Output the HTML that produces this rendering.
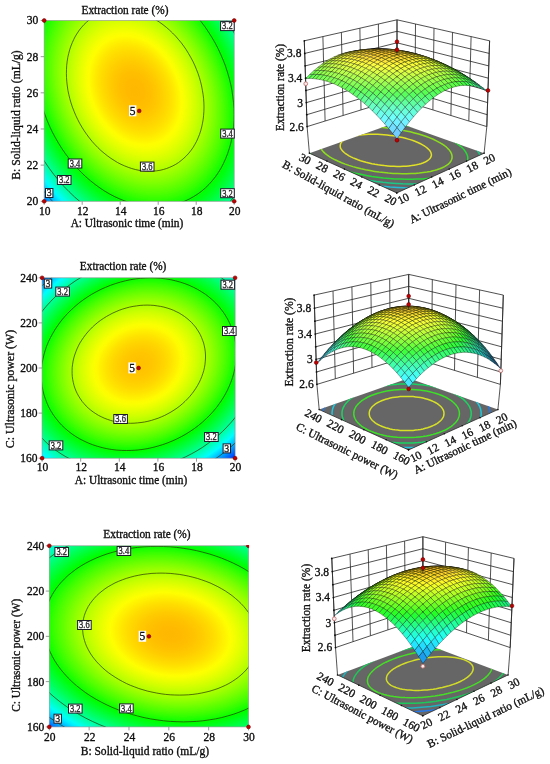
<!DOCTYPE html>
<html><head><meta charset="utf-8"><title>Response surface plots</title>
<style>html,body{margin:0;padding:0;background:#fff}svg{display:block}text{font-family:"Liberation Serif",serif}</style></head>
<body><svg width="550" height="764" viewBox="0 0 550 764">
<defs><filter id="soft" x="0" y="0" width="550" height="764" filterUnits="userSpaceOnUse"><feGaussianBlur stdDeviation="0.4"/></filter><radialGradient id="g1" gradientUnits="userSpaceOnUse" cx="0" cy="0" r="1" gradientTransform="matrix(145.570 0.000 -31.312 -175.358 135.18 90.26)"><stop offset="0.0000" stop-color="#ffb800"/><stop offset="0.0208" stop-color="#ffb800"/><stop offset="0.0417" stop-color="#ffb900"/><stop offset="0.0625" stop-color="#ffba00"/><stop offset="0.0833" stop-color="#ffbd00"/><stop offset="0.1042" stop-color="#ffbf00"/><stop offset="0.1250" stop-color="#ffc300"/><stop offset="0.1458" stop-color="#ffc700"/><stop offset="0.1667" stop-color="#ffcc00"/><stop offset="0.1875" stop-color="#ffd100"/><stop offset="0.2083" stop-color="#ffd700"/><stop offset="0.2292" stop-color="#ffdd00"/><stop offset="0.2500" stop-color="#ffe400"/><stop offset="0.2708" stop-color="#ffec00"/><stop offset="0.2917" stop-color="#fff500"/><stop offset="0.3125" stop-color="#fffe00"/><stop offset="0.3333" stop-color="#f7ff00"/><stop offset="0.3542" stop-color="#ecff00"/><stop offset="0.3750" stop-color="#e2ff00"/><stop offset="0.3958" stop-color="#d6ff00"/><stop offset="0.4167" stop-color="#caff00"/><stop offset="0.4375" stop-color="#bdff00"/><stop offset="0.4583" stop-color="#b0ff00"/><stop offset="0.4792" stop-color="#a2ff00"/><stop offset="0.5000" stop-color="#93ff00"/><stop offset="0.5208" stop-color="#84ff00"/><stop offset="0.5417" stop-color="#74ff00"/><stop offset="0.5625" stop-color="#64ff00"/><stop offset="0.5833" stop-color="#53ff00"/><stop offset="0.6042" stop-color="#41ff00"/><stop offset="0.6250" stop-color="#2fff00"/><stop offset="0.6458" stop-color="#1cff00"/><stop offset="0.6667" stop-color="#08ff00"/><stop offset="0.6875" stop-color="#00ff0c"/><stop offset="0.7083" stop-color="#00ff21"/><stop offset="0.7292" stop-color="#00ff36"/><stop offset="0.7500" stop-color="#00ff4d"/><stop offset="0.7708" stop-color="#00ff63"/><stop offset="0.7917" stop-color="#00ff7b"/><stop offset="0.8125" stop-color="#00ff92"/><stop offset="0.8333" stop-color="#00ffad"/><stop offset="0.8542" stop-color="#00ffc9"/><stop offset="0.8750" stop-color="#00ffe6"/><stop offset="0.8958" stop-color="#00faff"/><stop offset="0.9167" stop-color="#00dcff"/><stop offset="0.9375" stop-color="#00bdff"/><stop offset="0.9583" stop-color="#009dff"/><stop offset="0.9792" stop-color="#007dff"/><stop offset="1.0000" stop-color="#005cff"/></radialGradient><clipPath id="c1"><rect x="44.2" y="20.5" width="190" height="180.8"/></clipPath><radialGradient id="g2" gradientUnits="userSpaceOnUse" cx="0" cy="0" r="1" gradientTransform="matrix(153.441 0.000 19.163 -136.905 138.79 364.20)"><stop offset="0.0000" stop-color="#ffc100"/><stop offset="0.0208" stop-color="#ffc100"/><stop offset="0.0417" stop-color="#ffc200"/><stop offset="0.0625" stop-color="#ffc400"/><stop offset="0.0833" stop-color="#ffc600"/><stop offset="0.1042" stop-color="#ffc900"/><stop offset="0.1250" stop-color="#ffcd00"/><stop offset="0.1458" stop-color="#ffd100"/><stop offset="0.1667" stop-color="#ffd600"/><stop offset="0.1875" stop-color="#ffdc00"/><stop offset="0.2083" stop-color="#ffe200"/><stop offset="0.2292" stop-color="#ffea00"/><stop offset="0.2500" stop-color="#fff100"/><stop offset="0.2708" stop-color="#fffa00"/><stop offset="0.2917" stop-color="#fbff00"/><stop offset="0.3125" stop-color="#f2ff00"/><stop offset="0.3333" stop-color="#e7ff00"/><stop offset="0.3542" stop-color="#dcff00"/><stop offset="0.3750" stop-color="#d1ff00"/><stop offset="0.3958" stop-color="#c4ff00"/><stop offset="0.4167" stop-color="#b7ff00"/><stop offset="0.4375" stop-color="#a9ff00"/><stop offset="0.4583" stop-color="#9bff00"/><stop offset="0.4792" stop-color="#8cff00"/><stop offset="0.5000" stop-color="#7cff00"/><stop offset="0.5208" stop-color="#6cff00"/><stop offset="0.5417" stop-color="#5bff00"/><stop offset="0.5625" stop-color="#49ff00"/><stop offset="0.5833" stop-color="#37ff00"/><stop offset="0.6042" stop-color="#23ff00"/><stop offset="0.6250" stop-color="#10ff00"/><stop offset="0.6458" stop-color="#00ff05"/><stop offset="0.6667" stop-color="#00ff1a"/><stop offset="0.6875" stop-color="#00ff30"/><stop offset="0.7083" stop-color="#00ff46"/><stop offset="0.7292" stop-color="#00ff5d"/><stop offset="0.7500" stop-color="#00ff75"/><stop offset="0.7708" stop-color="#00ff8d"/><stop offset="0.7917" stop-color="#00ffa8"/><stop offset="0.8125" stop-color="#00ffc5"/><stop offset="0.8333" stop-color="#00ffe2"/><stop offset="0.8542" stop-color="#00fdff"/><stop offset="0.8750" stop-color="#00deff"/><stop offset="0.8958" stop-color="#00beff"/><stop offset="0.9167" stop-color="#009eff"/><stop offset="0.9375" stop-color="#007cff"/><stop offset="0.9583" stop-color="#005aff"/><stop offset="0.9792" stop-color="#0037ff"/><stop offset="1.0000" stop-color="#0014ff"/></radialGradient><clipPath id="c2"><rect x="42.1" y="277.8" width="193" height="180.4"/></clipPath><radialGradient id="g3" gradientUnits="userSpaceOnUse" cx="0" cy="0" r="1" gradientTransform="matrix(191.054 0.000 -20.150 -133.671 170.21 634.11)"><stop offset="0.0000" stop-color="#ffb800"/><stop offset="0.0208" stop-color="#ffb800"/><stop offset="0.0417" stop-color="#ffb900"/><stop offset="0.0625" stop-color="#ffbb00"/><stop offset="0.0833" stop-color="#ffbd00"/><stop offset="0.1042" stop-color="#ffc000"/><stop offset="0.1250" stop-color="#ffc300"/><stop offset="0.1458" stop-color="#ffc800"/><stop offset="0.1667" stop-color="#ffcc00"/><stop offset="0.1875" stop-color="#ffd200"/><stop offset="0.2083" stop-color="#ffd800"/><stop offset="0.2292" stop-color="#ffde00"/><stop offset="0.2500" stop-color="#ffe600"/><stop offset="0.2708" stop-color="#ffee00"/><stop offset="0.2917" stop-color="#fff600"/><stop offset="0.3125" stop-color="#feff00"/><stop offset="0.3333" stop-color="#f5ff00"/><stop offset="0.3542" stop-color="#eaff00"/><stop offset="0.3750" stop-color="#dfff00"/><stop offset="0.3958" stop-color="#d3ff00"/><stop offset="0.4167" stop-color="#c7ff00"/><stop offset="0.4375" stop-color="#baff00"/><stop offset="0.4583" stop-color="#acff00"/><stop offset="0.4792" stop-color="#9eff00"/><stop offset="0.5000" stop-color="#8fff00"/><stop offset="0.5208" stop-color="#7fff00"/><stop offset="0.5417" stop-color="#6fff00"/><stop offset="0.5625" stop-color="#5eff00"/><stop offset="0.5833" stop-color="#4dff00"/><stop offset="0.6042" stop-color="#3bff00"/><stop offset="0.6250" stop-color="#28ff00"/><stop offset="0.6458" stop-color="#14ff00"/><stop offset="0.6667" stop-color="#00ff00"/><stop offset="0.6875" stop-color="#00ff14"/><stop offset="0.7083" stop-color="#00ff2a"/><stop offset="0.7292" stop-color="#00ff40"/><stop offset="0.7500" stop-color="#00ff56"/><stop offset="0.7708" stop-color="#00ff6d"/><stop offset="0.7917" stop-color="#00ff85"/><stop offset="0.8125" stop-color="#00ff9e"/><stop offset="0.8333" stop-color="#00ffba"/><stop offset="0.8542" stop-color="#00ffd7"/><stop offset="0.8750" stop-color="#00fff5"/><stop offset="0.8958" stop-color="#00ebff"/><stop offset="0.9167" stop-color="#00ccff"/><stop offset="0.9375" stop-color="#00acff"/><stop offset="0.9583" stop-color="#008cff"/><stop offset="0.9792" stop-color="#006bff"/><stop offset="1.0000" stop-color="#0049ff"/></radialGradient><clipPath id="c3"><rect x="49.3" y="545.8" width="199.2" height="181.1"/></clipPath><clipPath id="ctr3"><rect x="238.5" y="545" width="10.6" height="12"/></clipPath><clipPath id="f1"><path d="M396.8 192.9 L484.1 153.2 L396.8 122.2 L309.4 153.2Z"/></clipPath><clipPath id="f2"><path d="M408.6 449.9 L497.9 409.6 L408.6 378.2 L319.2 409.6Z"/></clipPath><clipPath id="f3"><path d="M422.8 715.8 L508.1 674.9 L422.8 643.1 L337.5 674.9Z"/></clipPath></defs>
<rect width="550" height="764" fill="#fff"/>
<g filter="url(#soft)">
<rect x="44.2" y="20.5" width="190" height="180.8" fill="url(#g1)"/>
<g clip-path="url(#c1)" fill="none" stroke="#223000" stroke-opacity="0.85" stroke-width="0.8">
<path d="M289.6 90.3 L287.6 80.5 L285.3 70.8 L282.5 61.2 L279.3 51.6 L275.7 42.1 L271.8 32.8 L267.4 23.6 L262.7 14.6 L257.7 5.8 L252.3 -2.7 L246.6 -11.0 L240.6 -19.1 L234.3 -26.8 L227.7 -34.2 L220.9 -41.3 L213.8 -48.0 L206.5 -54.3 L199.1 -60.2 L191.4 -65.7 L183.6 -70.8 L175.7 -75.5 L167.6 -79.7 L159.5 -83.4 L151.3 -86.6 L143.1 -89.4 L134.8 -91.7 L126.5 -93.4 L118.3 -94.7 L110.1 -95.5 L102.0 -95.7 L93.9 -95.5 L86.0 -94.7 L78.2 -93.4 L70.6 -91.7 L63.1 -89.4 L55.9 -86.6 L48.8 -83.4 L42.0 -79.7 L35.5 -75.5 L29.2 -70.8 L23.2 -65.7 L17.6 -60.2 L12.2 -54.3 L7.2 -48.0 L2.5 -41.3 L-1.8 -34.2 L-5.7 -26.8 L-9.3 -19.1 L-12.4 -11.0 L-15.1 -2.7 L-17.5 5.8 L-19.4 14.6 L-20.9 23.6 L-21.9 32.8 L-22.6 42.1 L-22.8 51.6 L-22.5 61.2 L-21.8 70.8 L-20.7 80.5 L-19.2 90.3 L-17.3 100.0 L-14.9 109.7 L-12.1 119.4 L-8.9 128.9 L-5.4 138.4 L-1.4 147.7 L2.9 156.9 L7.6 165.9 L12.7 174.7 L18.1 183.3 L23.8 191.6 L29.8 199.6 L36.1 207.3 L42.7 214.7 L49.5 221.8 L56.5 228.5 L63.8 234.8 L71.3 240.7 L78.9 246.2 L86.7 251.3 L94.7 256.0 L102.7 260.2 L110.9 263.9 L119.1 267.2 L127.3 269.9 L135.6 272.2 L143.8 274.0 L152.1 275.2 L160.3 276.0 L168.4 276.3 L176.4 276.0 L184.4 275.2 L192.1 274.0 L199.8 272.2 L207.2 269.9 L214.5 267.2 L221.5 263.9 L228.3 260.2 L234.9 256.0 L241.1 251.3 L247.1 246.2 L252.8 240.7 L258.2 234.8 L263.2 228.5 L267.8 221.8 L272.1 214.7 L276.1 207.3 L279.6 199.6 L282.8 191.6 L285.5 183.3 L287.8 174.7 L289.7 165.9 L291.2 156.9 L292.3 147.7 L292.9 138.4 L293.1 128.9 L292.9 119.4 L292.2 109.7 L291.1 100.0 L289.6 90.3Z"/>
<path d="M273.1 90.3 L271.3 81.6 L269.2 72.9 L266.7 64.3 L263.9 55.7 L260.7 47.3 L257.1 38.9 L253.3 30.7 L249.1 22.7 L244.6 14.9 L239.8 7.2 L234.7 -0.2 L229.3 -7.4 L223.7 -14.3 L217.8 -20.9 L211.7 -27.2 L205.4 -33.2 L198.9 -38.8 L192.2 -44.1 L185.4 -49.0 L178.4 -53.6 L171.4 -57.7 L164.2 -61.5 L156.9 -64.8 L149.6 -67.7 L142.2 -70.2 L134.8 -72.2 L127.5 -73.8 L120.1 -74.9 L112.8 -75.6 L105.5 -75.8 L98.3 -75.6 L91.3 -74.9 L84.3 -73.8 L77.5 -72.2 L70.8 -70.2 L64.4 -67.7 L58.1 -64.8 L52.0 -61.5 L46.2 -57.7 L40.6 -53.6 L35.2 -49.0 L30.1 -44.1 L25.4 -38.8 L20.9 -33.2 L16.7 -27.2 L12.9 -20.9 L9.4 -14.3 L6.2 -7.4 L3.4 -0.2 L0.9 7.2 L-1.1 14.9 L-2.8 22.7 L-4.2 30.7 L-5.1 38.9 L-5.7 47.3 L-5.9 55.7 L-5.6 64.3 L-5.0 72.9 L-4.1 81.6 L-2.7 90.3 L-1.0 99.0 L1.2 107.6 L3.6 116.2 L6.5 124.8 L9.7 133.2 L13.2 141.6 L17.1 149.8 L21.3 157.8 L25.8 165.7 L30.6 173.3 L35.7 180.7 L41.1 187.9 L46.7 194.8 L52.6 201.4 L58.7 207.7 L65.0 213.7 L71.5 219.3 L78.1 224.6 L85.0 229.6 L91.9 234.1 L99.0 238.3 L106.2 242.0 L113.5 245.3 L120.8 248.2 L128.1 250.7 L135.5 252.7 L142.9 254.3 L150.3 255.4 L157.6 256.1 L164.8 256.4 L172.0 256.1 L179.1 255.4 L186.0 254.3 L192.9 252.7 L199.5 250.7 L206.0 248.2 L212.3 245.3 L218.4 242.0 L224.2 238.3 L229.8 234.1 L235.1 229.6 L240.2 224.6 L245.0 219.3 L249.5 213.7 L253.6 207.7 L257.5 201.4 L261.0 194.8 L264.2 187.9 L267.0 180.7 L269.4 173.3 L271.5 165.7 L273.2 157.8 L274.5 149.8 L275.5 141.6 L276.0 133.2 L276.2 124.8 L276.0 116.2 L275.4 107.6 L274.4 99.0 L273.1 90.3Z"/>
<path d="M254.3 90.3 L252.8 82.8 L250.9 75.3 L248.8 67.8 L246.3 60.4 L243.6 53.1 L240.5 45.9 L237.2 38.9 L233.6 31.9 L229.7 25.1 L225.5 18.5 L221.1 12.1 L216.5 5.9 L211.6 -0.0 L206.5 -5.7 L201.3 -11.2 L195.8 -16.3 L190.2 -21.2 L184.5 -25.8 L178.6 -30.1 L172.5 -34.0 L166.4 -37.6 L160.2 -40.8 L153.9 -43.7 L147.6 -46.2 L141.3 -48.3 L134.9 -50.1 L128.5 -51.4 L122.2 -52.4 L115.8 -53.0 L109.6 -53.2 L103.4 -53.0 L97.3 -52.4 L91.3 -51.4 L85.4 -50.1 L79.6 -48.3 L74.0 -46.2 L68.6 -43.7 L63.3 -40.8 L58.3 -37.6 L53.5 -34.0 L48.8 -30.1 L44.5 -25.8 L40.3 -21.2 L36.5 -16.3 L32.9 -11.2 L29.5 -5.7 L26.5 -0.0 L23.8 5.9 L21.4 12.1 L19.2 18.5 L17.4 25.1 L16.0 31.9 L14.8 38.9 L14.0 45.9 L13.5 53.1 L13.4 60.4 L13.6 67.8 L14.1 75.3 L14.9 82.8 L16.1 90.3 L17.6 97.8 L19.4 105.3 L21.6 112.7 L24.0 120.1 L26.8 127.4 L29.8 134.6 L33.2 141.7 L36.8 148.6 L40.7 155.4 L44.9 162.0 L49.3 168.4 L53.9 174.6 L58.8 180.5 L63.8 186.3 L69.1 191.7 L74.5 196.9 L80.1 201.7 L85.9 206.3 L91.8 210.6 L97.8 214.5 L103.9 218.1 L110.1 221.3 L116.4 224.2 L122.7 226.7 L129.1 228.8 L135.5 230.6 L141.9 232.0 L148.2 232.9 L154.5 233.5 L160.8 233.7 L167.0 233.5 L173.1 232.9 L179.1 232.0 L185.0 230.6 L190.7 228.8 L196.3 226.7 L201.8 224.2 L207.0 221.3 L212.1 218.1 L216.9 214.5 L221.5 210.6 L225.9 206.3 L230.0 201.7 L233.9 196.9 L237.5 191.7 L240.8 186.3 L243.9 180.5 L246.6 174.6 L249.0 168.4 L251.1 162.0 L252.9 155.4 L254.4 148.6 L255.5 141.7 L256.4 134.6 L256.8 127.4 L257.0 120.1 L256.8 112.7 L256.3 105.3 L255.4 97.8 L254.3 90.3Z"/>
<path d="M231.9 90.3 L230.7 84.2 L229.2 78.1 L227.4 72.0 L225.5 66.0 L223.2 60.1 L220.7 54.3 L218.0 48.5 L215.1 42.9 L211.9 37.4 L208.5 32.0 L205.0 26.8 L201.2 21.8 L197.2 16.9 L193.1 12.3 L188.9 7.9 L184.4 3.7 L179.9 -0.3 L175.2 -4.0 L170.4 -7.4 L165.5 -10.6 L160.6 -13.5 L155.5 -16.2 L150.4 -18.5 L145.3 -20.5 L140.1 -22.3 L134.9 -23.7 L129.8 -24.8 L124.6 -25.6 L119.5 -26.1 L114.4 -26.2 L109.3 -26.1 L104.4 -25.6 L99.5 -24.8 L94.7 -23.7 L90.1 -22.3 L85.5 -20.5 L81.1 -18.5 L76.8 -16.2 L72.7 -13.5 L68.8 -10.6 L65.1 -7.4 L61.5 -4.0 L58.2 -0.3 L55.0 3.7 L52.1 7.9 L49.4 12.3 L46.9 16.9 L44.7 21.8 L42.7 26.8 L41.0 32.0 L39.6 37.4 L38.4 42.9 L37.4 48.5 L36.8 54.3 L36.4 60.1 L36.3 66.0 L36.4 72.0 L36.8 78.1 L37.5 84.2 L38.5 90.3 L39.7 96.4 L41.2 102.4 L42.9 108.5 L44.9 114.5 L47.1 120.4 L49.6 126.3 L52.3 132.0 L55.3 137.6 L58.5 143.2 L61.8 148.5 L65.4 153.7 L69.2 158.7 L73.1 163.6 L77.2 168.2 L81.5 172.6 L85.9 176.8 L90.5 180.8 L95.2 184.5 L100.0 188.0 L104.8 191.2 L109.8 194.1 L114.8 196.7 L119.9 199.0 L125.1 201.1 L130.2 202.8 L135.4 204.2 L140.6 205.3 L145.8 206.1 L150.9 206.6 L156.0 206.8 L161.0 206.6 L166.0 206.1 L170.9 205.3 L175.6 204.2 L180.3 202.8 L184.9 201.1 L189.3 199.0 L193.5 196.7 L197.6 194.1 L201.6 191.2 L205.3 188.0 L208.9 184.5 L212.2 180.8 L215.4 176.8 L218.3 172.6 L221.0 168.2 L223.4 163.6 L225.6 158.7 L227.6 153.7 L229.3 148.5 L230.8 143.2 L232.0 137.6 L232.9 132.0 L233.6 126.3 L234.0 120.4 L234.1 114.5 L234.0 108.5 L233.5 102.4 L232.8 96.4 L231.9 90.3Z"/>
<path d="M202.4 90.3 L201.6 86.0 L200.6 81.8 L199.4 77.6 L198.0 73.4 L196.4 69.3 L194.7 65.2 L192.8 61.2 L190.7 57.3 L188.5 53.5 L186.2 49.7 L183.7 46.1 L181.1 42.6 L178.3 39.3 L175.5 36.0 L172.5 33.0 L169.4 30.0 L166.3 27.3 L163.0 24.7 L159.7 22.3 L156.3 20.1 L152.8 18.1 L149.3 16.2 L145.8 14.6 L142.2 13.2 L138.6 12.0 L135.0 11.0 L131.4 10.2 L127.8 9.7 L124.3 9.3 L120.7 9.2 L117.2 9.3 L113.8 9.7 L110.4 10.2 L107.0 11.0 L103.8 12.0 L100.6 13.2 L97.6 14.6 L94.6 16.2 L91.8 18.1 L89.0 20.1 L86.4 22.3 L83.9 24.7 L81.6 27.3 L79.4 30.0 L77.4 33.0 L75.5 36.0 L73.8 39.3 L72.3 42.6 L70.9 46.1 L69.7 49.7 L68.7 53.5 L67.8 57.3 L67.2 61.2 L66.7 65.2 L66.5 69.3 L66.4 73.4 L66.5 77.6 L66.8 81.8 L67.3 86.0 L67.9 90.3 L68.8 94.5 L69.8 98.7 L71.0 102.9 L72.4 107.1 L74.0 111.2 L75.7 115.3 L77.6 119.3 L79.6 123.2 L81.8 127.0 L84.2 130.8 L86.7 134.4 L89.3 137.9 L92.0 141.3 L94.9 144.5 L97.9 147.6 L100.9 150.5 L104.1 153.2 L107.4 155.8 L110.7 158.2 L114.1 160.4 L117.5 162.5 L121.0 164.3 L124.6 165.9 L128.2 167.3 L131.7 168.5 L135.3 169.5 L138.9 170.3 L142.5 170.8 L146.1 171.2 L149.6 171.3 L153.1 171.2 L156.6 170.8 L160.0 170.3 L163.3 169.5 L166.6 168.5 L169.7 167.3 L172.8 165.9 L175.8 164.3 L178.6 162.5 L181.3 160.4 L183.9 158.2 L186.4 155.8 L188.8 153.2 L190.9 150.5 L193.0 147.6 L194.8 144.5 L196.6 141.3 L198.1 137.9 L199.5 134.4 L200.7 130.8 L201.7 127.0 L202.5 123.2 L203.2 119.3 L203.6 115.3 L203.9 111.2 L204.0 107.1 L203.9 102.9 L203.6 98.7 L203.1 94.5 L202.4 90.3Z"/>
</g>
<rect x="44.2" y="20.5" width="190" height="180.8" fill="none" stroke="#8c8c8c" stroke-opacity="0.75" stroke-width="0.8"/>
<text x="44.7" y="215.4" font-size="11.5" text-anchor="middle" fill="#0a0a0a" stroke="#0a0a0a" stroke-width="0.3">10</text>
<text x="82.7" y="215.4" font-size="11.5" text-anchor="middle" fill="#0a0a0a" stroke="#0a0a0a" stroke-width="0.3">12</text>
<text x="120.7" y="215.4" font-size="11.5" text-anchor="middle" fill="#0a0a0a" stroke="#0a0a0a" stroke-width="0.3">14</text>
<text x="158.7" y="215.4" font-size="11.5" text-anchor="middle" fill="#0a0a0a" stroke="#0a0a0a" stroke-width="0.3">16</text>
<text x="196.7" y="215.4" font-size="11.5" text-anchor="middle" fill="#0a0a0a" stroke="#0a0a0a" stroke-width="0.3">18</text>
<text x="234.7" y="215.4" font-size="11.5" text-anchor="middle" fill="#0a0a0a" stroke="#0a0a0a" stroke-width="0.3">20</text>
<text x="38.2" y="205.2" font-size="11.5" text-anchor="end" fill="#0a0a0a" stroke="#0a0a0a" stroke-width="0.3">20</text>
<text x="38.2" y="169.04" font-size="11.5" text-anchor="end" fill="#0a0a0a" stroke="#0a0a0a" stroke-width="0.3">22</text>
<text x="38.2" y="132.88" font-size="11.5" text-anchor="end" fill="#0a0a0a" stroke="#0a0a0a" stroke-width="0.3">24</text>
<text x="38.2" y="96.72" font-size="11.5" text-anchor="end" fill="#0a0a0a" stroke="#0a0a0a" stroke-width="0.3">26</text>
<text x="38.2" y="60.56" font-size="11.5" text-anchor="end" fill="#0a0a0a" stroke="#0a0a0a" stroke-width="0.3">28</text>
<text x="38.2" y="24.4" font-size="11.5" text-anchor="end" fill="#0a0a0a" stroke="#0a0a0a" stroke-width="0.3">30</text>
<path d="M44.2 201.3v3.5 M82.2 201.3v3.5 M120.2 201.3v3.5 M158.2 201.3v3.5 M196.2 201.3v3.5 M234.2 201.3v3.5 M44.2 201.3h-3.5 M44.2 165.14h-3.5 M44.2 128.98h-3.5 M44.2 92.82h-3.5 M44.2 56.66h-3.5 M44.2 20.5h-3.5" stroke="#808080" stroke-width="0.8" fill="none"/>
<text x="125" y="13.6" font-size="11.5" text-anchor="middle" fill="#0a0a0a" stroke="#0a0a0a" stroke-width="0.3" textLength="87" lengthAdjust="spacingAndGlyphs">Extraction rate (%)</text>
<text x="127" y="226.7" font-size="11.5" text-anchor="middle" fill="#0a0a0a" stroke="#0a0a0a" stroke-width="0.3" textLength="112.7" lengthAdjust="spacingAndGlyphs">A: Ultrasonic time (min)</text>
<text x="20.3" y="115" font-size="11.5" text-anchor="middle" fill="#0a0a0a" stroke="#0a0a0a" stroke-width="0.3" transform="rotate(-90 20.3 115)" textLength="129.4" lengthAdjust="spacingAndGlyphs">B: Solid-liquid ratio (mL/g)</text>
<rect x="45.5" y="188.5" width="7.4" height="9" fill="#fff" stroke="#1a1a2a" stroke-width="1"/>
<text x="49.2" y="196.3" font-size="9.8" text-anchor="middle" fill="#2a2a2a" stroke="#2a2a2a" stroke-width="0.35">3</text>
<rect x="57.4" y="175.5" width="13.6" height="9" fill="#fff" stroke="#1a1a2a" stroke-width="1"/>
<text x="64.2" y="183.3" font-size="9.8" text-anchor="middle" fill="#2a2a2a" stroke="#2a2a2a" stroke-width="0.35" textLength="10.6" lengthAdjust="spacingAndGlyphs">3.2</text>
<rect x="68.2" y="159" width="13.6" height="9" fill="#fff" stroke="#1a1a2a" stroke-width="1"/>
<text x="75" y="166.8" font-size="9.8" text-anchor="middle" fill="#2a2a2a" stroke="#2a2a2a" stroke-width="0.35" textLength="10.6" lengthAdjust="spacingAndGlyphs">3.4</text>
<rect x="140.4" y="162.1" width="13.6" height="9" fill="#fff" stroke="#1a1a2a" stroke-width="1"/>
<text x="147.2" y="169.9" font-size="9.8" text-anchor="middle" fill="#2a2a2a" stroke="#2a2a2a" stroke-width="0.35" textLength="10.6" lengthAdjust="spacingAndGlyphs">3.6</text>
<rect x="220.7" y="129.1" width="13.6" height="9" fill="#fff" stroke="#1a1a2a" stroke-width="1"/>
<text x="227.5" y="136.9" font-size="9.8" text-anchor="middle" fill="#2a2a2a" stroke="#2a2a2a" stroke-width="0.35" textLength="10.6" lengthAdjust="spacingAndGlyphs">3.4</text>
<rect x="220.6" y="21.6" width="13.6" height="9" fill="#fff" stroke="#1a1a2a" stroke-width="1"/>
<text x="227.4" y="29.4" font-size="9.8" text-anchor="middle" fill="#2a2a2a" stroke="#2a2a2a" stroke-width="0.35" textLength="10.6" lengthAdjust="spacingAndGlyphs">3.2</text>
<rect x="220.7" y="188.7" width="13.6" height="9" fill="#fff" stroke="#1a1a2a" stroke-width="1"/>
<text x="227.5" y="196.5" font-size="9.8" text-anchor="middle" fill="#2a2a2a" stroke="#2a2a2a" stroke-width="0.35" textLength="10.6" lengthAdjust="spacingAndGlyphs">3.2</text>
<rect x="129" y="105.3" width="7.4" height="11" fill="#fff"/>
<text x="132.7" y="114.7" font-size="11.5" text-anchor="middle" fill="#0a0a0a" stroke="#0a0a0a" stroke-width="0.3">5</text>
<circle cx="44.2" cy="20.5" r="1.9" fill="#c00000" stroke="#6e0000" stroke-width="0.6"/>
<circle cx="234.2" cy="20.5" r="1.9" fill="#c00000" stroke="#6e0000" stroke-width="0.6"/>
<circle cx="44.2" cy="201.3" r="1.9" fill="#c00000" stroke="#6e0000" stroke-width="0.6"/>
<circle cx="234.2" cy="201.3" r="1.9" fill="#c00000" stroke="#6e0000" stroke-width="0.6"/>
<circle cx="139.2" cy="110.9" r="1.9" fill="#c00000" stroke="#6e0000" stroke-width="0.6"/>
<rect x="42.1" y="277.8" width="193" height="180.4" fill="url(#g2)"/>
<g clip-path="url(#c2)" fill="none" stroke="#223000" stroke-opacity="0.85" stroke-width="0.8">
<path d="M294.7 364.2 L295.5 356.9 L295.9 349.7 L295.8 342.4 L295.4 335.3 L294.4 328.2 L293.1 321.2 L291.3 314.3 L289.2 307.6 L286.6 301.0 L283.6 294.6 L280.2 288.4 L276.4 282.4 L272.2 276.6 L267.7 271.1 L262.8 265.8 L257.6 260.8 L252.1 256.1 L246.2 251.6 L240.0 247.5 L233.6 243.7 L226.9 240.2 L220.0 237.1 L212.9 234.3 L205.5 231.9 L198.0 229.8 L190.3 228.1 L182.4 226.8 L174.5 225.8 L166.4 225.3 L158.3 225.1 L150.1 225.3 L141.9 225.8 L133.6 226.8 L125.4 228.1 L117.2 229.8 L109.1 231.9 L101.1 234.3 L93.2 237.1 L85.4 240.2 L77.7 243.7 L70.2 247.5 L62.9 251.6 L55.8 256.1 L48.9 260.8 L42.3 265.8 L35.9 271.1 L29.9 276.6 L24.1 282.4 L18.6 288.4 L13.5 294.6 L8.7 301.0 L4.3 307.6 L0.2 314.3 L-3.5 321.2 L-6.8 328.2 L-9.7 335.3 L-12.2 342.4 L-14.2 349.7 L-15.9 356.9 L-17.1 364.2 L-17.9 371.5 L-18.3 378.7 L-18.3 386.0 L-17.8 393.1 L-16.9 400.2 L-15.5 407.2 L-13.8 414.1 L-11.6 420.8 L-9.0 427.4 L-6.0 433.8 L-2.6 440.0 L1.2 446.0 L5.4 451.8 L9.9 457.3 L14.8 462.6 L20.0 467.6 L25.5 472.3 L31.4 476.8 L37.5 480.9 L44.0 484.7 L50.7 488.2 L57.6 491.3 L64.7 494.1 L72.1 496.5 L79.6 498.6 L87.3 500.3 L95.2 501.6 L103.1 502.6 L111.2 503.1 L119.3 503.3 L127.5 503.1 L135.7 502.6 L144.0 501.6 L152.2 500.3 L160.3 498.6 L168.5 496.5 L176.5 494.1 L184.4 491.3 L192.2 488.2 L199.9 484.7 L207.4 480.9 L214.7 476.8 L221.8 472.3 L228.7 467.6 L235.3 462.6 L241.6 457.3 L247.7 451.8 L253.5 446.0 L259.0 440.0 L264.1 433.8 L268.9 427.4 L273.3 420.8 L277.4 414.1 L281.1 407.2 L284.4 400.2 L287.3 393.1 L289.8 386.0 L291.8 378.7 L293.5 371.5 L294.7 364.2Z"/>
<path d="M277.8 364.2 L278.5 357.7 L278.9 351.2 L278.8 344.8 L278.4 338.4 L277.6 332.1 L276.4 325.9 L274.8 319.7 L272.9 313.7 L270.6 307.9 L267.9 302.2 L264.9 296.6 L261.5 291.3 L257.8 286.1 L253.7 281.2 L249.4 276.5 L244.7 272.0 L239.8 267.8 L234.6 263.8 L229.1 260.2 L223.3 256.8 L217.4 253.7 L211.2 250.9 L204.8 248.4 L198.3 246.2 L191.6 244.4 L184.7 242.9 L177.7 241.7 L170.6 240.8 L163.4 240.3 L156.2 240.1 L148.9 240.3 L141.5 240.8 L134.2 241.7 L126.9 242.9 L119.6 244.4 L112.3 246.2 L105.2 248.4 L98.1 250.9 L91.1 253.7 L84.3 256.8 L77.6 260.2 L71.1 263.8 L64.8 267.8 L58.7 272.0 L52.8 276.5 L47.1 281.2 L41.7 286.1 L36.5 291.3 L31.6 296.6 L27.1 302.2 L22.8 307.9 L18.8 313.7 L15.2 319.7 L11.9 325.9 L9.0 332.1 L6.4 338.4 L4.2 344.8 L2.3 351.2 L0.9 357.7 L-0.2 364.2 L-1.0 370.7 L-1.3 377.2 L-1.2 383.6 L-0.8 390.0 L0.0 396.3 L1.2 402.5 L2.8 408.7 L4.7 414.7 L7.0 420.5 L9.7 426.2 L12.7 431.8 L16.1 437.1 L19.8 442.3 L23.9 447.2 L28.2 451.9 L32.9 456.4 L37.8 460.6 L43.0 464.6 L48.5 468.2 L54.2 471.6 L60.2 474.7 L66.4 477.5 L72.8 480.0 L79.3 482.2 L86.0 484.0 L92.9 485.5 L99.9 486.7 L107.0 487.6 L114.2 488.1 L121.4 488.2 L128.7 488.1 L136.1 487.6 L143.4 486.7 L150.7 485.5 L158.0 484.0 L165.2 482.2 L172.4 480.0 L179.5 477.5 L186.4 474.7 L193.3 471.6 L200.0 468.2 L206.5 464.6 L212.8 460.6 L218.9 456.4 L224.8 451.9 L230.5 447.2 L235.9 442.3 L241.1 437.1 L245.9 431.8 L250.5 426.2 L254.8 420.5 L258.7 414.7 L262.4 408.7 L265.7 402.5 L268.6 396.3 L271.2 390.0 L273.4 383.6 L275.3 377.2 L276.7 370.7 L277.8 364.2Z"/>
<path d="M258.6 364.2 L259.2 358.6 L259.5 353.0 L259.4 347.5 L259.1 342.0 L258.4 336.5 L257.3 331.2 L256.0 325.9 L254.3 320.7 L252.3 315.7 L250.0 310.8 L247.4 306.0 L244.5 301.4 L241.3 296.9 L237.8 292.7 L234.1 288.6 L230.1 284.8 L225.8 281.1 L221.3 277.7 L216.6 274.6 L211.6 271.6 L206.5 269.0 L201.2 266.6 L195.7 264.4 L190.0 262.6 L184.2 261.0 L178.3 259.7 L172.3 258.6 L166.2 257.9 L160.0 257.5 L153.8 257.3 L147.5 257.5 L141.2 257.9 L134.8 258.6 L128.5 259.7 L122.2 261.0 L116.0 262.6 L109.8 264.4 L103.7 266.6 L97.7 269.0 L91.9 271.6 L86.1 274.6 L80.5 277.7 L75.0 281.1 L69.8 284.8 L64.7 288.6 L59.8 292.7 L55.1 296.9 L50.7 301.4 L46.5 306.0 L42.5 310.8 L38.9 315.7 L35.4 320.7 L32.3 325.9 L29.5 331.2 L27.0 336.5 L24.7 342.0 L22.8 347.5 L21.2 353.0 L20.0 358.6 L19.0 364.2 L18.4 369.8 L18.1 375.4 L18.1 380.9 L18.5 386.4 L19.2 391.9 L20.2 397.2 L21.6 402.5 L23.3 407.7 L25.3 412.7 L27.6 417.6 L30.2 422.4 L33.1 427.0 L36.3 431.5 L39.8 435.7 L43.5 439.8 L47.5 443.6 L51.8 447.3 L56.3 450.7 L61.0 453.8 L65.9 456.8 L71.1 459.4 L76.4 461.8 L81.9 464.0 L87.6 465.8 L93.3 467.4 L99.3 468.7 L105.3 469.8 L111.4 470.5 L117.6 470.9 L123.8 471.1 L130.1 470.9 L136.4 470.5 L142.8 469.8 L149.1 468.7 L155.3 467.4 L161.6 465.8 L167.8 464.0 L173.8 461.8 L179.8 459.4 L185.7 456.8 L191.5 453.8 L197.1 450.7 L202.6 447.3 L207.8 443.6 L212.9 439.8 L217.8 435.7 L222.5 431.5 L226.9 427.0 L231.1 422.4 L235.1 417.6 L238.7 412.7 L242.1 407.7 L245.3 402.5 L248.1 397.2 L250.6 391.9 L252.9 386.4 L254.8 380.9 L256.4 375.4 L257.6 369.8 L258.6 364.2Z"/>
<path d="M235.6 364.2 L236.1 359.7 L236.3 355.2 L236.3 350.7 L236.0 346.2 L235.4 341.8 L234.6 337.5 L233.5 333.3 L232.1 329.1 L230.5 325.0 L228.6 321.0 L226.5 317.2 L224.2 313.4 L221.6 309.9 L218.8 306.4 L215.8 303.1 L212.5 300.0 L209.1 297.1 L205.5 294.3 L201.6 291.8 L197.6 289.4 L193.5 287.3 L189.2 285.3 L184.8 283.6 L180.2 282.1 L175.5 280.8 L170.7 279.7 L165.9 278.9 L160.9 278.3 L155.9 278.0 L150.9 277.8 L145.8 278.0 L140.7 278.3 L135.6 278.9 L130.5 279.7 L125.4 280.8 L120.4 282.1 L115.4 283.6 L110.5 285.3 L105.6 287.3 L100.9 289.4 L96.2 291.8 L91.7 294.3 L87.3 297.1 L83.0 300.0 L78.9 303.1 L75.0 306.4 L71.2 309.9 L67.6 313.4 L64.2 317.2 L61.0 321.0 L58.1 325.0 L55.3 329.1 L52.8 333.3 L50.5 337.5 L48.4 341.8 L46.6 346.2 L45.1 350.7 L43.8 355.2 L42.8 359.7 L42.0 364.2 L41.5 368.7 L41.3 373.2 L41.3 377.7 L41.6 382.1 L42.2 386.5 L43.0 390.9 L44.1 395.1 L45.5 399.3 L47.1 403.4 L48.9 407.4 L51.0 411.2 L53.4 415.0 L56.0 418.5 L58.8 422.0 L61.8 425.3 L65.1 428.4 L68.5 431.3 L72.1 434.1 L75.9 436.6 L79.9 439.0 L84.1 441.1 L88.4 443.1 L92.8 444.8 L97.4 446.3 L102.1 447.6 L106.9 448.7 L111.7 449.5 L116.7 450.1 L121.7 450.4 L126.7 450.5 L131.8 450.4 L136.9 450.1 L142.0 449.5 L147.1 448.7 L152.2 447.6 L157.2 446.3 L162.2 444.8 L167.1 443.1 L172.0 441.1 L176.7 439.0 L181.4 436.6 L185.9 434.1 L190.3 431.3 L194.6 428.4 L198.7 425.3 L202.6 422.0 L206.4 418.5 L210.0 415.0 L213.4 411.2 L216.6 407.4 L219.5 403.4 L222.3 399.3 L224.8 395.1 L227.1 390.9 L229.1 386.5 L230.9 382.1 L232.5 377.7 L233.8 373.2 L234.8 368.7 L235.6 364.2Z"/>
<path d="M205.0 364.2 L205.3 361.1 L205.5 358.0 L205.5 355.0 L205.3 351.9 L204.9 348.9 L204.3 345.9 L203.6 343.0 L202.6 340.2 L201.5 337.4 L200.3 334.7 L198.8 332.0 L197.2 329.5 L195.5 327.0 L193.5 324.7 L191.5 322.4 L189.2 320.3 L186.9 318.3 L184.4 316.4 L181.8 314.7 L179.1 313.0 L176.2 311.6 L173.3 310.2 L170.2 309.0 L167.1 308.0 L163.9 307.1 L160.6 306.4 L157.3 305.9 L153.9 305.4 L150.5 305.2 L147.1 305.1 L143.6 305.2 L140.1 305.4 L136.6 305.9 L133.1 306.4 L129.6 307.1 L126.2 308.0 L122.8 309.0 L119.4 310.2 L116.1 311.6 L112.9 313.0 L109.7 314.7 L106.6 316.4 L103.6 318.3 L100.6 320.3 L97.8 322.4 L95.1 324.7 L92.5 327.0 L90.1 329.5 L87.8 332.0 L85.6 334.7 L83.6 337.4 L81.7 340.2 L79.9 343.0 L78.4 345.9 L77.0 348.9 L75.8 351.9 L74.7 355.0 L73.8 358.0 L73.1 361.1 L72.6 364.2 L72.2 367.3 L72.1 370.4 L72.1 373.4 L72.3 376.5 L72.7 379.5 L73.3 382.5 L74.0 385.4 L74.9 388.2 L76.0 391.0 L77.3 393.7 L78.8 396.4 L80.4 398.9 L82.1 401.4 L84.1 403.7 L86.1 406.0 L88.3 408.1 L90.7 410.1 L93.2 412.0 L95.8 413.7 L98.5 415.4 L101.4 416.8 L104.3 418.2 L107.3 419.3 L110.5 420.4 L113.7 421.3 L116.9 422.0 L120.3 422.5 L123.6 422.9 L127.1 423.2 L130.5 423.3 L134.0 423.2 L137.5 422.9 L141.0 422.5 L144.5 422.0 L147.9 421.3 L151.4 420.4 L154.8 419.3 L158.2 418.2 L161.5 416.8 L164.7 415.4 L167.9 413.7 L171.0 412.0 L174.0 410.1 L177.0 408.1 L179.8 406.0 L182.5 403.7 L185.0 401.4 L187.5 398.9 L189.8 396.4 L192.0 393.7 L194.0 391.0 L195.9 388.2 L197.6 385.4 L199.2 382.5 L200.6 379.5 L201.8 376.5 L202.9 373.4 L203.8 370.4 L204.5 367.3 L205.0 364.2Z"/>
</g>
<rect x="42.1" y="277.8" width="193" height="180.4" fill="none" stroke="#8c8c8c" stroke-opacity="0.75" stroke-width="0.8"/>
<text x="42.6" y="470.9" font-size="11.5" text-anchor="middle" fill="#0a0a0a" stroke="#0a0a0a" stroke-width="0.3">10</text>
<text x="81.2" y="470.9" font-size="11.5" text-anchor="middle" fill="#0a0a0a" stroke="#0a0a0a" stroke-width="0.3">12</text>
<text x="119.8" y="470.9" font-size="11.5" text-anchor="middle" fill="#0a0a0a" stroke="#0a0a0a" stroke-width="0.3">14</text>
<text x="158.4" y="470.9" font-size="11.5" text-anchor="middle" fill="#0a0a0a" stroke="#0a0a0a" stroke-width="0.3">16</text>
<text x="197" y="470.9" font-size="11.5" text-anchor="middle" fill="#0a0a0a" stroke="#0a0a0a" stroke-width="0.3">18</text>
<text x="235.6" y="470.9" font-size="11.5" text-anchor="middle" fill="#0a0a0a" stroke="#0a0a0a" stroke-width="0.3">20</text>
<text x="37.6" y="462.1" font-size="11.5" text-anchor="end" fill="#0a0a0a" stroke="#0a0a0a" stroke-width="0.3">160</text>
<text x="37.6" y="417" font-size="11.5" text-anchor="end" fill="#0a0a0a" stroke="#0a0a0a" stroke-width="0.3">180</text>
<text x="37.6" y="371.9" font-size="11.5" text-anchor="end" fill="#0a0a0a" stroke="#0a0a0a" stroke-width="0.3">200</text>
<text x="37.6" y="326.8" font-size="11.5" text-anchor="end" fill="#0a0a0a" stroke="#0a0a0a" stroke-width="0.3">220</text>
<text x="37.6" y="281.7" font-size="11.5" text-anchor="end" fill="#0a0a0a" stroke="#0a0a0a" stroke-width="0.3">240</text>
<path d="M42.1 458.2v3.5 M80.7 458.2v3.5 M119.3 458.2v3.5 M157.9 458.2v3.5 M196.5 458.2v3.5 M235.1 458.2v3.5 M42.1 458.2h-3.5 M42.1 413.1h-3.5 M42.1 368h-3.5 M42.1 322.9h-3.5 M42.1 277.8h-3.5" stroke="#808080" stroke-width="0.8" fill="none"/>
<text x="123.1" y="270.3" font-size="11.5" text-anchor="middle" fill="#0a0a0a" stroke="#0a0a0a" stroke-width="0.3" textLength="86.5" lengthAdjust="spacingAndGlyphs">Extraction rate (%)</text>
<text x="131" y="483.5" font-size="11.5" text-anchor="middle" fill="#0a0a0a" stroke="#0a0a0a" stroke-width="0.3" textLength="112.5" lengthAdjust="spacingAndGlyphs">A: Ultrasonic time (min)</text>
<text x="14.2" y="389" font-size="11.5" text-anchor="middle" fill="#0a0a0a" stroke="#0a0a0a" stroke-width="0.3" transform="rotate(-90 14.2 389)" textLength="118.3" lengthAdjust="spacingAndGlyphs">C: Ultrasonic power (W)</text>
<rect x="44.3" y="279.1" width="7.4" height="9" fill="#fff" stroke="#1a1a2a" stroke-width="1"/>
<text x="48" y="286.9" font-size="9.8" text-anchor="middle" fill="#2a2a2a" stroke="#2a2a2a" stroke-width="0.35">3</text>
<rect x="55.8" y="287.1" width="13.6" height="9" fill="#fff" stroke="#1a1a2a" stroke-width="1"/>
<text x="62.6" y="294.9" font-size="9.8" text-anchor="middle" fill="#2a2a2a" stroke="#2a2a2a" stroke-width="0.35" textLength="10.6" lengthAdjust="spacingAndGlyphs">3.2</text>
<rect x="222.5" y="326.5" width="13.6" height="9" fill="#fff" stroke="#1a1a2a" stroke-width="1"/>
<text x="229.3" y="334.3" font-size="9.8" text-anchor="middle" fill="#2a2a2a" stroke="#2a2a2a" stroke-width="0.35" textLength="10.6" lengthAdjust="spacingAndGlyphs">3.4</text>
<rect x="221" y="280.2" width="13.6" height="9" fill="#fff" stroke="#1a1a2a" stroke-width="1"/>
<text x="227.8" y="288" font-size="9.8" text-anchor="middle" fill="#2a2a2a" stroke="#2a2a2a" stroke-width="0.35" textLength="10.6" lengthAdjust="spacingAndGlyphs">3.2</text>
<rect x="113.8" y="414.5" width="13.6" height="9" fill="#fff" stroke="#1a1a2a" stroke-width="1"/>
<text x="120.6" y="422.3" font-size="9.8" text-anchor="middle" fill="#2a2a2a" stroke="#2a2a2a" stroke-width="0.35" textLength="10.6" lengthAdjust="spacingAndGlyphs">3.6</text>
<rect x="49.2" y="440.9" width="13.6" height="9" fill="#fff" stroke="#1a1a2a" stroke-width="1"/>
<text x="56" y="448.7" font-size="9.8" text-anchor="middle" fill="#2a2a2a" stroke="#2a2a2a" stroke-width="0.35" textLength="10.6" lengthAdjust="spacingAndGlyphs">3.2</text>
<rect x="204.6" y="432.5" width="13.6" height="9" fill="#fff" stroke="#1a1a2a" stroke-width="1"/>
<text x="211.4" y="440.3" font-size="9.8" text-anchor="middle" fill="#2a2a2a" stroke="#2a2a2a" stroke-width="0.35" textLength="10.6" lengthAdjust="spacingAndGlyphs">3.2</text>
<rect x="223.1" y="443.9" width="7.4" height="9" fill="#fff" stroke="#1a1a2a" stroke-width="1"/>
<text x="226.8" y="451.7" font-size="9.8" text-anchor="middle" fill="#2a2a2a" stroke="#2a2a2a" stroke-width="0.35">3</text>
<rect x="128.4" y="362.4" width="7.4" height="11" fill="#fff"/>
<text x="132.1" y="371.8" font-size="11.5" text-anchor="middle" fill="#0a0a0a" stroke="#0a0a0a" stroke-width="0.3">5</text>
<circle cx="42.1" cy="277.8" r="1.9" fill="#c00000" stroke="#6e0000" stroke-width="0.6"/>
<circle cx="235.1" cy="277.8" r="1.9" fill="#c00000" stroke="#6e0000" stroke-width="0.6"/>
<circle cx="42.1" cy="458.2" r="1.9" fill="#c00000" stroke="#6e0000" stroke-width="0.6"/>
<circle cx="235.1" cy="458.2" r="1.9" fill="#c00000" stroke="#6e0000" stroke-width="0.6"/>
<circle cx="138.6" cy="368" r="1.9" fill="#c00000" stroke="#6e0000" stroke-width="0.6"/>
<rect x="49.3" y="545.8" width="199.2" height="181.1" fill="url(#g3)"/>
<g clip-path="url(#c3)" fill="none" stroke="#223000" stroke-opacity="0.85" stroke-width="0.8">
<path d="M370.5 634.1 L369.1 626.8 L367.2 619.5 L364.7 612.2 L361.7 605.0 L358.2 597.8 L354.2 590.8 L349.6 583.9 L344.6 577.1 L339.1 570.5 L333.1 564.0 L326.7 557.8 L319.8 551.7 L312.6 545.9 L304.9 540.3 L296.9 535.0 L288.5 530.0 L279.8 525.2 L270.8 520.7 L261.6 516.6 L252.1 512.7 L242.3 509.2 L232.4 506.1 L222.3 503.3 L212.0 500.8 L201.6 498.7 L191.2 497.0 L180.7 495.7 L170.1 494.7 L159.6 494.2 L149.1 494.0 L138.6 494.2 L128.3 494.7 L118.0 495.7 L107.9 497.0 L98.0 498.7 L88.2 500.8 L78.7 503.3 L69.4 506.1 L60.4 509.2 L51.8 512.7 L43.4 516.6 L35.4 520.7 L27.7 525.2 L20.5 530.0 L13.6 535.0 L7.2 540.3 L1.2 545.9 L-4.3 551.7 L-9.3 557.8 L-13.8 564.0 L-17.9 570.5 L-21.4 577.1 L-24.4 583.9 L-26.8 590.8 L-28.7 597.8 L-30.1 605.0 L-30.9 612.2 L-31.2 619.5 L-30.9 626.8 L-30.1 634.1 L-28.7 641.4 L-26.8 648.8 L-24.3 656.0 L-21.3 663.2 L-17.8 670.4 L-13.8 677.4 L-9.2 684.3 L-4.2 691.1 L1.3 697.7 L7.3 704.2 L13.7 710.4 L20.6 716.5 L27.8 722.3 L35.5 727.9 L43.5 733.2 L51.9 738.3 L60.6 743.0 L69.6 747.5 L78.8 751.6 L88.3 755.5 L98.1 759.0 L108.0 762.1 L118.1 764.9 L128.4 767.4 L138.8 769.5 L149.2 771.2 L159.7 772.5 L170.3 773.5 L180.8 774.1 L191.3 774.3 L201.8 774.1 L212.2 773.5 L222.4 772.5 L232.5 771.2 L242.5 769.5 L252.2 767.4 L261.7 764.9 L271.0 762.1 L280.0 759.0 L288.7 755.5 L297.0 751.6 L305.0 747.5 L312.7 743.0 L319.9 738.3 L326.8 733.2 L333.2 727.9 L339.2 722.3 L344.7 716.5 L349.7 710.4 L354.2 704.2 L358.3 697.7 L361.8 691.1 L364.8 684.3 L367.2 677.4 L369.2 670.4 L370.5 663.2 L371.3 656.0 L371.6 648.8 L371.3 641.4 L370.5 634.1Z"/>
<path d="M349.1 634.1 L347.8 627.6 L346.1 621.0 L343.9 614.5 L341.2 608.1 L338.1 601.7 L334.5 595.4 L330.4 589.3 L325.9 583.2 L321.0 577.3 L315.7 571.5 L309.9 566.0 L303.8 560.6 L297.3 555.4 L290.5 550.4 L283.3 545.6 L275.9 541.1 L268.1 536.9 L260.1 532.9 L251.8 529.2 L243.3 525.7 L234.6 522.6 L225.7 519.8 L216.7 517.3 L207.5 515.1 L198.3 513.2 L188.9 511.7 L179.6 510.5 L170.1 509.7 L160.7 509.1 L151.3 509.0 L142.0 509.1 L132.7 509.7 L123.6 510.5 L114.6 511.7 L105.7 513.2 L97.0 515.1 L88.5 517.3 L80.2 519.8 L72.2 522.6 L64.4 525.7 L57.0 529.2 L49.8 532.9 L43.0 536.9 L36.5 541.1 L30.4 545.6 L24.7 550.4 L19.3 555.4 L14.4 560.6 L9.9 566.0 L5.9 571.5 L2.3 577.3 L-0.9 583.2 L-3.5 589.3 L-5.7 595.4 L-7.4 601.7 L-8.7 608.1 L-9.4 614.5 L-9.6 621.0 L-9.4 627.6 L-8.7 634.1 L-7.4 640.7 L-5.7 647.2 L-3.5 653.7 L-0.8 660.1 L2.3 666.5 L5.9 672.8 L10.0 679.0 L14.5 685.0 L19.4 690.9 L24.7 696.7 L30.5 702.3 L36.6 707.7 L43.1 712.9 L49.9 717.8 L57.1 722.6 L64.5 727.1 L72.3 731.4 L80.3 735.3 L88.6 739.1 L97.1 742.5 L105.8 745.6 L114.7 748.4 L123.7 750.9 L132.9 753.1 L142.1 755.0 L151.5 756.5 L160.9 757.7 L170.3 758.6 L179.7 759.1 L189.1 759.2 L198.4 759.1 L207.7 758.6 L216.8 757.7 L225.8 756.5 L234.7 755.0 L243.4 753.1 L251.9 750.9 L260.2 748.4 L268.2 745.6 L276.0 742.5 L283.4 739.1 L290.6 735.3 L297.4 731.4 L303.9 727.1 L310.0 722.6 L315.7 717.8 L321.1 712.9 L326.0 707.7 L330.5 702.3 L334.5 696.7 L338.1 690.9 L341.3 685.0 L343.9 679.0 L346.1 672.8 L347.9 666.5 L349.1 660.1 L349.8 653.7 L350.1 647.2 L349.8 640.7 L349.1 634.1Z"/>
<path d="M324.7 634.1 L323.6 628.5 L322.1 622.8 L320.2 617.2 L317.9 611.6 L315.2 606.1 L312.1 600.7 L308.6 595.4 L304.7 590.1 L300.4 585.0 L295.8 580.1 L290.9 575.2 L285.6 570.6 L280.0 566.1 L274.1 561.8 L267.9 557.7 L261.5 553.8 L254.8 550.1 L247.8 546.7 L240.7 543.5 L233.3 540.5 L225.8 537.8 L218.2 535.4 L210.4 533.2 L202.4 531.3 L194.4 529.7 L186.4 528.4 L178.3 527.4 L170.1 526.6 L162.0 526.2 L153.9 526.0 L145.9 526.2 L137.9 526.6 L129.9 527.4 L122.2 528.4 L114.5 529.7 L107.0 531.3 L99.6 533.2 L92.5 535.4 L85.6 537.8 L78.9 540.5 L72.4 543.5 L66.2 546.7 L60.3 550.1 L54.7 553.8 L49.5 557.7 L44.5 561.8 L39.9 566.1 L35.7 570.6 L31.8 575.2 L28.3 580.1 L25.2 585.0 L22.5 590.1 L20.2 595.4 L18.3 600.7 L16.8 606.1 L15.7 611.6 L15.1 617.2 L14.9 622.8 L15.1 628.5 L15.7 634.1 L16.8 639.8 L18.3 645.4 L20.2 651.0 L22.5 656.6 L25.2 662.1 L28.3 667.5 L31.8 672.8 L35.7 678.1 L40.0 683.2 L44.6 688.1 L49.5 693.0 L54.8 697.6 L60.4 702.1 L66.3 706.4 L72.5 710.5 L79.0 714.4 L85.7 718.1 L92.6 721.5 L99.7 724.7 L107.1 727.7 L114.6 730.4 L122.3 732.8 L130.1 735.0 L138.0 736.9 L146.0 738.5 L154.0 739.8 L162.1 740.9 L170.3 741.6 L178.4 742.0 L186.5 742.2 L194.6 742.0 L202.6 741.6 L210.5 740.9 L218.3 739.8 L225.9 738.5 L233.4 736.9 L240.8 735.0 L247.9 732.8 L254.8 730.4 L261.5 727.7 L268.0 724.7 L274.2 721.5 L280.1 718.1 L285.7 714.4 L291.0 710.5 L295.9 706.4 L300.5 702.1 L304.8 697.6 L308.6 693.0 L312.1 688.1 L315.2 683.2 L317.9 678.1 L320.3 672.8 L322.2 667.5 L323.6 662.1 L324.7 656.6 L325.3 651.0 L325.5 645.4 L325.3 639.8 L324.7 634.1Z"/>
<path d="M295.6 634.1 L294.8 629.5 L293.6 624.9 L292.0 620.4 L290.1 615.9 L287.9 611.4 L285.4 607.0 L282.6 602.7 L279.4 598.4 L276.0 594.3 L272.2 590.2 L268.2 586.3 L263.9 582.5 L259.4 578.9 L254.6 575.4 L249.5 572.1 L244.3 568.9 L238.9 565.9 L233.2 563.1 L227.4 560.5 L221.5 558.1 L215.4 555.9 L209.1 553.9 L202.8 552.2 L196.4 550.6 L189.9 549.3 L183.3 548.3 L176.8 547.4 L170.2 546.8 L163.6 546.5 L157.0 546.4 L150.4 546.5 L143.9 546.8 L137.5 547.4 L131.2 548.3 L125.0 549.3 L118.9 550.6 L112.9 552.2 L107.1 553.9 L101.5 555.9 L96.0 558.1 L90.8 560.5 L85.8 563.1 L81.0 565.9 L76.4 568.9 L72.2 572.1 L68.1 575.4 L64.4 578.9 L61.0 582.5 L57.8 586.3 L55.0 590.2 L52.4 594.3 L50.2 598.4 L48.4 602.7 L46.8 607.0 L45.6 611.4 L44.8 615.9 L44.3 620.4 L44.1 624.9 L44.3 629.5 L44.8 634.1 L45.6 638.7 L46.9 643.3 L48.4 647.8 L50.3 652.4 L52.5 656.8 L55.0 661.2 L57.9 665.6 L61.0 669.8 L64.5 673.9 L68.2 678.0 L72.2 681.9 L76.5 685.7 L81.1 689.3 L85.8 692.8 L90.9 696.2 L96.1 699.3 L101.6 702.3 L107.2 705.1 L113.0 707.7 L118.9 710.1 L125.1 712.3 L131.3 714.3 L137.6 716.0 L144.0 717.6 L150.5 718.9 L157.1 719.9 L163.7 720.8 L170.3 721.4 L176.9 721.7 L183.4 721.9 L190.0 721.7 L196.5 721.4 L202.9 720.8 L209.2 719.9 L215.4 718.9 L221.5 717.6 L227.5 716.0 L233.3 714.3 L238.9 712.3 L244.4 710.1 L249.6 707.7 L254.6 705.1 L259.4 702.3 L264.0 699.3 L268.2 696.2 L272.3 692.8 L276.0 689.3 L279.5 685.7 L282.6 681.9 L285.4 678.0 L288.0 673.9 L290.2 669.8 L292.0 665.6 L293.6 661.2 L294.8 656.8 L295.6 652.4 L296.2 647.8 L296.3 643.3 L296.1 638.7 L295.6 634.1Z"/>
<path d="M257.4 634.1 L256.8 630.9 L256.0 627.7 L254.9 624.6 L253.6 621.4 L252.0 618.3 L250.3 615.3 L248.3 612.2 L246.1 609.3 L243.7 606.4 L241.1 603.6 L238.3 600.9 L235.3 598.3 L232.2 595.7 L228.8 593.3 L225.4 591.0 L221.7 588.8 L217.9 586.7 L214.0 584.8 L210.0 582.9 L205.8 581.3 L201.6 579.8 L197.3 578.4 L192.9 577.2 L188.4 576.1 L183.9 575.2 L179.3 574.4 L174.8 573.9 L170.2 573.4 L165.6 573.2 L161.0 573.1 L156.5 573.2 L151.9 573.4 L147.5 573.9 L143.1 574.4 L138.8 575.2 L134.5 576.1 L130.4 577.2 L126.3 578.4 L122.4 579.8 L118.6 581.3 L115.0 582.9 L111.5 584.8 L108.2 586.7 L105.0 588.8 L102.1 591.0 L99.3 593.3 L96.7 595.7 L94.3 598.3 L92.1 600.9 L90.1 603.6 L88.3 606.4 L86.8 609.3 L85.5 612.2 L84.4 615.3 L83.6 618.3 L83.0 621.4 L82.7 624.6 L82.5 627.7 L82.7 630.9 L83.0 634.1 L83.6 637.3 L84.5 640.5 L85.5 643.7 L86.8 646.8 L88.4 649.9 L90.1 653.0 L92.1 656.0 L94.3 658.9 L96.7 661.8 L99.3 664.6 L102.1 667.3 L105.1 670.0 L108.2 672.5 L111.6 674.9 L115.1 677.2 L118.7 679.4 L122.5 681.5 L126.4 683.5 L130.4 685.3 L134.6 686.9 L138.8 688.5 L143.1 689.8 L147.5 691.1 L152.0 692.1 L156.5 693.0 L161.1 693.8 L165.6 694.4 L170.2 694.8 L174.8 695.0 L179.4 695.1 L184.0 695.0 L188.5 694.8 L192.9 694.4 L197.3 693.8 L201.7 693.0 L205.9 692.1 L210.0 691.1 L214.1 689.8 L218.0 688.5 L221.8 686.9 L225.4 685.3 L228.9 683.5 L232.2 681.5 L235.4 679.4 L238.4 677.2 L241.1 674.9 L243.7 672.5 L246.1 670.0 L248.3 667.3 L250.3 664.6 L252.1 661.8 L253.6 658.9 L254.9 656.0 L256.0 653.0 L256.8 649.9 L257.4 646.8 L257.8 643.7 L257.9 640.5 L257.8 637.3 L257.4 634.1Z"/>
</g>
<rect x="49.3" y="545.8" width="199.2" height="181.1" fill="none" stroke="#8c8c8c" stroke-opacity="0.75" stroke-width="0.8"/>
<text x="49.8" y="741.1" font-size="11.5" text-anchor="middle" fill="#0a0a0a" stroke="#0a0a0a" stroke-width="0.3">20</text>
<text x="89.64" y="741.1" font-size="11.5" text-anchor="middle" fill="#0a0a0a" stroke="#0a0a0a" stroke-width="0.3">22</text>
<text x="129.48" y="741.1" font-size="11.5" text-anchor="middle" fill="#0a0a0a" stroke="#0a0a0a" stroke-width="0.3">24</text>
<text x="169.32" y="741.1" font-size="11.5" text-anchor="middle" fill="#0a0a0a" stroke="#0a0a0a" stroke-width="0.3">26</text>
<text x="209.16" y="741.1" font-size="11.5" text-anchor="middle" fill="#0a0a0a" stroke="#0a0a0a" stroke-width="0.3">28</text>
<text x="249" y="741.1" font-size="11.5" text-anchor="middle" fill="#0a0a0a" stroke="#0a0a0a" stroke-width="0.3">30</text>
<text x="44.2" y="730.8" font-size="11.5" text-anchor="end" fill="#0a0a0a" stroke="#0a0a0a" stroke-width="0.3">160</text>
<text x="44.2" y="685.52" font-size="11.5" text-anchor="end" fill="#0a0a0a" stroke="#0a0a0a" stroke-width="0.3">180</text>
<text x="44.2" y="640.25" font-size="11.5" text-anchor="end" fill="#0a0a0a" stroke="#0a0a0a" stroke-width="0.3">200</text>
<text x="44.2" y="594.97" font-size="11.5" text-anchor="end" fill="#0a0a0a" stroke="#0a0a0a" stroke-width="0.3">220</text>
<text x="44.2" y="549.7" font-size="11.5" text-anchor="end" fill="#0a0a0a" stroke="#0a0a0a" stroke-width="0.3">240</text>
<path d="M49.3 726.9v3.5 M89.14 726.9v3.5 M128.98 726.9v3.5 M168.82 726.9v3.5 M208.66 726.9v3.5 M248.5 726.9v3.5 M49.3 726.9h-3.5 M49.3 681.62h-3.5 M49.3 636.35h-3.5 M49.3 591.07h-3.5 M49.3 545.8h-3.5" stroke="#808080" stroke-width="0.8" fill="none"/>
<text x="147" y="538.3" font-size="11.5" text-anchor="middle" fill="#0a0a0a" stroke="#0a0a0a" stroke-width="0.3" textLength="87.3" lengthAdjust="spacingAndGlyphs">Extraction rate (%)</text>
<text x="144.9" y="754.9" font-size="11.5" text-anchor="middle" fill="#0a0a0a" stroke="#0a0a0a" stroke-width="0.3" textLength="128.4" lengthAdjust="spacingAndGlyphs">B: Solid-liquid ratio (mL/g)</text>
<text x="20.5" y="655.3" font-size="11.5" text-anchor="middle" fill="#0a0a0a" stroke="#0a0a0a" stroke-width="0.3" transform="rotate(-90 20.5 655.3)" textLength="113" lengthAdjust="spacingAndGlyphs">C: Ultrasonic power (W)</text>
<rect x="54.9" y="547.5" width="13.6" height="9" fill="#fff" stroke="#1a1a2a" stroke-width="1"/>
<text x="61.7" y="555.3" font-size="9.8" text-anchor="middle" fill="#2a2a2a" stroke="#2a2a2a" stroke-width="0.35" textLength="10.6" lengthAdjust="spacingAndGlyphs">3.2</text>
<rect x="117.1" y="546.5" width="13.6" height="9" fill="#fff" stroke="#1a1a2a" stroke-width="1"/>
<text x="123.9" y="554.3" font-size="9.8" text-anchor="middle" fill="#2a2a2a" stroke="#2a2a2a" stroke-width="0.35" textLength="10.6" lengthAdjust="spacingAndGlyphs">3.4</text>
<rect x="77.6" y="620.5" width="13.6" height="9" fill="#fff" stroke="#1a1a2a" stroke-width="1"/>
<text x="84.4" y="628.3" font-size="9.8" text-anchor="middle" fill="#2a2a2a" stroke="#2a2a2a" stroke-width="0.35" textLength="10.6" lengthAdjust="spacingAndGlyphs">3.6</text>
<rect x="54" y="714.2" width="7.4" height="9" fill="#fff" stroke="#1a1a2a" stroke-width="1"/>
<text x="57.7" y="722" font-size="9.8" text-anchor="middle" fill="#2a2a2a" stroke="#2a2a2a" stroke-width="0.35">3</text>
<rect x="68.5" y="704.1" width="13.6" height="9" fill="#fff" stroke="#1a1a2a" stroke-width="1"/>
<text x="75.3" y="711.9" font-size="9.8" text-anchor="middle" fill="#2a2a2a" stroke="#2a2a2a" stroke-width="0.35" textLength="10.6" lengthAdjust="spacingAndGlyphs">3.2</text>
<rect x="119.6" y="703.9" width="13.6" height="9" fill="#fff" stroke="#1a1a2a" stroke-width="1"/>
<text x="126.4" y="711.7" font-size="9.8" text-anchor="middle" fill="#2a2a2a" stroke="#2a2a2a" stroke-width="0.35" textLength="10.6" lengthAdjust="spacingAndGlyphs">3.4</text>
<rect x="138.7" y="630.75" width="7.4" height="11" fill="#fff"/>
<text x="142.4" y="640.15" font-size="11.5" text-anchor="middle" fill="#0a0a0a" stroke="#0a0a0a" stroke-width="0.3">5</text>
<circle cx="49.3" cy="545.8" r="1.9" fill="#c00000" stroke="#6e0000" stroke-width="0.6"/>
<g clip-path="url(#ctr3)"><circle cx="248.5" cy="545.8" r="1.9" fill="#c00000" stroke="#6e0000" stroke-width="0.6"/></g>
<circle cx="49.3" cy="726.9" r="1.9" fill="#c00000" stroke="#6e0000" stroke-width="0.6"/>
<circle cx="248.5" cy="726.9" r="1.9" fill="#c00000" stroke="#6e0000" stroke-width="0.6"/>
<circle cx="148.9" cy="636.35" r="1.9" fill="#c00000" stroke="#6e0000" stroke-width="0.6"/>
<path d="M307.1 126.6 L397.0 98.8 L486.8 126.6 M306.8 114.7 L397.0 87.7 L487.2 114.7 M306.4 102.6 L397.0 76.6 L487.6 102.6 M306.0 90.5 L397.0 65.5 L488.0 90.5 M305.6 78.2 L397.0 54.2 L488.4 78.2 M305.2 65.9 L397.0 42.8 L488.8 65.9 M304.8 53.4 L397.0 31.3 L489.2 53.4 M304.3 40.8 L397.0 19.8 L489.6 40.8 M307.1 126.6 L304.3 40.8 M325.1 121.0 L322.9 36.6 M343.1 115.5 L341.4 32.4 M361.0 109.9 L359.9 28.2 M379.0 104.3 L378.4 24.0 M397.0 98.8 L397.0 19.8 M397.0 98.8 L397.0 19.8 M414.9 104.3 L415.5 24.0 M432.9 109.9 L434.0 28.2 M450.9 115.5 L452.5 32.4 M468.8 121.0 L471.1 36.6 M486.8 126.6 L489.6 40.8" fill="none" stroke="#262626" stroke-width="0.85" stroke-opacity="0.95"/>
<path d="M396.8 192.9 L484.1 153.2 L396.8 122.2 L309.4 153.2Z" fill="#666666"/>
<g clip-path="url(#f1)" fill="none" stroke-width="1.5">
<path d="M429.5 150.3 L430.3 151.4 L430.9 152.5 L431.2 153.7 L431.4 154.7 L431.3 155.8 L430.9 156.9 L430.4 157.9 L429.7 158.8 L428.7 159.8 L427.5 160.7 L426.1 161.5 L424.6 162.3 L422.8 163.0 L420.8 163.7 L418.7 164.3 L416.4 164.8 L414.0 165.2 L411.5 165.6 L408.8 165.9 L406.0 166.2 L403.1 166.3 L400.1 166.4 L397.0 166.4 L393.9 166.3 L390.8 166.2 L387.6 165.9 L384.4 165.6 L381.2 165.2 L378.1 164.8 L375.0 164.3 L371.9 163.7 L368.9 163.0 L366.0 162.3 L363.2 161.5 L360.5 160.7 L357.9 159.8 L355.4 158.8 L353.1 157.9 L351.0 156.9 L349.0 155.8 L347.2 154.7 L345.6 153.7 L344.2 152.5 L343.0 151.4 L342.0 150.3 L341.2 149.2 L340.6 148.1 L340.3 147.0 L340.2 145.9 L340.3 144.8 L340.6 143.7 L341.1 142.7 L341.9 141.8 L342.8 140.8 L344.0 139.9 L345.4 139.1 L347.0 138.3 L348.7 137.6 L350.7 136.9 L352.8 136.3 L355.1 135.8 L357.5 135.4 L360.1 135.0 L362.8 134.7 L365.6 134.4 L368.5 134.3 L371.4 134.2 L374.5 134.2 L377.6 134.3 L380.8 134.4 L383.9 134.7 L387.1 135.0 L390.3 135.4 L393.4 135.8 L396.6 136.3 L399.6 136.9 L402.6 137.6 L405.5 138.3 L408.3 139.1 L411.1 139.9 L413.6 140.8 L416.1 141.8 L418.4 142.7 L420.5 143.7 L422.5 144.8 L424.3 145.9 L425.9 147.0 L427.3 148.1 L428.5 149.2 L429.5 150.3Z" stroke="#e1e128"/>
<path d="M449.5 150.3 L450.6 151.9 L451.4 153.6 L451.9 155.2 L452.1 156.8 L452.0 158.3 L451.5 159.8 L450.8 161.3 L449.7 162.7 L448.3 164.1 L446.5 165.4 L444.5 166.6 L442.2 167.7 L439.7 168.8 L436.8 169.8 L433.8 170.6 L430.4 171.4 L426.9 172.1 L423.2 172.6 L419.3 173.1 L415.2 173.4 L411.0 173.6 L406.6 173.8 L402.2 173.8 L397.6 173.6 L393.1 173.4 L388.4 173.1 L383.8 172.6 L379.2 172.1 L374.6 171.4 L370.0 170.6 L365.6 169.8 L361.2 168.8 L357.0 167.7 L352.9 166.6 L348.9 165.4 L345.2 164.1 L341.6 162.7 L338.3 161.3 L335.1 159.8 L332.3 158.3 L329.7 156.8 L327.3 155.2 L325.3 153.6 L323.5 151.9 L322.1 150.3 L320.9 148.7 L320.1 147.0 L319.6 145.4 L319.4 143.8 L319.5 142.3 L320.0 140.8 L320.8 139.3 L321.9 137.9 L323.3 136.5 L325.0 135.2 L327.0 134.0 L329.3 132.9 L331.9 131.8 L334.7 130.9 L337.8 130.0 L341.1 129.2 L344.6 128.6 L348.4 128.0 L352.3 127.5 L356.3 127.2 L360.6 127.0 L364.9 126.9 L369.4 126.9 L373.9 127.0 L378.5 127.2 L383.1 127.5 L387.7 128.0 L392.3 128.6 L396.9 129.2 L401.5 130.0 L405.9 130.9 L410.3 131.8 L414.5 132.9 L418.6 134.0 L422.6 135.2 L426.3 136.5 L429.9 137.9 L433.3 139.3 L436.4 140.8 L439.2 142.3 L441.9 143.8 L444.2 145.4 L446.3 147.0 L448.0 148.7 L449.5 150.3Z" stroke="#8cde1e"/>
<path d="M464.5 150.3 L465.9 152.3 L466.9 154.3 L467.6 156.3 L467.8 158.3 L467.6 160.2 L467.1 162.1 L466.1 163.9 L464.8 165.7 L463.0 167.4 L460.9 168.9 L458.4 170.5 L455.6 171.9 L452.4 173.2 L448.9 174.3 L445.1 175.4 L441.0 176.4 L436.6 177.2 L432.0 177.9 L427.2 178.4 L422.1 178.9 L416.9 179.1 L411.5 179.3 L406.0 179.3 L400.4 179.1 L394.8 178.9 L389.1 178.4 L383.3 177.9 L377.6 177.2 L371.9 176.4 L366.3 175.4 L360.8 174.3 L355.4 173.2 L350.2 171.9 L345.1 170.5 L340.2 168.9 L335.6 167.4 L331.2 165.7 L327.0 163.9 L323.2 162.1 L319.6 160.2 L316.4 158.3 L313.5 156.3 L311.0 154.3 L308.8 152.3 L307.0 150.3 L305.6 148.3 L304.6 146.3 L303.9 144.3 L303.7 142.3 L303.9 140.4 L304.5 138.5 L305.4 136.7 L306.8 134.9 L308.5 133.3 L310.6 131.7 L313.1 130.2 L315.9 128.8 L319.1 127.4 L322.6 126.3 L326.4 125.2 L330.5 124.2 L334.9 123.4 L339.5 122.7 L344.4 122.2 L349.4 121.7 L354.6 121.5 L360.0 121.3 L365.5 121.3 L371.1 121.5 L376.7 121.7 L382.5 122.2 L388.2 122.7 L393.9 123.4 L399.6 124.2 L405.2 125.2 L410.7 126.3 L416.1 127.4 L421.3 128.8 L426.4 130.2 L431.3 131.7 L435.9 133.3 L440.3 134.9 L444.5 136.7 L448.3 138.5 L451.9 140.4 L455.1 142.3 L458.0 144.3 L460.5 146.3 L462.7 148.3 L464.5 150.3Z" stroke="#28da37"/>
<path d="M477.1 150.3 L478.8 152.7 L479.9 155.0 L480.7 157.3 L480.9 159.6 L480.7 161.8 L480.1 164.0 L479.0 166.1 L477.4 168.1 L475.4 170.1 L472.9 171.9 L470.0 173.7 L466.7 175.3 L463.1 176.8 L459.0 178.2 L454.6 179.4 L449.8 180.5 L444.8 181.5 L439.4 182.3 L433.8 182.9 L427.9 183.4 L421.9 183.8 L415.7 183.9 L409.3 183.9 L402.8 183.8 L396.2 183.4 L389.6 182.9 L382.9 182.3 L376.3 181.5 L369.7 180.5 L363.2 179.4 L356.8 178.2 L350.6 176.8 L344.5 175.3 L338.6 173.7 L333.0 171.9 L327.6 170.1 L322.5 168.1 L317.6 166.1 L313.2 164.0 L309.1 161.8 L305.3 159.6 L302.0 157.3 L299.0 155.0 L296.5 152.7 L294.4 150.3 L292.8 148.0 L291.6 145.6 L290.9 143.3 L290.6 141.0 L290.8 138.8 L291.4 136.6 L292.6 134.5 L294.1 132.5 L296.2 130.5 L298.6 128.7 L301.5 126.9 L304.8 125.3 L308.5 123.8 L312.5 122.4 L316.9 121.2 L321.7 120.1 L326.8 119.1 L332.1 118.3 L337.7 117.7 L343.6 117.2 L349.6 116.8 L355.9 116.7 L362.2 116.7 L368.7 116.8 L375.3 117.2 L381.9 117.7 L388.6 118.3 L395.2 119.1 L401.8 120.1 L408.3 121.2 L414.7 122.4 L420.9 123.8 L427.0 125.3 L432.9 126.9 L438.6 128.7 L444.0 130.5 L449.1 132.5 L453.9 134.5 L458.3 136.6 L462.5 138.8 L466.2 141.0 L469.6 143.3 L472.5 145.6 L475.0 148.0 L477.1 150.3Z" stroke="#1ec887"/>
<path d="M488.2 150.3 L490.0 152.9 L491.3 155.6 L492.2 158.1 L492.5 160.7 L492.2 163.2 L491.5 165.6 L490.2 168.0 L488.5 170.3 L486.2 172.5 L483.5 174.5 L480.2 176.5 L476.5 178.3 L472.4 180.0 L467.9 181.6 L462.9 183.0 L457.6 184.2 L451.9 185.3 L445.9 186.2 L439.6 186.9 L433.0 187.4 L426.3 187.8 L419.3 188.0 L412.1 188.0 L404.8 187.8 L397.5 187.4 L390.1 186.9 L382.6 186.2 L375.2 185.3 L367.8 184.2 L360.5 183.0 L353.3 181.6 L346.3 180.0 L339.5 178.3 L332.9 176.5 L326.6 174.5 L320.5 172.5 L314.8 170.3 L309.4 168.0 L304.4 165.6 L299.8 163.2 L295.6 160.7 L291.8 158.1 L288.5 155.6 L285.7 152.9 L283.4 150.3 L281.5 147.7 L280.2 145.1 L279.4 142.5 L279.1 139.9 L279.3 137.4 L280.0 135.0 L281.3 132.6 L283.0 130.3 L285.3 128.1 L288.1 126.1 L291.3 124.1 L295.0 122.3 L299.1 120.6 L303.7 119.0 L308.6 117.6 L313.9 116.4 L319.6 115.3 L325.6 114.4 L331.9 113.7 L338.5 113.2 L345.3 112.8 L352.2 112.6 L359.4 112.6 L366.7 112.8 L374.0 113.2 L381.5 113.7 L388.9 114.4 L396.3 115.3 L403.7 116.4 L411.0 117.6 L418.2 119.0 L425.2 120.6 L432.0 122.3 L438.6 124.1 L445.0 126.1 L451.0 128.1 L456.7 130.3 L462.1 132.6 L467.1 135.0 L471.7 137.4 L475.9 139.9 L479.7 142.5 L483.0 145.1 L485.8 147.7 L488.2 150.3Z" stroke="#23bed7"/>
</g>
<g stroke="#000" stroke-opacity="0.58" stroke-width="0.55" stroke-linejoin="round">
<path d="M397.0 64.9 L400.4 67.8 L397.0 69.2 L393.5 66.2Z" fill="#43eedd"/>
<path d="M393.5 62.2 L397.0 64.9 L393.5 66.2 L390.0 63.4Z" fill="#45f7be"/>
<path d="M400.5 63.8 L403.9 66.7 L400.4 67.8 L397.0 64.9Z" fill="#42efc9"/>
<path d="M389.9 59.7 L393.5 62.2 L390.0 63.4 L386.5 61.0Z" fill="#46ff97"/>
<path d="M404.0 62.8 L407.5 65.7 L403.9 66.7 L400.5 63.8Z" fill="#41efb3"/>
<path d="M397.0 61.1 L400.5 63.8 L397.0 64.9 L393.5 62.2Z" fill="#44f8a4"/>
<path d="M386.4 57.6 L389.9 59.7 L386.5 61.0 L382.9 58.8Z" fill="#47ff6b"/>
<path d="M393.4 58.7 L397.0 61.1 L393.5 62.2 L389.9 59.7Z" fill="#45ff7a"/>
<path d="M400.5 60.2 L404.0 62.8 L400.5 63.8 L397.0 61.1Z" fill="#43f98b"/>
<path d="M407.6 62.1 L411.0 65.0 L407.5 65.7 L404.0 62.8Z" fill="#40f09e"/>
<path d="M397.0 57.8 L400.5 60.2 L397.0 61.1 L393.4 58.7Z" fill="#44ff5e"/>
<path d="M382.7 55.7 L386.4 57.6 L382.9 58.8 L379.3 56.8Z" fill="#4cff48"/>
<path d="M389.9 56.6 L393.4 58.7 L389.9 59.7 L386.4 57.6Z" fill="#46ff4e"/>
<path d="M404.1 59.5 L407.6 62.1 L404.0 62.8 L400.5 60.2Z" fill="#41fa73"/>
<path d="M411.2 61.5 L414.6 64.4 L411.0 65.0 L407.6 62.1Z" fill="#3ff189"/>
<path d="M379.1 54.1 L382.7 55.7 L379.3 56.8 L375.6 55.2Z" fill="#6fff48"/>
<path d="M393.4 55.7 L397.0 57.8 L393.4 58.7 L389.9 56.6Z" fill="#55ff44"/>
<path d="M400.5 57.2 L404.1 59.5 L400.5 60.2 L397.0 57.8Z" fill="#42ff45"/>
<path d="M414.8 61.2 L418.3 64.0 L414.6 64.4 L411.2 61.5Z" fill="#3ef176"/>
<path d="M386.3 54.7 L389.9 56.6 L386.4 57.6 L382.7 55.7Z" fill="#64ff46"/>
<path d="M407.7 59.0 L411.2 61.5 L407.6 62.1 L404.1 59.5Z" fill="#40fb5c"/>
<path d="M375.4 52.8 L379.1 54.1 L375.6 55.2 L372.0 53.9Z" fill="#8cff48"/>
<path d="M382.6 53.2 L386.3 54.7 L382.7 55.7 L379.1 54.1Z" fill="#86ff46"/>
<path d="M389.8 53.9 L393.4 55.7 L389.9 56.6 L386.3 54.7Z" fill="#7aff45"/>
<path d="M397.0 55.1 L400.5 57.2 L397.0 57.8 L393.4 55.7Z" fill="#6aff43"/>
<path d="M404.1 56.7 L407.7 59.0 L404.1 59.5 L400.5 57.2Z" fill="#53ff41"/>
<path d="M411.3 58.6 L414.8 61.2 L411.2 61.5 L407.7 59.0Z" fill="#3ffc48"/>
<path d="M418.5 61.0 L421.9 63.8 L418.3 64.0 L414.8 61.2Z" fill="#3df265"/>
<path d="M386.2 52.4 L389.8 53.9 L386.3 54.7 L382.6 53.2Z" fill="#9aff45"/>
<path d="M407.8 56.4 L411.3 58.6 L407.7 59.0 L404.1 56.7Z" fill="#64ff40"/>
<path d="M371.7 51.8 L375.4 52.8 L372.0 53.9 L368.3 52.8Z" fill="#a4ff48"/>
<path d="M378.9 51.9 L382.6 53.2 L379.1 54.1 L375.4 52.8Z" fill="#a1ff46"/>
<path d="M393.4 53.4 L397.0 55.1 L393.4 55.7 L389.8 53.9Z" fill="#8dff43"/>
<path d="M400.6 54.7 L404.1 56.7 L400.5 57.2 L397.0 55.1Z" fill="#7bff41"/>
<path d="M415.0 58.5 L418.5 61.0 L414.8 61.2 L411.3 58.6Z" fill="#45fc3e"/>
<path d="M422.1 61.0 L425.6 63.8 L421.9 63.8 L418.5 61.0Z" fill="#3cf257"/>
<path d="M368.0 51.1 L371.7 51.8 L368.3 52.8 L364.5 52.0Z" fill="#b8ff48"/>
<path d="M382.5 51.2 L386.2 52.4 L382.6 53.2 L378.9 51.9Z" fill="#b4ff44"/>
<path d="M389.7 51.9 L393.4 53.4 L389.8 53.9 L386.2 52.4Z" fill="#abff43"/>
<path d="M404.2 54.4 L407.8 56.4 L404.1 56.7 L400.6 54.7Z" fill="#8bff40"/>
<path d="M411.4 56.3 L415.0 58.5 L411.3 58.6 L407.8 56.4Z" fill="#72ff3e"/>
<path d="M425.8 61.3 L429.3 63.9 L425.6 63.8 L422.1 61.0Z" fill="#3bf24b"/>
<path d="M375.2 50.9 L378.9 51.9 L375.4 52.8 L371.7 51.8Z" fill="#b8ff46"/>
<path d="M397.0 53.0 L400.6 54.7 L397.0 55.1 L393.4 53.4Z" fill="#9eff41"/>
<path d="M418.6 58.6 L422.1 61.0 L418.5 61.0 L415.0 58.5Z" fill="#52fd3d"/>
<path d="M364.2 50.6 L368.0 51.1 L364.5 52.0 L360.8 51.6Z" fill="#c7ff44"/>
<path d="M371.5 50.3 L375.2 50.9 L371.7 51.8 L368.0 51.1Z" fill="#cbff45"/>
<path d="M378.8 50.3 L382.5 51.2 L378.9 51.9 L375.2 50.9Z" fill="#caff44"/>
<path d="M386.1 50.7 L389.7 51.9 L386.2 52.4 L382.5 51.2Z" fill="#c4ff42"/>
<path d="M393.3 51.5 L397.0 53.0 L393.4 53.4 L389.7 51.9Z" fill="#baff41"/>
<path d="M400.6 52.8 L404.2 54.4 L400.6 54.7 L397.0 53.0Z" fill="#abff40"/>
<path d="M407.9 54.4 L411.4 56.3 L407.8 56.4 L404.2 54.4Z" fill="#97ff3f"/>
<path d="M415.1 56.4 L418.6 58.6 L415.0 58.5 L411.4 56.3Z" fill="#7dff3d"/>
<path d="M422.4 58.9 L425.8 61.3 L422.1 61.0 L418.6 58.6Z" fill="#5cfd3c"/>
<path d="M429.6 61.7 L433.0 64.3 L429.3 63.9 L425.8 61.3Z" fill="#3af241"/>
<path d="M375.0 49.7 L378.8 50.3 L375.2 50.9 L371.5 50.3Z" fill="#dcff42"/>
<path d="M397.0 51.4 L400.6 52.8 L397.0 53.0 L393.3 51.5Z" fill="#c7ff3f"/>
<path d="M418.8 56.7 L422.4 58.9 L418.6 58.6 L415.1 56.4Z" fill="#86ff3c"/>
<path d="M360.4 50.5 L364.2 50.6 L360.8 51.6 L357.0 51.4Z" fill="#d4ff41"/>
<path d="M367.7 49.9 L371.5 50.3 L368.0 51.1 L364.2 50.6Z" fill="#daff41"/>
<path d="M382.4 49.8 L386.1 50.7 L382.5 51.2 L378.8 50.3Z" fill="#daff42"/>
<path d="M389.7 50.4 L393.3 51.5 L389.7 51.9 L386.1 50.7Z" fill="#d3ff40"/>
<path d="M404.3 52.8 L407.9 54.4 L404.2 54.4 L400.6 52.8Z" fill="#b7ff3e"/>
<path d="M411.6 54.6 L415.1 56.4 L411.4 56.3 L407.9 54.4Z" fill="#a2ff3d"/>
<path d="M426.1 59.3 L429.6 61.7 L425.8 61.3 L422.4 58.9Z" fill="#63fd3b"/>
<path d="M433.4 62.3 L436.8 64.9 L433.0 64.3 L429.6 61.7Z" fill="#39f23a"/>
<path d="M356.6 50.7 L360.4 50.5 L357.0 51.4 L353.2 51.6Z" fill="#ddff3e"/>
<path d="M371.3 49.3 L375.0 49.7 L371.5 50.3 L367.7 49.9Z" fill="#eaff3e"/>
<path d="M378.6 49.2 L382.4 49.8 L378.8 50.3 L375.0 49.7Z" fill="#ebff3f"/>
<path d="M393.3 50.3 L397.0 51.4 L393.3 51.5 L389.7 50.4Z" fill="#dfff3f"/>
<path d="M400.6 51.4 L404.3 52.8 L400.6 52.8 L397.0 51.4Z" fill="#d2ff3e"/>
<path d="M415.3 54.9 L418.8 56.7 L415.1 56.4 L411.6 54.6Z" fill="#a9ff3c"/>
<path d="M422.6 57.3 L426.1 59.3 L422.4 58.9 L418.8 56.7Z" fill="#8cff3b"/>
<path d="M437.1 63.2 L440.6 65.7 L436.8 64.9 L433.4 62.3Z" fill="#3cf239"/>
<path d="M364.0 49.8 L367.7 49.9 L364.2 50.6 L360.4 50.5Z" fill="#e6ff3e"/>
<path d="M386.0 49.6 L389.7 50.4 L386.1 50.7 L382.4 49.8Z" fill="#e7ff40"/>
<path d="M408.0 53.0 L411.6 54.6 L407.9 54.4 L404.3 52.8Z" fill="#c0ff3d"/>
<path d="M429.9 60.0 L433.4 62.3 L429.6 61.7 L426.1 59.3Z" fill="#68fd3a"/>
<path d="M352.8 51.3 L356.6 50.7 L353.2 51.6 L349.3 52.0Z" fill="#e3ff3c"/>
<path d="M360.1 50.1 L364.0 49.8 L360.4 50.5 L356.6 50.7Z" fill="#efff3b"/>
<path d="M367.5 49.3 L371.3 49.3 L367.7 49.9 L364.0 49.8Z" fill="#f6ff3b"/>
<path d="M374.9 49.0 L378.6 49.2 L375.0 49.7 L371.3 49.3Z" fill="#f9ff3c"/>
<path d="M382.2 49.0 L386.0 49.6 L382.4 49.8 L378.6 49.2Z" fill="#f8ff3d"/>
<path d="M389.6 49.5 L393.3 50.3 L389.7 50.4 L386.0 49.6Z" fill="#f3ff3e"/>
<path d="M397.0 50.4 L400.6 51.4 L397.0 51.4 L393.3 50.3Z" fill="#e9ff3d"/>
<path d="M404.3 51.7 L408.0 53.0 L404.3 52.8 L400.6 51.4Z" fill="#daff3c"/>
<path d="M411.7 53.4 L415.3 54.9 L411.6 54.6 L408.0 53.0Z" fill="#c7ff3c"/>
<path d="M419.0 55.5 L422.6 57.3 L418.8 56.7 L415.3 54.9Z" fill="#afff3b"/>
<path d="M426.4 58.0 L429.9 60.0 L426.1 59.3 L422.6 57.3Z" fill="#90ff3a"/>
<path d="M433.7 60.9 L437.1 63.2 L433.4 62.3 L429.9 60.0Z" fill="#6afd39"/>
<path d="M441.0 64.2 L444.4 66.7 L440.6 65.7 L437.1 63.2Z" fill="#3cf238"/>
<path d="M348.9 52.1 L352.8 51.3 L349.3 52.0 L345.4 52.8Z" fill="#e6ff3a"/>
<path d="M356.3 50.7 L360.1 50.1 L356.6 50.7 L352.8 51.3Z" fill="#f4ff39"/>
<path d="M363.7 49.6 L367.5 49.3 L364.0 49.8 L360.1 50.1Z" fill="#ffff38"/>
<path d="M385.9 49.0 L389.6 49.5 L386.0 49.6 L382.2 49.0Z" fill="#fffb3b"/>
<path d="M408.1 52.1 L411.7 53.4 L408.0 53.0 L404.3 51.7Z" fill="#e1ff3b"/>
<path d="M430.2 58.9 L433.7 60.9 L429.9 60.0 L426.4 58.0Z" fill="#92ff39"/>
<path d="M437.5 62.0 L441.0 64.2 L437.1 63.2 L433.7 60.9Z" fill="#6afd38"/>
<path d="M444.8 65.5 L448.2 67.9 L444.4 66.7 L441.0 64.2Z" fill="#3af237"/>
<path d="M371.1 49.0 L374.9 49.0 L371.3 49.3 L367.5 49.3Z" fill="#fffa38"/>
<path d="M378.5 48.8 L382.2 49.0 L378.6 49.2 L374.9 49.0Z" fill="#fff839"/>
<path d="M393.3 49.7 L397.0 50.4 L393.3 50.3 L389.6 49.5Z" fill="#fcff3c"/>
<path d="M400.7 50.7 L404.3 51.7 L400.6 51.4 L397.0 50.4Z" fill="#f1ff3b"/>
<path d="M415.4 54.0 L419.0 55.5 L415.3 54.9 L411.7 53.4Z" fill="#ccff3a"/>
<path d="M422.8 56.3 L426.4 58.0 L422.6 57.3 L419.0 55.5Z" fill="#b2ff3a"/>
<path d="M359.8 50.3 L363.7 49.6 L360.1 50.1 L356.3 50.7Z" fill="#fffa37"/>
<path d="M434.0 60.1 L437.5 62.0 L433.7 60.9 L430.2 58.9Z" fill="#91ff39"/>
<path d="M345.0 53.2 L348.9 52.1 L345.4 52.8 L341.5 53.9Z" fill="#e6ff3a"/>
<path d="M367.2 49.4 L371.1 49.0 L367.5 49.3 L363.7 49.6Z" fill="#fff136"/>
<path d="M382.1 48.9 L385.9 49.0 L382.2 49.0 L378.5 48.8Z" fill="#ffed37"/>
<path d="M389.5 49.2 L393.3 49.7 L389.6 49.5 L385.9 49.0Z" fill="#fff239"/>
<path d="M404.4 51.2 L408.1 52.1 L404.3 51.7 L400.7 50.7Z" fill="#f7ff3a"/>
<path d="M411.8 52.8 L415.4 54.0 L411.7 53.4 L408.1 52.1Z" fill="#e5ff3a"/>
<path d="M426.6 57.3 L430.2 58.9 L426.4 58.0 L422.8 56.3Z" fill="#b3ff39"/>
<path d="M448.7 66.9 L452.1 69.3 L448.2 67.9 L444.8 65.5Z" fill="#37f138"/>
<path d="M352.4 51.5 L356.3 50.7 L352.8 51.3 L348.9 52.1Z" fill="#f7ff38"/>
<path d="M374.7 48.9 L378.5 48.8 L374.9 49.0 L371.1 49.0Z" fill="#ffed36"/>
<path d="M397.0 50.0 L400.7 50.7 L397.0 50.4 L393.3 49.7Z" fill="#fffa3a"/>
<path d="M419.2 54.8 L422.8 56.3 L419.0 55.5 L415.4 54.0Z" fill="#cfff39"/>
<path d="M441.4 63.3 L444.8 65.5 L441.0 64.2 L437.5 62.0Z" fill="#67fd38"/>
<path d="M341.1 54.7 L345.0 53.2 L341.5 53.9 L337.6 55.3Z" fill="#e3ff3a"/>
<path d="M348.5 52.7 L352.4 51.5 L348.9 52.1 L345.0 53.2Z" fill="#f7ff37"/>
<path d="M355.9 51.2 L359.8 50.3 L356.3 50.7 L352.4 51.5Z" fill="#fff835"/>
<path d="M363.4 50.1 L367.2 49.4 L363.7 49.6 L359.8 50.3Z" fill="#ffec34"/>
<path d="M370.8 49.3 L374.7 48.9 L371.1 49.0 L367.2 49.4Z" fill="#ffe534"/>
<path d="M378.3 49.0 L382.1 48.9 L378.5 48.8 L374.7 48.9Z" fill="#ffe334"/>
<path d="M385.8 49.1 L389.5 49.2 L385.9 49.0 L382.1 48.9Z" fill="#ffe435"/>
<path d="M393.2 49.6 L397.0 50.0 L393.3 49.7 L389.5 49.2Z" fill="#ffeb37"/>
<path d="M400.7 50.6 L404.4 51.2 L400.7 50.7 L397.0 50.0Z" fill="#fff539"/>
<path d="M408.2 51.9 L411.8 52.8 L408.1 52.1 L404.4 51.2Z" fill="#fbff39"/>
<path d="M415.6 53.7 L419.2 54.8 L415.4 54.0 L411.8 52.8Z" fill="#e8ff39"/>
<path d="M423.0 55.9 L426.6 57.3 L422.8 56.3 L419.2 54.8Z" fill="#d0ff39"/>
<path d="M430.5 58.5 L434.0 60.1 L430.2 58.9 L426.6 57.3Z" fill="#b2ff38"/>
<path d="M437.9 61.4 L441.4 63.3 L437.5 62.0 L434.0 60.1Z" fill="#8eff38"/>
<path d="M445.2 64.8 L448.7 66.9 L444.8 65.5 L441.4 63.3Z" fill="#62fc37"/>
<path d="M452.6 68.6 L456.0 71.0 L452.1 69.3 L448.7 66.9Z" fill="#36f13f"/>
<path d="M337.1 56.5 L341.1 54.7 L337.6 55.3 L333.7 57.1Z" fill="#dcff3b"/>
<path d="M344.6 54.3 L348.5 52.7 L345.0 53.2 L341.1 54.7Z" fill="#f3ff38"/>
<path d="M352.0 52.5 L355.9 51.2 L352.4 51.5 L348.5 52.7Z" fill="#fff935"/>
<path d="M359.5 51.1 L363.4 50.1 L359.8 50.3 L355.9 51.2Z" fill="#ffeb33"/>
<path d="M367.0 50.1 L370.8 49.3 L367.2 49.4 L363.4 50.1Z" fill="#ffe132"/>
<path d="M374.5 49.5 L378.3 49.0 L374.7 48.9 L370.8 49.3Z" fill="#ffdb32"/>
<path d="M397.0 50.3 L400.7 50.6 L397.0 50.0 L393.2 49.6Z" fill="#ffe636"/>
<path d="M419.4 54.8 L423.0 55.9 L419.2 54.8 L415.6 53.7Z" fill="#e8ff38"/>
<path d="M426.9 57.1 L430.5 58.5 L426.6 57.3 L423.0 55.9Z" fill="#ceff38"/>
<path d="M434.3 59.9 L437.9 61.4 L434.0 60.1 L430.5 58.5Z" fill="#afff38"/>
<path d="M441.7 63.0 L445.2 64.8 L441.4 63.3 L437.9 61.4Z" fill="#89ff38"/>
<path d="M449.1 66.6 L452.6 68.6 L448.7 66.9 L445.2 64.8Z" fill="#5afc37"/>
<path d="M456.5 70.5 L459.9 72.8 L456.0 71.0 L452.6 68.6Z" fill="#36f048"/>
<path d="M382.0 49.3 L385.8 49.1 L382.1 48.9 L378.3 49.0Z" fill="#ffda32"/>
<path d="M389.5 49.6 L393.2 49.6 L389.5 49.2 L385.8 49.1Z" fill="#ffde34"/>
<path d="M404.5 51.4 L408.2 51.9 L404.4 51.2 L400.7 50.6Z" fill="#fff238"/>
<path d="M412.0 52.9 L415.6 53.7 L411.8 52.8 L408.2 51.9Z" fill="#fcff38"/>
<path d="M348.1 54.1 L352.0 52.5 L348.5 52.7 L344.6 54.3Z" fill="#fffd36"/>
<path d="M370.6 50.3 L374.5 49.5 L370.8 49.3 L367.0 50.1Z" fill="#ffd731"/>
<path d="M423.3 56.1 L426.9 57.1 L423.0 55.9 L419.4 54.8Z" fill="#e6ff37"/>
<path d="M445.7 64.8 L449.1 66.6 L445.2 64.8 L441.7 63.0Z" fill="#81ff37"/>
<path d="M333.2 58.7 L337.1 56.5 L333.7 57.1 L329.7 59.2Z" fill="#d2ff3c"/>
<path d="M355.6 52.4 L359.5 51.1 L355.9 51.2 L352.0 52.5Z" fill="#ffec33"/>
<path d="M378.2 49.9 L382.0 49.3 L378.3 49.0 L374.5 49.5Z" fill="#ffd331"/>
<path d="M393.2 50.3 L397.0 50.3 L393.2 49.6 L389.5 49.6Z" fill="#ffd933"/>
<path d="M400.7 51.1 L404.5 51.4 L400.7 50.6 L397.0 50.3Z" fill="#ffe335"/>
<path d="M415.8 54.0 L419.4 54.8 L415.6 53.7 L412.0 52.9Z" fill="#fcff37"/>
<path d="M438.2 61.5 L441.7 63.0 L437.9 61.4 L434.3 59.9Z" fill="#a9ff37"/>
<path d="M460.5 72.7 L463.8 74.9 L459.9 72.8 L456.5 70.5Z" fill="#36ef54"/>
<path d="M340.6 56.1 L344.6 54.3 L341.1 54.7 L337.1 56.5Z" fill="#ecff39"/>
<path d="M363.1 51.1 L367.0 50.1 L363.4 50.1 L359.5 51.1Z" fill="#ffe032"/>
<path d="M430.7 58.6 L434.3 59.9 L430.5 58.5 L426.9 57.1Z" fill="#caff37"/>
<path d="M453.1 68.5 L456.5 70.5 L452.6 68.6 L449.1 66.6Z" fill="#4ffb37"/>
<path d="M385.7 49.9 L389.5 49.6 L385.8 49.1 L382.0 49.3Z" fill="#ffd431"/>
<path d="M408.3 52.4 L412.0 52.9 L408.2 51.9 L404.5 51.4Z" fill="#fff037"/>
<path d="M344.2 56.0 L348.1 54.1 L344.6 54.3 L340.6 56.1Z" fill="#f9ff37"/>
<path d="M351.7 54.0 L355.6 52.4 L352.0 52.5 L348.1 54.1Z" fill="#fff134"/>
<path d="M366.7 51.4 L370.6 50.3 L367.0 50.1 L363.1 51.1Z" fill="#ffd730"/>
<path d="M374.3 50.7 L378.2 49.9 L374.5 49.5 L370.6 50.3Z" fill="#ffd02f"/>
<path d="M419.6 55.4 L423.3 56.1 L419.4 54.8 L415.8 54.0Z" fill="#f9ff37"/>
<path d="M427.1 57.6 L430.7 58.6 L426.9 57.1 L423.3 56.1Z" fill="#e1ff37"/>
<path d="M442.1 63.4 L445.7 64.8 L441.7 63.0 L438.2 61.5Z" fill="#a1ff37"/>
<path d="M449.6 66.8 L453.1 68.5 L449.1 66.6 L445.7 64.8Z" fill="#76ff37"/>
<path d="M329.2 61.1 L333.2 58.7 L329.7 59.2 L325.8 61.6Z" fill="#c6ff3f"/>
<path d="M336.7 58.3 L340.6 56.1 L337.1 56.5 L333.2 58.7Z" fill="#e1ff3b"/>
<path d="M359.2 52.5 L363.1 51.1 L359.5 51.1 L355.6 52.4Z" fill="#ffe232"/>
<path d="M381.9 50.4 L385.7 49.9 L382.0 49.3 L378.2 49.9Z" fill="#ffcd2f"/>
<path d="M389.4 50.6 L393.2 50.3 L389.5 49.6 L385.7 49.9Z" fill="#ffd030"/>
<path d="M397.0 51.2 L400.7 51.1 L397.0 50.3 L393.2 50.3Z" fill="#ffd732"/>
<path d="M404.5 52.2 L408.3 52.4 L404.5 51.4 L400.7 51.1Z" fill="#ffe234"/>
<path d="M412.1 53.6 L415.8 54.0 L412.0 52.9 L408.3 52.4Z" fill="#fff136"/>
<path d="M434.6 60.3 L438.2 61.5 L434.3 59.9 L430.7 58.6Z" fill="#c4ff37"/>
<path d="M457.0 70.7 L460.5 72.7 L456.5 70.5 L453.1 68.5Z" fill="#41fa36"/>
<path d="M464.4 75.0 L467.8 77.2 L463.8 74.9 L460.5 72.7Z" fill="#35ee62"/>
<path d="M325.2 63.9 L329.2 61.1 L325.8 61.6 L321.7 64.3Z" fill="#b6ff41"/>
<path d="M340.2 58.2 L344.2 56.0 L340.6 56.1 L336.7 58.3Z" fill="#eeff39"/>
<path d="M362.8 52.9 L366.7 51.4 L363.1 51.1 L359.2 52.5Z" fill="#ffd931"/>
<path d="M385.6 51.2 L389.4 50.6 L385.7 49.9 L381.9 50.4Z" fill="#ffca2f"/>
<path d="M408.4 53.4 L412.1 53.6 L408.3 52.4 L404.5 52.2Z" fill="#ffe334"/>
<path d="M431.0 59.4 L434.6 60.3 L430.7 58.6 L427.1 57.6Z" fill="#dbff37"/>
<path d="M453.5 69.1 L457.0 70.7 L453.1 68.5 L449.6 66.8Z" fill="#68ff37"/>
<path d="M468.4 77.6 L471.8 79.7 L467.8 77.2 L464.4 75.0Z" fill="#35ed73"/>
<path d="M347.7 56.0 L351.7 54.0 L348.1 54.1 L344.2 56.0Z" fill="#fffa36"/>
<path d="M355.3 54.2 L359.2 52.5 L355.6 52.4 L351.7 54.0Z" fill="#ffe833"/>
<path d="M370.4 51.9 L374.3 50.7 L370.6 50.3 L366.7 51.4Z" fill="#ffd02f"/>
<path d="M378.0 51.4 L381.9 50.4 L378.2 49.9 L374.3 50.7Z" fill="#ffcb2f"/>
<path d="M415.9 55.0 L419.6 55.4 L415.8 54.0 L412.1 53.6Z" fill="#fff436"/>
<path d="M423.5 57.0 L427.1 57.6 L423.3 56.1 L419.6 55.4Z" fill="#f5ff36"/>
<path d="M438.6 62.2 L442.1 63.4 L438.2 61.5 L434.6 60.3Z" fill="#bcff37"/>
<path d="M446.1 65.4 L449.6 66.8 L445.7 64.8 L442.1 63.4Z" fill="#96ff37"/>
<path d="M332.7 60.9 L336.7 58.3 L333.2 58.7 L329.2 61.1Z" fill="#d4ff3d"/>
<path d="M393.2 51.5 L397.0 51.2 L393.2 50.3 L389.4 50.6Z" fill="#ffce30"/>
<path d="M400.8 52.3 L404.5 52.2 L400.7 51.1 L397.0 51.2Z" fill="#ffd631"/>
<path d="M461.0 73.1 L464.4 75.0 L460.5 72.7 L457.0 70.7Z" fill="#36f83b"/>
<path d="M358.9 54.6 L362.8 52.9 L359.2 52.5 L355.3 54.2Z" fill="#ffe032"/>
<path d="M381.7 52.2 L385.6 51.2 L381.9 50.4 L378.0 51.4Z" fill="#ffc82e"/>
<path d="M412.2 54.9 L415.9 55.0 L412.1 53.6 L408.4 53.4Z" fill="#ffe734"/>
<path d="M435.0 61.4 L438.6 62.2 L434.6 60.3 L431.0 59.4Z" fill="#d2ff37"/>
<path d="M321.2 67.1 L325.2 63.9 L321.7 64.3 L317.7 67.4Z" fill="#a2ff45"/>
<path d="M328.7 63.7 L332.7 60.9 L329.2 61.1 L325.2 63.9Z" fill="#c3ff40"/>
<path d="M336.2 60.8 L340.2 58.2 L336.7 58.3 L332.7 60.9Z" fill="#e0ff3c"/>
<path d="M343.7 58.4 L347.7 56.0 L344.2 56.0 L340.2 58.2Z" fill="#f9ff38"/>
<path d="M366.5 53.4 L370.4 51.9 L366.7 51.4 L362.8 52.9Z" fill="#ffd330"/>
<path d="M389.4 52.3 L393.2 51.5 L389.4 50.6 L385.6 51.2Z" fill="#ffc92e"/>
<path d="M404.6 53.6 L408.4 53.4 L404.5 52.2 L400.8 52.3Z" fill="#ffd931"/>
<path d="M427.4 58.8 L431.0 59.4 L427.1 57.6 L423.5 57.0Z" fill="#eeff36"/>
<path d="M450.0 67.7 L453.5 69.1 L449.6 66.8 L446.1 65.4Z" fill="#88ff37"/>
<path d="M457.5 71.5 L461.0 73.1 L457.0 70.7 L453.5 69.1Z" fill="#58ff37"/>
<path d="M465.0 75.7 L468.4 77.6 L464.4 75.0 L461.0 73.1Z" fill="#36f74e"/>
<path d="M472.4 80.4 L475.8 82.4 L471.8 79.7 L468.4 77.6Z" fill="#35eb86"/>
<path d="M351.3 56.3 L355.3 54.2 L351.7 54.0 L347.7 56.0Z" fill="#fff135"/>
<path d="M374.1 52.6 L378.0 51.4 L374.3 50.7 L370.4 51.9Z" fill="#ffcb2f"/>
<path d="M419.8 56.6 L423.5 57.0 L419.6 55.4 L415.9 55.0Z" fill="#fff936"/>
<path d="M442.5 64.3 L446.1 65.4 L442.1 63.4 L438.6 62.2Z" fill="#b1ff37"/>
<path d="M397.0 52.7 L400.8 52.3 L397.0 51.2 L393.2 51.5Z" fill="#ffce2f"/>
<path d="M332.2 63.8 L336.2 60.8 L332.7 60.9 L328.7 63.7Z" fill="#cfff3f"/>
<path d="M461.5 74.2 L465.0 75.7 L461.0 73.1 L457.5 71.5Z" fill="#44ff37"/>
<path d="M354.9 56.8 L358.9 54.6 L355.3 54.2 L351.3 56.3Z" fill="#ffea34"/>
<path d="M362.6 55.2 L366.5 53.4 L362.8 52.9 L358.9 54.6Z" fill="#ffda31"/>
<path d="M377.8 53.5 L381.7 52.2 L378.0 51.4 L374.1 52.6Z" fill="#ffc92e"/>
<path d="M385.5 53.3 L389.4 52.3 L385.6 51.2 L381.7 52.2Z" fill="#ffc72e"/>
<path d="M408.4 55.1 L412.2 54.9 L408.4 53.4 L404.6 53.6Z" fill="#ffdd32"/>
<path d="M416.1 56.6 L419.8 56.6 L415.9 55.0 L412.2 54.9Z" fill="#ffed34"/>
<path d="M431.3 60.8 L435.0 61.4 L431.0 59.4 L427.4 58.8Z" fill="#e5ff37"/>
<path d="M438.9 63.5 L442.5 64.3 L438.6 62.2 L435.0 61.4Z" fill="#c7ff37"/>
<path d="M317.1 70.5 L321.2 67.1 L317.7 67.4 L313.7 70.8Z" fill="#8cff49"/>
<path d="M324.6 67.0 L328.7 63.7 L325.2 63.9 L321.2 67.1Z" fill="#b0ff44"/>
<path d="M339.7 61.0 L343.7 58.4 L340.2 58.2 L336.2 60.8Z" fill="#eaff3b"/>
<path d="M347.3 58.7 L351.3 56.3 L347.7 56.0 L343.7 58.4Z" fill="#fffd37"/>
<path d="M370.2 54.2 L374.1 52.6 L370.4 51.9 L366.5 53.4Z" fill="#ffcf2f"/>
<path d="M393.1 53.5 L397.0 52.7 L393.2 51.5 L389.4 52.3Z" fill="#ffca2e"/>
<path d="M400.8 54.1 L404.6 53.6 L400.8 52.3 L397.0 52.7Z" fill="#ffd130"/>
<path d="M423.7 58.5 L427.4 58.8 L423.5 57.0 L419.8 56.6Z" fill="#fdff36"/>
<path d="M446.5 66.7 L450.0 67.7 L446.1 65.4 L442.5 64.3Z" fill="#a3ff37"/>
<path d="M454.0 70.3 L457.5 71.5 L453.5 69.1 L450.0 67.7Z" fill="#78ff37"/>
<path d="M469.0 78.6 L472.4 80.4 L468.4 77.6 L465.0 75.7Z" fill="#36f663"/>
<path d="M476.5 83.4 L479.8 85.4 L475.8 82.4 L472.4 80.4Z" fill="#35ea9b"/>
<path d="M313.1 74.4 L317.1 70.5 L313.7 70.8 L309.6 74.5Z" fill="#72ff4d"/>
<path d="M328.1 67.1 L332.2 63.8 L328.7 63.7 L324.6 67.0Z" fill="#bbff43"/>
<path d="M335.7 64.0 L339.7 61.0 L336.2 60.8 L332.2 63.8Z" fill="#d8ff3f"/>
<path d="M351.0 59.2 L354.9 56.8 L351.3 56.3 L347.3 58.7Z" fill="#fff737"/>
<path d="M373.9 55.2 L377.8 53.5 L374.1 52.6 L370.2 54.2Z" fill="#ffce2f"/>
<path d="M397.0 54.9 L400.8 54.1 L397.0 52.7 L393.1 53.5Z" fill="#ffcd2f"/>
<path d="M420.0 58.6 L423.7 58.5 L419.8 56.6 L416.1 56.6Z" fill="#fff535"/>
<path d="M442.9 66.0 L446.5 66.7 L442.5 64.3 L438.9 63.5Z" fill="#b9ff37"/>
<path d="M458.0 73.0 L461.5 74.2 L457.5 71.5 L454.0 70.3Z" fill="#65ff38"/>
<path d="M465.6 77.1 L469.0 78.6 L465.0 75.7 L461.5 74.2Z" fill="#37ff41"/>
<path d="M480.5 86.6 L483.9 88.5 L479.8 85.4 L476.5 83.4Z" fill="#35e8b0"/>
<path d="M358.6 57.4 L362.6 55.2 L358.9 54.6 L354.9 56.8Z" fill="#ffe534"/>
<path d="M366.3 56.1 L370.2 54.2 L366.5 53.4 L362.6 55.2Z" fill="#ffd731"/>
<path d="M381.6 54.7 L385.5 53.3 L381.7 52.2 L377.8 53.5Z" fill="#ffc92e"/>
<path d="M389.3 54.6 L393.1 53.5 L389.4 52.3 L385.5 53.3Z" fill="#ffc92e"/>
<path d="M404.7 55.7 L408.4 55.1 L404.6 53.6 L400.8 54.1Z" fill="#ffd630"/>
<path d="M412.3 56.9 L416.1 56.6 L412.2 54.9 L408.4 55.1Z" fill="#ffe332"/>
<path d="M427.6 60.6 L431.3 60.8 L427.4 58.8 L423.7 58.5Z" fill="#f3ff37"/>
<path d="M435.3 63.1 L438.9 63.5 L435.0 61.4 L431.3 60.8Z" fill="#d9ff37"/>
<path d="M320.6 70.5 L324.6 67.0 L321.2 67.1 L317.1 70.5Z" fill="#99ff48"/>
<path d="M343.3 61.4 L347.3 58.7 L343.7 58.4 L339.7 61.0Z" fill="#f2ff3b"/>
<path d="M450.5 69.3 L454.0 70.3 L450.0 67.7 L446.5 66.7Z" fill="#93ff38"/>
<path d="M473.1 81.7 L476.5 83.4 L472.4 80.4 L469.0 78.6Z" fill="#36f47b"/>
<path d="M309.0 78.5 L313.1 74.4 L309.6 74.5 L305.6 78.6Z" fill="#55ff52"/>
<path d="M484.6 90.1 L487.9 92.0 L483.9 88.5 L480.5 86.6Z" fill="#35e7c5"/>
<path d="M370.0 57.1 L373.9 55.2 L370.2 54.2 L366.3 56.1Z" fill="#ffd631"/>
<path d="M393.1 56.1 L397.0 54.9 L393.1 53.5 L389.3 54.6Z" fill="#ffcd2f"/>
<path d="M400.8 56.6 L404.7 55.7 L400.8 54.1 L397.0 54.9Z" fill="#ffd330"/>
<path d="M423.9 60.7 L427.6 60.6 L423.7 58.5 L420.0 58.6Z" fill="#ffff36"/>
<path d="M316.5 74.4 L320.6 70.5 L317.1 70.5 L313.1 74.4Z" fill="#7fff4d"/>
<path d="M324.1 70.7 L328.1 67.1 L324.6 67.0 L320.6 70.5Z" fill="#a4ff48"/>
<path d="M331.7 67.4 L335.7 64.0 L332.2 63.8 L328.1 67.1Z" fill="#c4ff43"/>
<path d="M339.3 64.5 L343.3 61.4 L339.7 61.0 L335.7 64.0Z" fill="#e0ff3e"/>
<path d="M347.0 62.0 L351.0 59.2 L347.3 58.7 L343.3 61.4Z" fill="#f8ff3a"/>
<path d="M354.6 60.0 L358.6 57.4 L354.9 56.8 L351.0 59.2Z" fill="#fff237"/>
<path d="M377.7 56.4 L381.6 54.7 L377.8 53.5 L373.9 55.2Z" fill="#ffce30"/>
<path d="M416.2 58.9 L420.0 58.6 L416.1 56.6 L412.3 56.9Z" fill="#ffec33"/>
<path d="M439.2 65.6 L442.9 66.0 L438.9 63.5 L435.3 63.1Z" fill="#cbff38"/>
<path d="M446.9 68.6 L450.5 69.3 L446.5 66.7 L442.9 66.0Z" fill="#a9ff38"/>
<path d="M454.5 72.1 L458.0 73.0 L454.0 70.3 L450.5 69.3Z" fill="#80ff38"/>
<path d="M462.1 76.0 L465.6 77.1 L461.5 74.2 L458.0 73.0Z" fill="#4fff38"/>
<path d="M469.6 80.3 L473.1 81.7 L469.0 78.6 L465.6 77.1Z" fill="#37fe5b"/>
<path d="M477.1 85.0 L480.5 86.6 L476.5 83.4 L473.1 81.7Z" fill="#37f294"/>
<path d="M362.3 58.3 L366.3 56.1 L362.6 55.2 L358.6 57.4Z" fill="#ffe234"/>
<path d="M385.4 56.0 L389.3 54.6 L385.5 53.3 L381.6 54.7Z" fill="#ffcb2f"/>
<path d="M408.5 57.6 L412.3 56.9 L408.4 55.1 L404.7 55.7Z" fill="#ffdd31"/>
<path d="M431.6 62.9 L435.3 63.1 L431.3 60.8 L427.6 60.6Z" fill="#e8ff37"/>
<path d="M312.5 78.6 L316.5 74.4 L313.1 74.4 L309.0 78.5Z" fill="#62ff51"/>
<path d="M320.0 74.6 L324.1 70.7 L320.6 70.5 L316.5 74.4Z" fill="#8aff4c"/>
<path d="M342.9 65.2 L347.0 62.0 L343.3 61.4 L339.3 64.5Z" fill="#e5ff3e"/>
<path d="M397.0 57.8 L400.8 56.6 L397.0 54.9 L393.1 56.1Z" fill="#ffd330"/>
<path d="M450.9 71.5 L454.5 72.1 L450.5 69.3 L446.9 68.6Z" fill="#97ff39"/>
<path d="M473.7 83.7 L477.1 85.0 L473.1 81.7 L469.6 80.3Z" fill="#38fc77"/>
<path d="M481.2 88.5 L484.6 90.1 L480.5 86.6 L477.1 85.0Z" fill="#37f0ae"/>
<path d="M366.0 59.5 L370.0 57.1 L366.3 56.1 L362.3 58.3Z" fill="#ffe234"/>
<path d="M373.8 58.4 L377.7 56.4 L373.9 55.2 L370.0 57.1Z" fill="#ffd732"/>
<path d="M389.2 57.6 L393.1 56.1 L389.3 54.6 L385.4 56.0Z" fill="#ffd030"/>
<path d="M404.7 58.5 L408.5 57.6 L404.7 55.7 L400.8 56.6Z" fill="#ffdb31"/>
<path d="M420.2 61.1 L423.9 60.7 L420.0 58.6 L416.2 58.9Z" fill="#fff735"/>
<path d="M427.9 63.1 L431.6 62.9 L427.6 60.6 L423.9 60.7Z" fill="#f3ff38"/>
<path d="M327.6 71.1 L331.7 67.4 L328.1 67.1 L324.1 70.7Z" fill="#adff47"/>
<path d="M335.3 67.9 L339.3 64.5 L335.7 64.0 L331.7 67.4Z" fill="#cbff43"/>
<path d="M350.6 62.8 L354.6 60.0 L351.0 59.2 L347.0 62.0Z" fill="#fbff3a"/>
<path d="M358.3 60.9 L362.3 58.3 L358.6 57.4 L354.6 60.0Z" fill="#fff037"/>
<path d="M381.5 57.8 L385.4 56.0 L381.6 54.7 L377.7 56.4Z" fill="#ffd131"/>
<path d="M412.4 59.6 L416.2 58.9 L412.3 56.9 L408.5 57.6Z" fill="#ffe732"/>
<path d="M435.6 65.5 L439.2 65.6 L435.3 63.1 L431.6 62.9Z" fill="#daff38"/>
<path d="M443.2 68.3 L446.9 68.6 L442.9 66.0 L439.2 65.6Z" fill="#bbff39"/>
<path d="M458.5 75.1 L462.1 76.0 L458.0 73.0 L454.5 72.1Z" fill="#6aff39"/>
<path d="M466.1 79.2 L469.6 80.3 L465.6 77.1 L462.1 76.0Z" fill="#38ff3c"/>
<path d="M315.9 79.0 L320.0 74.6 L316.5 74.4 L312.5 78.6Z" fill="#6cff51"/>
<path d="M477.8 87.3 L481.2 88.5 L477.1 85.0 L473.7 83.7Z" fill="#38fa95"/>
<path d="M323.6 75.1 L327.6 71.1 L324.1 70.7 L320.0 74.6Z" fill="#92ff4c"/>
<path d="M338.9 68.6 L342.9 65.2 L339.3 64.5 L335.3 67.9Z" fill="#cfff43"/>
<path d="M346.6 66.0 L350.6 62.8 L347.0 62.0 L342.9 65.2Z" fill="#e8ff3f"/>
<path d="M362.0 62.1 L366.0 59.5 L362.3 58.3 L358.3 60.9Z" fill="#fff038"/>
<path d="M385.3 59.4 L389.2 57.6 L385.4 56.0 L381.5 57.8Z" fill="#ffd732"/>
<path d="M393.1 59.4 L397.0 57.8 L393.1 56.1 L389.2 57.6Z" fill="#ffd731"/>
<path d="M400.9 59.8 L404.7 58.5 L400.8 56.6 L397.0 57.8Z" fill="#ffdb31"/>
<path d="M408.6 60.7 L412.4 59.6 L408.5 57.6 L404.7 58.5Z" fill="#ffe532"/>
<path d="M431.9 65.7 L435.6 65.5 L431.6 62.9 L427.9 63.1Z" fill="#e4ff39"/>
<path d="M447.3 71.2 L450.9 71.5 L446.9 68.6 L443.2 68.3Z" fill="#a9ff39"/>
<path d="M454.9 74.6 L458.5 75.1 L454.5 72.1 L450.9 71.5Z" fill="#81ff3a"/>
<path d="M470.2 82.6 L473.7 83.7 L469.6 80.3 L466.1 79.2Z" fill="#39ff5a"/>
<path d="M369.8 60.8 L373.8 58.4 L370.0 57.1 L366.0 59.5Z" fill="#ffe435"/>
<path d="M377.6 59.9 L381.5 57.8 L377.7 56.4 L373.8 58.4Z" fill="#ffdb33"/>
<path d="M416.4 61.9 L420.2 61.1 L416.2 58.9 L412.4 59.6Z" fill="#fff234"/>
<path d="M424.1 63.6 L427.9 63.1 L423.9 60.7 L420.2 61.1Z" fill="#faff37"/>
<path d="M331.2 71.7 L335.3 67.9 L331.7 67.4 L327.6 71.1Z" fill="#b3ff47"/>
<path d="M354.3 63.9 L358.3 60.9 L354.6 60.0 L350.6 62.8Z" fill="#fdff3b"/>
<path d="M439.6 68.3 L443.2 68.3 L439.2 65.6 L435.6 65.5Z" fill="#c9ff39"/>
<path d="M462.6 78.4 L466.1 79.2 L462.1 76.0 L458.5 75.1Z" fill="#51ff39"/>
<path d="M319.5 79.5 L323.6 75.1 L320.0 74.6 L315.9 79.0Z" fill="#74ff51"/>
<path d="M474.3 86.3 L477.8 87.3 L473.7 83.7 L470.2 82.6Z" fill="#3aff7a"/>
<path d="M381.4 61.6 L385.3 59.4 L381.5 57.8 L377.6 59.9Z" fill="#ffe034"/>
<path d="M389.2 61.3 L393.1 59.4 L389.2 57.6 L385.3 59.4Z" fill="#ffde33"/>
<path d="M404.8 62.0 L408.6 60.7 L404.7 58.5 L400.9 59.8Z" fill="#ffe633"/>
<path d="M412.6 63.0 L416.4 61.9 L412.4 59.6 L408.6 60.7Z" fill="#fff134"/>
<path d="M327.1 75.8 L331.2 71.7 L327.6 71.1 L323.6 75.1Z" fill="#98ff4c"/>
<path d="M334.8 72.5 L338.9 68.6 L335.3 67.9 L331.2 71.7Z" fill="#b7ff48"/>
<path d="M342.5 69.6 L346.6 66.0 L342.9 65.2 L338.9 68.6Z" fill="#d2ff43"/>
<path d="M350.3 67.2 L354.3 63.9 L350.6 62.8 L346.6 66.0Z" fill="#e9ff3f"/>
<path d="M358.0 65.1 L362.0 62.1 L358.3 60.9 L354.3 63.9Z" fill="#fcff3c"/>
<path d="M365.8 63.5 L369.8 60.8 L366.0 59.5 L362.0 62.1Z" fill="#fff339"/>
<path d="M397.0 61.5 L400.9 59.8 L397.0 57.8 L393.1 59.4Z" fill="#ffe033"/>
<path d="M428.1 66.3 L431.9 65.7 L427.9 63.1 L424.1 63.6Z" fill="#ebff39"/>
<path d="M435.9 68.6 L439.6 68.3 L435.6 65.5 L431.9 65.7Z" fill="#d4ff3a"/>
<path d="M443.6 71.3 L447.3 71.2 L443.2 68.3 L439.6 68.3Z" fill="#b6ff3a"/>
<path d="M451.3 74.4 L454.9 74.6 L450.9 71.5 L447.3 71.2Z" fill="#93ff3b"/>
<path d="M459.0 78.0 L462.6 78.4 L458.5 75.1 L454.9 74.6Z" fill="#68ff3a"/>
<path d="M466.7 81.9 L470.2 82.6 L466.1 79.2 L462.6 78.4Z" fill="#3aff40"/>
<path d="M373.6 62.4 L377.6 59.9 L373.8 58.4 L369.8 60.8Z" fill="#ffe736"/>
<path d="M420.3 64.4 L424.1 63.6 L420.2 61.1 L416.4 61.9Z" fill="#feff36"/>
<path d="M323.0 80.2 L327.1 75.8 L323.6 75.1 L319.5 79.5Z" fill="#7aff52"/>
<path d="M330.7 76.7 L334.8 72.5 L331.2 71.7 L327.1 75.8Z" fill="#9cff4d"/>
<path d="M354.0 68.5 L358.0 65.1 L354.3 63.9 L350.3 67.2Z" fill="#e8ff40"/>
<path d="M385.2 63.6 L389.2 61.3 L385.3 59.4 L381.4 61.6Z" fill="#ffe836"/>
<path d="M408.7 64.5 L412.6 63.0 L408.6 60.7 L404.8 62.0Z" fill="#fff335"/>
<path d="M439.9 71.7 L443.6 71.3 L439.6 68.3 L435.9 68.6Z" fill="#c1ff3c"/>
<path d="M463.1 81.5 L466.7 81.9 L462.6 78.4 L459.0 78.0Z" fill="#4cff3b"/>
<path d="M470.8 85.7 L474.3 86.3 L470.2 82.6 L466.7 81.9Z" fill="#3bff61"/>
<path d="M377.4 64.2 L381.4 61.6 L377.6 59.9 L373.6 62.4Z" fill="#ffee38"/>
<path d="M393.1 63.4 L397.0 61.5 L393.1 59.4 L389.2 61.3Z" fill="#ffe735"/>
<path d="M400.9 63.7 L404.8 62.0 L400.9 59.8 L397.0 61.5Z" fill="#ffeb35"/>
<path d="M416.5 65.6 L420.3 64.4 L416.4 61.9 L412.6 63.0Z" fill="#ffff37"/>
<path d="M338.5 73.5 L342.5 69.6 L338.9 68.6 L334.8 72.5Z" fill="#baff48"/>
<path d="M346.2 70.8 L350.3 67.2 L346.6 66.0 L342.5 69.6Z" fill="#d3ff44"/>
<path d="M361.8 66.6 L365.8 63.5 L362.0 62.1 L358.0 65.1Z" fill="#f9ff3d"/>
<path d="M369.6 65.2 L373.6 62.4 L369.8 60.8 L365.8 63.5Z" fill="#fff73a"/>
<path d="M424.3 67.2 L428.1 66.3 L424.1 63.6 L420.3 64.4Z" fill="#efff38"/>
<path d="M432.1 69.2 L435.9 68.6 L431.9 65.7 L428.1 66.3Z" fill="#daff3b"/>
<path d="M447.7 74.5 L451.3 74.4 L447.3 71.2 L443.6 71.3Z" fill="#a1ff3c"/>
<path d="M455.4 77.8 L459.0 78.0 L454.9 74.6 L451.3 74.4Z" fill="#7bff3c"/>
<path d="M326.6 81.2 L330.7 76.7 L327.1 75.8 L323.0 80.2Z" fill="#7eff52"/>
<path d="M467.2 85.4 L470.8 85.7 L466.7 81.9 L463.1 81.5Z" fill="#3cff4d"/>
<path d="M334.4 77.8 L338.5 73.5 L334.8 72.5 L330.7 76.7Z" fill="#9eff4e"/>
<path d="M349.9 72.2 L354.0 68.5 L350.3 67.2 L346.2 70.8Z" fill="#d1ff45"/>
<path d="M357.7 70.1 L361.8 66.6 L358.0 65.1 L354.0 68.5Z" fill="#e5ff42"/>
<path d="M373.4 67.1 L377.4 64.2 L373.6 62.4 L369.6 65.2Z" fill="#fffe3c"/>
<path d="M381.3 66.2 L385.2 63.6 L381.4 61.6 L377.4 64.2Z" fill="#fff639"/>
<path d="M389.1 65.8 L393.1 63.4 L389.2 61.3 L385.2 63.6Z" fill="#fff238"/>
<path d="M397.0 65.8 L400.9 63.7 L397.0 61.5 L393.1 63.4Z" fill="#fff337"/>
<path d="M404.8 66.2 L408.7 64.5 L404.8 62.0 L400.9 63.7Z" fill="#fff837"/>
<path d="M412.7 67.1 L416.5 65.6 L412.6 63.0 L408.7 64.5Z" fill="#fdff38"/>
<path d="M420.5 68.4 L424.3 67.2 L420.3 64.4 L416.5 65.6Z" fill="#efff39"/>
<path d="M436.2 72.4 L439.9 71.7 L435.9 68.6 L432.1 69.2Z" fill="#c7ff3e"/>
<path d="M444.0 75.0 L447.7 74.5 L443.6 71.3 L439.9 71.7Z" fill="#abff3d"/>
<path d="M459.5 81.5 L463.1 81.5 L459.0 78.0 L455.4 77.8Z" fill="#5fff3d"/>
<path d="M342.1 74.8 L346.2 70.8 L342.5 69.6 L338.5 73.5Z" fill="#baff49"/>
<path d="M365.6 68.3 L369.6 65.2 L365.8 63.5 L361.8 66.6Z" fill="#f5ff3e"/>
<path d="M428.4 70.2 L432.1 69.2 L428.1 66.3 L424.3 67.2Z" fill="#ddff3b"/>
<path d="M451.7 78.0 L455.4 77.8 L451.3 74.4 L447.7 74.5Z" fill="#89ff3d"/>
<path d="M330.3 82.4 L334.4 77.8 L330.7 76.7 L326.6 81.2Z" fill="#7fff53"/>
<path d="M377.3 69.2 L381.3 66.2 L377.4 64.2 L373.4 67.1Z" fill="#f8ff3e"/>
<path d="M393.0 68.2 L397.0 65.8 L393.1 63.4 L389.1 65.8Z" fill="#fffe3a"/>
<path d="M400.9 68.4 L404.8 66.2 L400.9 63.7 L397.0 65.8Z" fill="#feff3a"/>
<path d="M416.7 70.0 L420.5 68.4 L416.5 65.6 L412.7 67.1Z" fill="#ecff3a"/>
<path d="M463.6 85.4 L467.2 85.4 L463.1 81.5 L459.5 81.5Z" fill="#3fff3e"/>
<path d="M338.0 79.1 L342.1 74.8 L338.5 73.5 L334.4 77.8Z" fill="#9eff4f"/>
<path d="M345.9 76.3 L349.9 72.2 L346.2 70.8 L342.1 74.8Z" fill="#b8ff4b"/>
<path d="M353.7 73.8 L357.7 70.1 L354.0 68.5 L349.9 72.2Z" fill="#ceff47"/>
<path d="M361.5 71.8 L365.6 68.3 L361.8 66.6 L357.7 70.1Z" fill="#e0ff43"/>
<path d="M369.4 70.3 L373.4 67.1 L369.6 65.2 L365.6 68.3Z" fill="#eeff40"/>
<path d="M385.1 68.5 L389.1 65.8 L385.2 63.6 L381.3 66.2Z" fill="#feff3c"/>
<path d="M408.8 69.0 L412.7 67.1 L408.7 64.5 L404.8 66.2Z" fill="#f7ff3a"/>
<path d="M424.5 71.5 L428.4 70.2 L424.3 67.2 L420.5 68.4Z" fill="#ddff3c"/>
<path d="M432.4 73.4 L436.2 72.4 L432.1 69.2 L428.4 70.2Z" fill="#caff3e"/>
<path d="M440.2 75.8 L444.0 75.0 L439.9 71.7 L436.2 72.4Z" fill="#b2ff3f"/>
<path d="M448.1 78.5 L451.7 78.0 L447.7 74.5 L444.0 75.0Z" fill="#93ff3f"/>
<path d="M455.8 81.7 L459.5 81.5 L455.4 77.8 L451.7 78.0Z" fill="#6dff3f"/>
<path d="M333.9 83.8 L338.0 79.1 L334.4 77.8 L330.3 82.4Z" fill="#7fff54"/>
<path d="M341.8 80.7 L345.9 76.3 L342.1 74.8 L338.0 79.1Z" fill="#9cff50"/>
<path d="M365.3 73.9 L369.4 70.3 L365.6 68.3 L361.5 71.8Z" fill="#d9ff45"/>
<path d="M397.0 70.9 L400.9 68.4 L397.0 65.8 L393.0 68.2Z" fill="#f2ff3d"/>
<path d="M428.6 74.8 L432.4 73.4 L428.4 70.2 L424.5 71.5Z" fill="#c9ff3f"/>
<path d="M452.2 82.3 L455.8 81.7 L451.7 78.0 L448.1 78.5Z" fill="#77ff41"/>
<path d="M460.0 85.7 L463.6 85.4 L459.5 81.5 L455.8 81.7Z" fill="#4eff40"/>
<path d="M349.6 78.0 L353.7 73.8 L349.9 72.2 L345.9 76.3Z" fill="#b4ff4c"/>
<path d="M357.5 75.7 L361.5 71.8 L357.7 70.1 L353.7 73.8Z" fill="#c8ff48"/>
<path d="M373.2 72.5 L377.3 69.2 L373.4 67.1 L369.4 70.3Z" fill="#e5ff42"/>
<path d="M381.1 71.5 L385.1 68.5 L381.3 66.2 L377.3 69.2Z" fill="#eeff40"/>
<path d="M389.1 71.0 L393.0 68.2 L389.1 65.8 L385.1 68.5Z" fill="#f2ff3e"/>
<path d="M404.9 71.2 L408.8 69.0 L404.8 66.2 L400.9 68.4Z" fill="#efff3c"/>
<path d="M412.8 72.0 L416.7 70.0 L412.7 67.1 L408.8 69.0Z" fill="#e6ff3c"/>
<path d="M420.7 73.2 L424.5 71.5 L420.5 68.4 L416.7 70.0Z" fill="#daff3d"/>
<path d="M436.5 76.9 L440.2 75.8 L436.2 72.4 L432.4 73.4Z" fill="#b4ff41"/>
<path d="M444.3 79.4 L448.1 78.5 L444.0 75.0 L440.2 75.8Z" fill="#99ff41"/>
<path d="M337.6 85.5 L341.8 80.7 L338.0 79.1 L333.9 83.8Z" fill="#7cff55"/>
<path d="M456.3 86.4 L460.0 85.7 L455.8 81.7 L452.2 82.3Z" fill="#58ff42"/>
<path d="M345.5 82.5 L349.6 78.0 L345.9 76.3 L341.8 80.7Z" fill="#97ff51"/>
<path d="M361.3 77.8 L365.3 73.9 L361.5 71.8 L357.5 75.7Z" fill="#c1ff4a"/>
<path d="M369.2 76.1 L373.2 72.5 L369.4 70.3 L365.3 73.9Z" fill="#d0ff47"/>
<path d="M377.1 74.9 L381.1 71.5 L377.3 69.2 L373.2 72.5Z" fill="#daff44"/>
<path d="M385.1 74.1 L389.1 71.0 L385.1 68.5 L381.1 71.5Z" fill="#e1ff42"/>
<path d="M393.0 73.7 L397.0 70.9 L393.0 68.2 L389.1 71.0Z" fill="#e4ff41"/>
<path d="M400.9 73.7 L404.9 71.2 L400.9 68.4 L397.0 70.9Z" fill="#e3ff40"/>
<path d="M408.9 74.2 L412.8 72.0 L408.8 69.0 L404.9 71.2Z" fill="#ddff3f"/>
<path d="M416.8 75.2 L420.7 73.2 L416.7 70.0 L412.8 72.0Z" fill="#d4ff3f"/>
<path d="M424.8 76.6 L428.6 74.8 L424.5 71.5 L420.7 73.2Z" fill="#c6ff40"/>
<path d="M432.7 78.4 L436.5 76.9 L432.4 73.4 L428.6 74.8Z" fill="#b3ff42"/>
<path d="M448.4 83.3 L452.2 82.3 L448.1 78.5 L444.3 79.4Z" fill="#7eff43"/>
<path d="M353.4 79.9 L357.5 75.7 L353.7 73.8 L349.6 78.0Z" fill="#aeff4e"/>
<path d="M440.6 80.6 L444.3 79.4 L440.2 75.8 L436.5 76.9Z" fill="#9cff44"/>
<path d="M341.4 87.4 L345.5 82.5 L341.8 80.7 L337.6 85.5Z" fill="#77ff57"/>
<path d="M365.1 80.2 L369.2 76.1 L365.3 73.9 L361.3 77.8Z" fill="#b7ff4c"/>
<path d="M373.1 78.6 L377.1 74.9 L373.2 72.5 L369.2 76.1Z" fill="#c5ff49"/>
<path d="M389.0 76.9 L393.0 73.7 L389.1 71.0 L385.1 74.1Z" fill="#d3ff45"/>
<path d="M404.9 76.9 L408.9 74.2 L404.9 71.2 L400.9 73.7Z" fill="#d1ff43"/>
<path d="M420.9 78.6 L424.8 76.6 L420.7 73.2 L416.8 75.2Z" fill="#bfff43"/>
<path d="M428.8 80.2 L432.7 78.4 L428.6 74.8 L424.8 76.6Z" fill="#afff44"/>
<path d="M452.6 87.4 L456.3 86.4 L452.2 82.3 L448.4 83.3Z" fill="#5fff45"/>
<path d="M349.3 84.5 L353.4 79.9 L349.6 78.0 L345.5 82.5Z" fill="#91ff53"/>
<path d="M357.2 82.1 L361.3 77.8 L357.5 75.7 L353.4 79.9Z" fill="#a6ff4f"/>
<path d="M381.0 77.5 L385.1 74.1 L381.1 71.5 L377.1 74.9Z" fill="#ceff47"/>
<path d="M397.0 76.7 L400.9 73.7 L397.0 70.9 L393.0 73.7Z" fill="#d4ff43"/>
<path d="M412.9 77.5 L416.8 75.2 L412.8 72.0 L408.9 74.2Z" fill="#caff42"/>
<path d="M436.8 82.1 L440.6 80.6 L436.5 76.9 L432.7 78.4Z" fill="#9bff45"/>
<path d="M444.7 84.6 L448.4 83.3 L444.3 79.4 L440.6 80.6Z" fill="#81ff46"/>
<path d="M345.1 89.5 L349.3 84.5 L345.5 82.5 L341.4 87.4Z" fill="#70ff59"/>
<path d="M353.1 86.8 L357.2 82.1 L353.4 79.9 L349.3 84.5Z" fill="#89ff55"/>
<path d="M377.0 81.3 L381.0 77.5 L377.1 74.9 L373.1 78.6Z" fill="#b8ff4c"/>
<path d="M417.0 81.1 L420.9 78.6 L416.8 75.2 L412.9 77.5Z" fill="#b5ff46"/>
<path d="M440.9 86.2 L444.7 84.6 L440.6 80.6 L436.8 82.1Z" fill="#80ff49"/>
<path d="M448.8 88.7 L452.6 87.4 L448.4 83.3 L444.7 84.6Z" fill="#62ff48"/>
<path d="M361.0 84.5 L365.1 80.2 L361.3 77.8 L357.2 82.1Z" fill="#9cff51"/>
<path d="M369.0 82.7 L373.1 78.6 L369.2 76.1 L365.1 80.2Z" fill="#acff4e"/>
<path d="M385.0 80.4 L389.0 76.9 L385.1 74.1 L381.0 77.5Z" fill="#bfff49"/>
<path d="M393.0 79.9 L397.0 76.7 L393.0 73.7 L389.0 76.9Z" fill="#c3ff48"/>
<path d="M401.0 79.9 L404.9 76.9 L400.9 73.7 L397.0 76.7Z" fill="#c3ff46"/>
<path d="M409.0 80.2 L412.9 77.5 L408.9 74.2 L404.9 76.9Z" fill="#beff46"/>
<path d="M425.0 82.3 L428.8 80.2 L424.8 76.6 L420.9 78.6Z" fill="#a8ff46"/>
<path d="M432.9 84.0 L436.8 82.1 L432.7 78.4 L428.8 80.2Z" fill="#96ff47"/>
<path d="M349.0 91.8 L353.1 86.8 L349.3 84.5 L345.1 89.5Z" fill="#68ff5a"/>
<path d="M445.0 90.4 L448.8 88.7 L444.7 84.6 L440.9 86.2Z" fill="#61ff4b"/>
<path d="M356.9 89.3 L361.0 84.5 L357.2 82.1 L353.1 86.8Z" fill="#7eff57"/>
<path d="M364.9 87.2 L369.0 82.7 L365.1 80.2 L361.0 84.5Z" fill="#91ff54"/>
<path d="M372.9 85.5 L377.0 81.3 L373.1 78.6 L369.0 82.7Z" fill="#9fff51"/>
<path d="M380.9 84.3 L385.0 80.4 L381.0 77.5 L377.0 81.3Z" fill="#a9ff4e"/>
<path d="M388.9 83.5 L393.0 79.9 L389.0 76.9 L385.0 80.4Z" fill="#afff4c"/>
<path d="M397.0 83.2 L401.0 79.9 L397.0 76.7 L393.0 79.9Z" fill="#b1ff4b"/>
<path d="M405.0 83.3 L409.0 80.2 L404.9 76.9 L401.0 79.9Z" fill="#afff49"/>
<path d="M413.0 83.9 L417.0 81.1 L412.9 77.5 L409.0 80.2Z" fill="#a8ff49"/>
<path d="M421.0 84.9 L425.0 82.3 L420.9 78.6 L417.0 81.1Z" fill="#9eff49"/>
<path d="M429.1 86.3 L432.9 84.0 L428.8 80.2 L425.0 82.3Z" fill="#8fff49"/>
<path d="M437.0 88.1 L440.9 86.2 L436.8 82.1 L432.9 84.0Z" fill="#7bff4b"/>
<path d="M352.8 94.4 L356.9 89.3 L353.1 86.8 L349.0 91.8Z" fill="#5dff5c"/>
<path d="M360.8 92.0 L364.9 87.2 L361.0 84.5 L356.9 89.3Z" fill="#72ff59"/>
<path d="M368.8 90.1 L372.9 85.5 L369.0 82.7 L364.9 87.2Z" fill="#83ff56"/>
<path d="M376.8 88.6 L380.9 84.3 L377.0 81.3 L372.9 85.5Z" fill="#8fff53"/>
<path d="M384.9 87.5 L388.9 83.5 L385.0 80.4 L380.9 84.3Z" fill="#98ff51"/>
<path d="M392.9 86.9 L397.0 83.2 L393.0 79.9 L388.9 83.5Z" fill="#9cff4f"/>
<path d="M401.0 86.7 L405.0 83.3 L401.0 79.9 L397.0 83.2Z" fill="#9cff4e"/>
<path d="M409.1 87.0 L413.0 83.9 L409.0 80.2 L405.0 83.3Z" fill="#99ff4d"/>
<path d="M417.1 87.7 L421.0 84.9 L417.0 81.1 L413.0 83.9Z" fill="#90ff4c"/>
<path d="M425.1 88.9 L429.1 86.3 L425.0 82.3 L421.0 84.9Z" fill="#84ff4c"/>
<path d="M433.2 90.5 L437.0 88.1 L432.9 84.0 L429.1 86.3Z" fill="#73ff4d"/>
<path d="M441.2 92.5 L445.0 90.4 L440.9 86.2 L437.0 88.1Z" fill="#5dff4e"/>
<path d="M356.7 97.2 L360.8 92.0 L356.9 89.3 L352.8 94.4Z" fill="#5eff6d"/>
<path d="M437.3 94.9 L441.2 92.5 L437.0 88.1 L433.2 90.5Z" fill="#54ff51"/>
<path d="M364.7 95.0 L368.8 90.1 L364.9 87.2 L360.8 92.0Z" fill="#63ff5b"/>
<path d="M372.8 93.2 L376.8 88.6 L372.9 85.5 L368.8 90.1Z" fill="#72ff59"/>
<path d="M380.8 91.9 L384.9 87.5 L380.9 84.3 L376.8 88.6Z" fill="#7dff56"/>
<path d="M388.9 91.0 L392.9 86.9 L388.9 83.5 L384.9 87.5Z" fill="#84ff54"/>
<path d="M397.0 90.5 L401.0 86.7 L397.0 83.2 L392.9 86.9Z" fill="#87ff52"/>
<path d="M405.1 90.5 L409.1 87.0 L405.0 83.3 L401.0 86.7Z" fill="#86ff51"/>
<path d="M413.1 90.9 L417.1 87.7 L413.0 83.9 L409.1 87.0Z" fill="#80ff50"/>
<path d="M421.2 91.8 L425.1 88.9 L421.0 84.9 L417.1 87.7Z" fill="#76ff50"/>
<path d="M429.3 93.1 L433.2 90.5 L429.1 86.3 L425.1 88.9Z" fill="#67ff50"/>
<path d="M360.6 100.3 L364.7 95.0 L360.8 92.0 L356.7 97.2Z" fill="#61ff80"/>
<path d="M433.4 97.7 L437.3 94.9 L433.2 90.5 L429.3 93.1Z" fill="#54ff5f"/>
<path d="M368.6 98.2 L372.8 93.2 L368.8 90.1 L364.7 95.0Z" fill="#5eff69"/>
<path d="M376.7 96.6 L380.8 91.9 L376.8 88.6 L372.8 93.2Z" fill="#60ff5b"/>
<path d="M384.8 95.4 L388.9 91.0 L384.9 87.5 L380.8 91.9Z" fill="#69ff59"/>
<path d="M392.9 94.7 L397.0 90.5 L392.9 86.9 L388.9 91.0Z" fill="#6fff57"/>
<path d="M401.0 94.4 L405.1 90.5 L401.0 86.7 L397.0 90.5Z" fill="#70ff55"/>
<path d="M409.1 94.5 L413.1 90.9 L409.1 87.0 L405.1 90.5Z" fill="#6dff54"/>
<path d="M417.2 95.1 L421.2 91.8 L417.1 87.7 L413.1 90.9Z" fill="#65ff53"/>
<path d="M425.3 96.2 L429.3 93.1 L425.1 88.9 L421.2 91.8Z" fill="#59ff53"/>
<path d="M364.5 103.6 L368.6 98.2 L364.7 95.0 L360.6 100.3Z" fill="#63ff95"/>
<path d="M372.6 101.7 L376.7 96.6 L372.8 93.2 L368.6 98.2Z" fill="#60ff81"/>
<path d="M380.7 100.2 L384.8 95.4 L380.8 91.9 L376.7 96.6Z" fill="#5eff70"/>
<path d="M388.8 99.2 L392.9 94.7 L388.9 91.0 L384.8 95.4Z" fill="#5cff64"/>
<path d="M397.0 98.6 L401.0 94.4 L397.0 90.5 L392.9 94.7Z" fill="#5aff5d"/>
<path d="M405.1 98.5 L409.1 94.5 L405.1 90.5 L401.0 94.4Z" fill="#58ff5b"/>
<path d="M413.2 98.8 L417.2 95.1 L413.1 90.9 L409.1 94.5Z" fill="#57ff5e"/>
<path d="M421.4 99.6 L425.3 96.2 L421.2 91.8 L417.2 95.1Z" fill="#57ff66"/>
<path d="M429.5 100.8 L433.4 97.7 L429.3 93.1 L425.3 96.2Z" fill="#57ff74"/>
<path d="M368.5 107.1 L372.6 101.7 L368.6 98.2 L364.5 103.6Z" fill="#65ffac"/>
<path d="M425.5 104.3 L429.5 100.8 L425.3 96.2 L421.4 99.6Z" fill="#5aff8c"/>
<path d="M376.6 105.4 L380.7 100.2 L376.7 96.6 L372.6 101.7Z" fill="#63ff9a"/>
<path d="M384.7 104.1 L388.8 99.2 L384.8 95.4 L380.7 100.2Z" fill="#61ff8c"/>
<path d="M392.9 103.2 L397.0 98.6 L392.9 94.7 L388.8 99.2Z" fill="#5fff82"/>
<path d="M401.1 102.8 L405.1 98.5 L401.0 94.4 L397.0 98.6Z" fill="#5dff7d"/>
<path d="M409.2 102.8 L413.2 98.8 L409.1 94.5 L405.1 98.5Z" fill="#5cff7d"/>
<path d="M417.4 103.3 L421.4 99.6 L417.2 95.1 L413.2 98.8Z" fill="#5bff82"/>
<path d="M372.4 110.9 L376.6 105.4 L372.6 101.7 L368.5 107.1Z" fill="#68ffc3"/>
<path d="M421.5 108.1 L425.5 104.3 L421.4 99.6 L417.4 103.3Z" fill="#5effa7"/>
<path d="M380.6 109.3 L384.7 104.1 L380.7 100.2 L376.6 105.4Z" fill="#66ffb4"/>
<path d="M388.8 108.2 L392.9 103.2 L388.8 99.2 L384.7 104.1Z" fill="#63ffa8"/>
<path d="M397.0 107.5 L401.1 102.8 L397.0 98.6 L392.9 103.2Z" fill="#62ffa1"/>
<path d="M405.2 107.2 L409.2 102.8 L405.1 98.5 L401.1 102.8Z" fill="#60ff9e"/>
<path d="M413.3 107.4 L417.4 103.3 L413.2 98.8 L409.2 102.8Z" fill="#5fffa0"/>
<path d="M376.5 114.9 L380.6 109.3 L376.6 105.4 L372.4 110.9Z" fill="#6affd9"/>
<path d="M384.7 113.5 L388.8 108.2 L384.7 104.1 L380.6 109.3Z" fill="#68ffcd"/>
<path d="M392.9 112.5 L397.0 107.5 L392.9 103.2 L388.8 108.2Z" fill="#66ffc5"/>
<path d="M401.1 112.0 L405.2 107.2 L401.1 102.8 L397.0 107.5Z" fill="#65ffc0"/>
<path d="M409.3 111.9 L413.3 107.4 L409.2 102.8 L405.2 107.2Z" fill="#63ffbf"/>
<path d="M417.5 112.3 L421.5 108.1 L417.4 103.3 L413.3 107.4Z" fill="#62ffc3"/>
<path d="M380.5 119.2 L384.7 113.5 L380.6 109.3 L376.5 114.9Z" fill="#6dffee"/>
<path d="M413.5 116.9 L417.5 112.3 L413.3 107.4 L409.3 111.9Z" fill="#66ffde"/>
<path d="M388.7 118.0 L392.9 112.5 L388.8 108.2 L384.7 113.5Z" fill="#6bffe5"/>
<path d="M397.0 117.2 L401.1 112.0 L397.0 107.5 L392.9 112.5Z" fill="#69ffdf"/>
<path d="M405.2 116.8 L409.3 111.9 L405.2 107.2 L401.1 112.0Z" fill="#68ffdd"/>
<path d="M384.6 123.8 L388.7 118.0 L384.7 113.5 L380.5 119.2Z" fill="#70fdff"/>
<path d="M409.4 121.8 L413.5 116.9 L409.3 111.9 L405.2 116.8Z" fill="#6bfff6"/>
<path d="M392.8 122.7 L397.0 117.2 L392.9 112.5 L388.7 118.0Z" fill="#6efffb"/>
<path d="M401.1 122.0 L405.2 116.8 L401.1 112.0 L397.0 117.2Z" fill="#6cfff7"/>
<path d="M388.7 128.6 L392.8 122.7 L388.7 118.0 L384.6 123.8Z" fill="#72ecff"/>
<path d="M397.0 127.6 L401.1 122.0 L397.0 117.2 L392.8 122.7Z" fill="#71f0ff"/>
<path d="M405.3 127.1 L409.4 121.8 L405.2 116.8 L401.1 122.0Z" fill="#6ff2ff"/>
<path d="M392.8 133.6 L397.0 127.6 L392.8 122.7 L388.7 128.6Z" fill="#73ddff"/>
<path d="M401.1 132.8 L405.3 127.1 L401.1 122.0 L397.0 127.6Z" fill="#73e0ff"/>
<path d="M397.0 138.9 L401.1 132.8 L397.0 127.6 L392.8 133.6Z" fill="#71cdfe"/>
</g>
<path d="M304.3 40.8 L307.1 126.6 L309.4 153.2 L396.8 192.9 L484.1 153.2 L486.8 126.6 L489.6 40.8" fill="none" stroke="#2a2a2a" stroke-width="0.8"/>
<circle cx="307.14" cy="126.6" r="0.9" fill="#111"/>
<circle cx="306.75" cy="114.67" r="0.9" fill="#111"/>
<circle cx="306.36" cy="102.62" r="0.9" fill="#111"/>
<circle cx="305.97" cy="90.47" r="0.9" fill="#111"/>
<circle cx="305.57" cy="78.22" r="0.9" fill="#111"/>
<circle cx="305.16" cy="65.86" r="0.9" fill="#111"/>
<circle cx="304.76" cy="53.39" r="0.9" fill="#111"/>
<circle cx="304.35" cy="40.8" r="0.9" fill="#111"/>
<circle cx="396.77" cy="192.94" r="0.8" fill="#111"/>
<circle cx="414.24" cy="184.99" r="0.8" fill="#111"/>
<circle cx="431.7" cy="177.03" r="0.8" fill="#111"/>
<circle cx="449.17" cy="169.08" r="0.8" fill="#111"/>
<circle cx="466.64" cy="161.12" r="0.8" fill="#111"/>
<circle cx="484.11" cy="153.17" r="0.8" fill="#111"/>
<circle cx="396.77" cy="192.94" r="0.8" fill="#111"/>
<circle cx="379.3" cy="184.99" r="0.8" fill="#111"/>
<circle cx="361.83" cy="177.03" r="0.8" fill="#111"/>
<circle cx="344.36" cy="169.08" r="0.8" fill="#111"/>
<circle cx="326.9" cy="161.12" r="0.8" fill="#111"/>
<circle cx="309.43" cy="153.17" r="0.8" fill="#111"/>
<text x="303.84" y="130.5" font-size="11.5" text-anchor="end" fill="#0a0a0a" stroke="#0a0a0a" stroke-width="0.3">2.6</text>
<text x="303.06" y="106.52" font-size="11.5" text-anchor="end" fill="#0a0a0a" stroke="#0a0a0a" stroke-width="0.3">3</text>
<text x="302.27" y="82.12" font-size="11.5" text-anchor="end" fill="#0a0a0a" stroke="#0a0a0a" stroke-width="0.3">3.4</text>
<text x="301.46" y="57.29" font-size="11.5" text-anchor="end" fill="#0a0a0a" stroke="#0a0a0a" stroke-width="0.3">3.8</text>
<text x="283.9" y="87.5" font-size="11.5" text-anchor="middle" fill="#0a0a0a" stroke="#0a0a0a" stroke-width="0.3" transform="rotate(-90 283.9 87.5)" textLength="87" lengthAdjust="spacingAndGlyphs">Extraction rate (%)</text>
<text x="405.02" y="201.88" font-size="11.5" text-anchor="middle" fill="#0a0a0a" stroke="#0a0a0a" stroke-width="0.3" transform="rotate(-27 405.02 201.88)">10</text>
<text x="422.24" y="194" font-size="11.5" text-anchor="middle" fill="#0a0a0a" stroke="#0a0a0a" stroke-width="0.3" transform="rotate(-27 422.24 194)">12</text>
<text x="439.46" y="186.12" font-size="11.5" text-anchor="middle" fill="#0a0a0a" stroke="#0a0a0a" stroke-width="0.3" transform="rotate(-27 439.46 186.12)">14</text>
<text x="456.68" y="178.24" font-size="11.5" text-anchor="middle" fill="#0a0a0a" stroke="#0a0a0a" stroke-width="0.3" transform="rotate(-27 456.68 178.24)">16</text>
<text x="473.9" y="170.36" font-size="11.5" text-anchor="middle" fill="#0a0a0a" stroke="#0a0a0a" stroke-width="0.3" transform="rotate(-27 473.9 170.36)">18</text>
<text x="491.12" y="162.48" font-size="11.5" text-anchor="middle" fill="#0a0a0a" stroke="#0a0a0a" stroke-width="0.3" transform="rotate(-27 491.12 162.48)">20</text>
<text x="389.02" y="203.15" font-size="11.5" text-anchor="middle" fill="#0a0a0a" stroke="#0a0a0a" stroke-width="0.3" transform="rotate(28 389.02 203.15)">20</text>
<text x="371.86" y="194.99" font-size="11.5" text-anchor="middle" fill="#0a0a0a" stroke="#0a0a0a" stroke-width="0.3" transform="rotate(28 371.86 194.99)">22</text>
<text x="354.7" y="186.83" font-size="11.5" text-anchor="middle" fill="#0a0a0a" stroke="#0a0a0a" stroke-width="0.3" transform="rotate(28 354.7 186.83)">24</text>
<text x="337.54" y="178.67" font-size="11.5" text-anchor="middle" fill="#0a0a0a" stroke="#0a0a0a" stroke-width="0.3" transform="rotate(28 337.54 178.67)">26</text>
<text x="320.38" y="170.51" font-size="11.5" text-anchor="middle" fill="#0a0a0a" stroke="#0a0a0a" stroke-width="0.3" transform="rotate(28 320.38 170.51)">28</text>
<text x="303.22" y="162.35" font-size="11.5" text-anchor="middle" fill="#0a0a0a" stroke="#0a0a0a" stroke-width="0.3" transform="rotate(28 303.22 162.35)">30</text>
<text x="461.97" y="199.01" font-size="11.5" text-anchor="middle" fill="#0a0a0a" stroke="#0a0a0a" stroke-width="0.3" transform="rotate(-26 461.97 199.01)" textLength="112" lengthAdjust="spacingAndGlyphs">A: Ultrasonic time (min)</text>
<text x="336.59" y="197.24" font-size="11.5" text-anchor="middle" fill="#0a0a0a" stroke="#0a0a0a" stroke-width="0.3" transform="rotate(29 336.59 197.24)" textLength="126" lengthAdjust="spacingAndGlyphs">B: Solid-liquid ratio (mL/g)</text>
<path d="M396.97 41.75L396.97 54.94" stroke="#222" stroke-width="0.8"/>
<circle cx="396.97" cy="41.75" r="1.9" fill="#c00000" stroke="#6e0000" stroke-width="0.6"/>
<circle cx="396.97" cy="49.75" r="1.9" fill="#c00000" stroke="#6e0000" stroke-width="0.6"/>
<circle cx="487.98" cy="90.47" r="1.9" fill="#c00000" stroke="#6e0000" stroke-width="0.6"/>
<circle cx="305.75" cy="83.75" r="1.9" fill="#fdeaea" stroke="#b86a6a" stroke-width="0.8"/>
<circle cx="396.97" cy="140.23" r="1.9" fill="#c00000" stroke="#6e0000" stroke-width="0.6"/>
<path d="M316.9 384.4 L408.7 356.4 L500.4 384.4 M316.5 372.0 L408.7 344.9 L500.8 372.0 M316.1 359.4 L408.7 333.4 L501.2 359.4 M315.7 346.8 L408.7 321.8 L501.6 346.8 M315.3 334.0 L408.7 310.1 L502.0 334.0 M314.9 321.2 L408.7 298.3 L502.4 321.2 M314.5 308.2 L408.7 286.4 L502.8 308.2 M314.1 295.1 L408.7 274.4 L503.3 295.1 M316.9 384.4 L314.1 295.1 M335.3 378.8 L333.0 291.0 M353.6 373.2 L351.9 286.8 M372.0 367.6 L370.8 282.7 M390.3 362.0 L389.7 278.5 M408.7 356.4 L408.7 274.4 M408.7 356.4 L408.7 274.4 M431.6 363.4 L432.3 279.6 M454.5 370.4 L456.0 284.7 M477.4 377.4 L479.6 289.9 M500.4 384.4 L503.3 295.1" fill="none" stroke="#262626" stroke-width="0.85" stroke-opacity="0.95"/>
<path d="M408.6 449.9 L497.9 409.6 L408.6 378.2 L319.2 409.6Z" fill="#666666"/>
<g clip-path="url(#f2)" fill="none" stroke-width="1.5">
<path d="M444.0 413.5 L443.9 414.7 L443.7 415.9 L443.2 417.1 L442.6 418.2 L441.8 419.4 L440.8 420.5 L439.6 421.5 L438.3 422.6 L436.9 423.6 L435.3 424.5 L433.5 425.4 L431.6 426.2 L429.6 427.0 L427.5 427.7 L425.3 428.3 L423.0 428.9 L420.6 429.4 L418.2 429.8 L415.7 430.1 L413.1 430.4 L410.5 430.5 L407.9 430.6 L405.3 430.6 L402.7 430.5 L400.1 430.4 L397.6 430.1 L395.0 429.8 L392.6 429.4 L390.2 428.9 L387.9 428.3 L385.7 427.7 L383.6 427.0 L381.6 426.2 L379.7 425.4 L377.9 424.5 L376.3 423.6 L374.9 422.6 L373.6 421.5 L372.4 420.5 L371.4 419.4 L370.6 418.2 L370.0 417.1 L369.5 415.9 L369.3 414.7 L369.2 413.5 L369.3 412.3 L369.5 411.1 L370.0 409.9 L370.6 408.8 L371.4 407.6 L372.4 406.5 L373.6 405.5 L374.9 404.4 L376.3 403.4 L377.9 402.5 L379.7 401.6 L381.6 400.8 L383.6 400.0 L385.7 399.3 L387.9 398.7 L390.2 398.1 L392.6 397.6 L395.0 397.2 L397.6 396.9 L400.1 396.6 L402.7 396.5 L405.3 396.4 L407.9 396.4 L410.5 396.5 L413.1 396.6 L415.7 396.9 L418.2 397.2 L420.6 397.6 L423.0 398.1 L425.3 398.7 L427.5 399.3 L429.6 400.0 L431.6 400.8 L433.5 401.6 L435.3 402.5 L436.9 403.4 L438.3 404.4 L439.6 405.5 L440.8 406.5 L441.8 407.6 L442.6 408.8 L443.2 409.9 L443.7 411.1 L443.9 412.3 L444.0 413.5Z" stroke="#d7e128"/>
<path d="M459.4 413.5 L459.3 415.2 L458.9 416.9 L458.3 418.5 L457.4 420.2 L456.2 421.8 L454.8 423.3 L453.2 424.8 L451.4 426.3 L449.3 427.7 L447.1 429.0 L444.6 430.3 L441.9 431.4 L439.1 432.5 L436.1 433.5 L433.0 434.4 L429.8 435.2 L426.4 435.9 L422.9 436.5 L419.4 436.9 L415.8 437.3 L412.1 437.5 L408.4 437.6 L404.8 437.6 L401.1 437.5 L397.4 437.3 L393.8 436.9 L390.3 436.5 L386.8 435.9 L383.5 435.2 L380.2 434.4 L377.1 433.5 L374.1 432.5 L371.3 431.4 L368.6 430.3 L366.2 429.0 L363.9 427.7 L361.8 426.3 L360.0 424.8 L358.4 423.3 L357.0 421.8 L355.8 420.2 L355.0 418.5 L354.3 416.9 L353.9 415.2 L353.8 413.5 L353.9 411.8 L354.3 410.1 L355.0 408.5 L355.8 406.8 L357.0 405.2 L358.4 403.7 L360.0 402.2 L361.8 400.7 L363.9 399.3 L366.2 398.0 L368.6 396.7 L371.3 395.5 L374.1 394.5 L377.1 393.5 L380.2 392.6 L383.5 391.8 L386.8 391.1 L390.3 390.5 L393.8 390.1 L397.4 389.7 L401.1 389.5 L404.8 389.4 L408.4 389.4 L412.1 389.5 L415.8 389.7 L419.4 390.1 L422.9 390.5 L426.4 391.1 L429.8 391.8 L433.0 392.6 L436.1 393.5 L439.1 394.5 L441.9 395.5 L444.6 396.7 L447.1 398.0 L449.3 399.3 L451.4 400.7 L453.2 402.2 L454.8 403.7 L456.2 405.2 L457.4 406.8 L458.3 408.5 L458.9 410.1 L459.3 411.8 L459.4 413.5Z" stroke="#3ce128"/>
<path d="M471.2 413.5 L471.1 415.6 L470.6 417.6 L469.8 419.6 L468.7 421.6 L467.3 423.6 L465.6 425.5 L463.7 427.4 L461.4 429.2 L458.9 430.9 L456.1 432.5 L453.1 434.0 L449.8 435.5 L446.4 436.8 L442.7 438.0 L438.9 439.1 L434.9 440.1 L430.8 440.9 L426.6 441.6 L422.2 442.2 L417.8 442.6 L413.4 442.9 L408.9 443.0 L404.3 443.0 L399.9 442.9 L395.4 442.6 L391.0 442.2 L386.6 441.6 L382.4 440.9 L378.3 440.1 L374.3 439.1 L370.5 438.0 L366.8 436.8 L363.4 435.5 L360.1 434.0 L357.1 432.5 L354.3 430.9 L351.8 429.2 L349.5 427.4 L347.6 425.5 L345.9 423.6 L344.5 421.6 L343.4 419.6 L342.6 417.6 L342.1 415.6 L342.0 413.5 L342.1 411.4 L342.6 409.4 L343.4 407.4 L344.5 405.3 L345.9 403.4 L347.6 401.5 L349.5 399.6 L351.8 397.8 L354.3 396.1 L357.1 394.5 L360.1 393.0 L363.4 391.5 L366.8 390.2 L370.5 389.0 L374.3 387.9 L378.3 386.9 L382.4 386.1 L386.6 385.4 L391.0 384.8 L395.4 384.4 L399.9 384.1 L404.3 384.0 L408.9 384.0 L413.4 384.1 L417.8 384.4 L422.2 384.8 L426.6 385.4 L430.8 386.1 L434.9 386.9 L438.9 387.9 L442.7 389.0 L446.4 390.2 L449.8 391.5 L453.1 393.0 L456.1 394.5 L458.9 396.1 L461.4 397.8 L463.7 399.6 L465.6 401.5 L467.3 403.4 L468.7 405.3 L469.8 407.4 L470.6 409.4 L471.1 411.4 L471.2 413.5Z" stroke="#1ed264"/>
<path d="M481.2 413.5 L481.0 415.9 L480.5 418.2 L479.6 420.6 L478.3 422.9 L476.7 425.2 L474.7 427.4 L472.5 429.5 L469.9 431.6 L466.9 433.6 L463.7 435.4 L460.3 437.2 L456.5 438.9 L452.5 440.4 L448.3 441.8 L443.9 443.0 L439.3 444.2 L434.5 445.1 L429.7 445.9 L424.6 446.6 L419.6 447.1 L414.4 447.4 L409.2 447.6 L404.0 447.6 L398.8 447.4 L393.7 447.1 L388.6 446.6 L383.6 445.9 L378.7 445.1 L373.9 444.2 L369.3 443.0 L364.9 441.8 L360.7 440.4 L356.7 438.9 L353.0 437.2 L349.5 435.4 L346.3 433.6 L343.4 431.6 L340.7 429.5 L338.5 427.4 L336.5 425.2 L334.9 422.9 L333.6 420.6 L332.7 418.2 L332.2 415.9 L332.0 413.5 L332.2 411.1 L332.7 408.7 L333.6 406.4 L334.9 404.1 L336.5 401.8 L338.5 399.6 L340.7 397.5 L343.4 395.4 L346.3 393.4 L349.5 391.6 L353.0 389.8 L356.7 388.1 L360.7 386.6 L364.9 385.2 L369.3 383.9 L373.9 382.8 L378.7 381.9 L383.6 381.0 L388.6 380.4 L393.7 379.9 L398.8 379.6 L404.0 379.4 L409.2 379.4 L414.4 379.6 L419.6 379.9 L424.6 380.4 L429.7 381.0 L434.5 381.9 L439.3 382.8 L443.9 383.9 L448.3 385.2 L452.5 386.6 L456.5 388.1 L460.3 389.8 L463.7 391.6 L466.9 393.4 L469.9 395.4 L472.5 397.5 L474.7 399.6 L476.7 401.8 L478.3 404.1 L479.6 406.4 L480.5 408.7 L481.0 411.1 L481.2 413.5Z" stroke="#1ec8dc"/>
<path d="M490.0 413.5 L489.8 416.2 L489.2 418.8 L488.2 421.4 L486.7 424.0 L484.9 426.5 L482.8 429.0 L480.2 431.4 L477.3 433.7 L474.1 435.9 L470.5 438.0 L466.6 440.0 L462.4 441.8 L457.9 443.5 L453.2 445.1 L448.3 446.5 L443.2 447.8 L437.8 448.9 L432.4 449.8 L426.8 450.5 L421.1 451.1 L415.3 451.4 L409.5 451.6 L403.7 451.6 L397.9 451.4 L392.1 451.1 L386.4 450.5 L380.8 449.8 L375.4 448.9 L370.1 447.8 L364.9 446.5 L360.0 445.1 L355.3 443.5 L350.8 441.8 L346.6 440.0 L342.7 438.0 L339.2 435.9 L335.9 433.7 L333.0 431.4 L330.4 429.0 L328.3 426.5 L326.5 424.0 L325.1 421.4 L324.0 418.8 L323.4 416.2 L323.2 413.5 L323.4 410.8 L324.0 408.2 L325.1 405.6 L326.5 403.0 L328.3 400.5 L330.4 398.0 L333.0 395.6 L335.9 393.3 L339.2 391.1 L342.7 389.0 L346.6 387.0 L350.8 385.2 L355.3 383.4 L360.0 381.9 L364.9 380.5 L370.1 379.2 L375.4 378.1 L380.8 377.2 L386.4 376.5 L392.1 375.9 L397.9 375.6 L403.7 375.4 L409.5 375.4 L415.3 375.6 L421.1 375.9 L426.8 376.5 L432.4 377.2 L437.8 378.1 L443.2 379.2 L448.3 380.5 L453.2 381.9 L457.9 383.4 L462.4 385.2 L466.6 387.0 L470.5 389.0 L474.1 391.1 L477.3 393.3 L480.2 395.6 L482.8 398.0 L484.9 400.5 L486.7 403.0 L488.2 405.6 L489.2 408.2 L489.8 410.8 L490.0 413.5Z" stroke="#2378e6"/>
</g>
<g stroke="#000" stroke-opacity="0.58" stroke-width="0.55" stroke-linejoin="round">
<path d="M408.7 322.7 L411.9 324.6 L408.7 326.8 L405.4 324.8Z" fill="#34fffa"/>
<path d="M405.4 321.0 L408.7 322.7 L405.4 324.8 L402.1 323.2Z" fill="#36ffde"/>
<path d="M412.0 320.8 L415.2 322.8 L411.9 324.6 L408.7 322.7Z" fill="#33ffdc"/>
<path d="M402.0 319.5 L405.4 321.0 L402.1 323.2 L398.8 321.8Z" fill="#38ffc2"/>
<path d="M408.7 319.0 L412.0 320.8 L408.7 322.7 L405.4 321.0Z" fill="#35ffbb"/>
<path d="M415.3 319.2 L418.5 321.2 L415.2 322.8 L412.0 320.8Z" fill="#32ffbc"/>
<path d="M398.7 318.3 L402.0 319.5 L398.8 321.8 L395.4 320.6Z" fill="#3affa7"/>
<path d="M405.3 317.5 L408.7 319.0 L405.4 321.0 L402.0 319.5Z" fill="#37ff9b"/>
<path d="M412.0 317.4 L415.3 319.2 L412.0 320.8 L408.7 319.0Z" fill="#34ff97"/>
<path d="M418.6 317.9 L421.9 320.0 L418.5 321.2 L415.3 319.2Z" fill="#30ff9c"/>
<path d="M402.0 316.3 L405.3 317.5 L402.0 319.5 L398.7 318.3Z" fill="#39ff7d"/>
<path d="M408.7 315.8 L412.0 317.4 L408.7 319.0 L405.3 317.5Z" fill="#35ff75"/>
<path d="M415.3 316.0 L418.6 317.9 L415.3 319.2 L412.0 317.4Z" fill="#32ff75"/>
<path d="M395.3 317.3 L398.7 318.3 L395.4 320.6 L392.0 319.7Z" fill="#3cff8e"/>
<path d="M422.0 316.8 L425.3 319.0 L421.9 320.0 L418.6 317.9Z" fill="#2fff7e"/>
<path d="M398.6 315.2 L402.0 316.3 L398.7 318.3 L395.3 317.3Z" fill="#3bff63"/>
<path d="M405.3 314.5 L408.7 315.8 L405.3 317.5 L402.0 316.3Z" fill="#37ff56"/>
<path d="M412.0 314.4 L415.3 316.0 L412.0 317.4 L408.7 315.8Z" fill="#34ff51"/>
<path d="M418.7 314.9 L422.0 316.8 L418.6 317.9 L415.3 316.0Z" fill="#31ff56"/>
<path d="M391.9 316.6 L395.3 317.3 L392.0 319.7 L388.6 319.0Z" fill="#3eff79"/>
<path d="M425.4 316.0 L428.7 318.3 L425.3 319.0 L422.0 316.8Z" fill="#2eff64"/>
<path d="M408.7 313.0 L412.0 314.4 L408.7 315.8 L405.3 314.5Z" fill="#3aff36"/>
<path d="M388.5 316.2 L391.9 316.6 L388.6 319.0 L385.2 318.6Z" fill="#40ff67"/>
<path d="M395.2 314.5 L398.6 315.2 L395.3 317.3 L391.9 316.6Z" fill="#3dff4d"/>
<path d="M401.9 313.4 L405.3 314.5 L402.0 316.3 L398.6 315.2Z" fill="#39ff3b"/>
<path d="M415.4 313.2 L418.7 314.9 L415.3 316.0 L412.0 314.4Z" fill="#34ff33"/>
<path d="M422.1 314.1 L425.4 316.0 L422.0 316.8 L418.7 314.9Z" fill="#30ff3a"/>
<path d="M428.8 315.6 L432.1 317.8 L428.7 318.3 L425.4 316.0Z" fill="#2cff4d"/>
<path d="M405.3 311.9 L408.7 313.0 L405.3 314.5 L401.9 313.4Z" fill="#58ff38"/>
<path d="M412.0 311.8 L415.4 313.2 L412.0 314.4 L408.7 313.0Z" fill="#56ff34"/>
<path d="M391.8 314.0 L395.2 314.5 L391.9 316.6 L388.5 316.2Z" fill="#42ff3e"/>
<path d="M398.5 312.6 L401.9 313.4 L398.6 315.2 L395.2 314.5Z" fill="#51ff3b"/>
<path d="M418.8 312.4 L422.1 314.1 L418.7 314.9 L415.4 313.2Z" fill="#4cff31"/>
<path d="M425.6 313.6 L428.8 315.6 L425.4 316.0 L422.1 314.1Z" fill="#39ff2e"/>
<path d="M385.0 316.0 L388.5 316.2 L385.2 318.6 L381.8 318.5Z" fill="#3fff56"/>
<path d="M432.3 315.4 L435.6 317.7 L432.1 317.8 L428.8 315.6Z" fill="#2bff3a"/>
<path d="M388.3 313.8 L391.8 314.0 L388.5 316.2 L385.0 316.0Z" fill="#51ff3e"/>
<path d="M395.1 312.1 L398.5 312.6 L395.2 314.5 L391.8 314.0Z" fill="#66ff3c"/>
<path d="M401.9 311.1 L405.3 311.9 L401.9 313.4 L398.5 312.6Z" fill="#71ff3a"/>
<path d="M408.7 310.7 L412.0 311.8 L408.7 313.0 L405.3 311.9Z" fill="#74ff36"/>
<path d="M415.4 310.9 L418.8 312.4 L415.4 313.2 L412.0 311.8Z" fill="#6eff33"/>
<path d="M422.2 311.8 L425.6 313.6 L422.1 314.1 L418.8 312.4Z" fill="#61ff30"/>
<path d="M429.0 313.4 L432.3 315.4 L428.8 315.6 L425.6 313.6Z" fill="#49ff2d"/>
<path d="M381.5 316.1 L385.0 316.0 L381.8 318.5 L378.3 318.6Z" fill="#3fff4a"/>
<path d="M435.8 315.5 L439.0 317.9 L435.6 317.7 L432.3 315.4Z" fill="#2afd2c"/>
<path d="M398.4 310.5 L401.9 311.1 L398.5 312.6 L395.1 312.1Z" fill="#85ff3a"/>
<path d="M418.9 310.3 L422.2 311.8 L418.8 312.4 L415.4 310.9Z" fill="#82ff32"/>
<path d="M378.0 316.5 L381.5 316.1 L378.3 318.6 L374.8 319.0Z" fill="#3fff41"/>
<path d="M384.8 313.8 L388.3 313.8 L385.0 316.0 L381.5 316.1Z" fill="#5dff3d"/>
<path d="M391.6 311.9 L395.1 312.1 L391.8 314.0 L388.3 313.8Z" fill="#75ff3c"/>
<path d="M405.2 309.8 L408.7 310.7 L405.3 311.9 L401.9 311.1Z" fill="#8cff38"/>
<path d="M412.1 309.8 L415.4 310.9 L412.0 311.8 L408.7 310.7Z" fill="#8bff35"/>
<path d="M425.7 311.6 L429.0 313.4 L425.6 313.6 L422.2 311.8Z" fill="#70ff2f"/>
<path d="M432.5 313.4 L435.8 315.5 L432.3 315.4 L429.0 313.4Z" fill="#55ff2c"/>
<path d="M439.3 316.0 L442.5 318.3 L439.0 317.9 L435.8 315.5Z" fill="#2ff829"/>
<path d="M395.0 310.2 L398.4 310.5 L395.1 312.1 L391.6 311.9Z" fill="#94ff3a"/>
<path d="M401.8 309.2 L405.2 309.8 L401.9 311.1 L398.4 310.5Z" fill="#9fff39"/>
<path d="M415.5 309.1 L418.9 310.3 L415.4 310.9 L412.1 309.8Z" fill="#9eff33"/>
<path d="M422.3 310.0 L425.7 311.6 L422.2 311.8 L418.9 310.3Z" fill="#91ff30"/>
<path d="M374.5 317.1 L378.0 316.5 L374.8 319.0 L371.3 319.7Z" fill="#42ff3f"/>
<path d="M381.3 314.2 L384.8 313.8 L381.5 316.1 L378.0 316.5Z" fill="#66ff3d"/>
<path d="M388.1 311.9 L391.6 311.9 L388.3 313.8 L384.8 313.8Z" fill="#81ff3b"/>
<path d="M408.7 308.8 L412.1 309.8 L408.7 310.7 L405.2 309.8Z" fill="#a2ff36"/>
<path d="M429.2 311.6 L432.5 313.4 L429.0 313.4 L425.7 311.6Z" fill="#7cff2d"/>
<path d="M436.0 313.8 L439.3 316.0 L435.8 315.5 L432.5 313.4Z" fill="#5dff2a"/>
<path d="M442.8 316.7 L446.0 319.1 L442.5 318.3 L439.3 316.0Z" fill="#32f328"/>
<path d="M371.0 318.0 L374.5 317.1 L371.3 319.7 L367.7 320.7Z" fill="#43ff3f"/>
<path d="M377.8 314.7 L381.3 314.2 L378.0 316.5 L374.5 317.1Z" fill="#6bff3d"/>
<path d="M384.6 312.1 L388.1 311.9 L384.8 313.8 L381.3 314.2Z" fill="#89ff3b"/>
<path d="M391.5 310.2 L395.0 310.2 L391.6 311.9 L388.1 311.9Z" fill="#9fff39"/>
<path d="M398.3 308.8 L401.8 309.2 L398.4 310.5 L395.0 310.2Z" fill="#aeff38"/>
<path d="M405.2 308.2 L408.7 308.8 L405.2 309.8 L401.8 309.2Z" fill="#b6ff37"/>
<path d="M412.1 308.1 L415.5 309.1 L412.1 309.8 L408.7 308.8Z" fill="#b5ff35"/>
<path d="M419.0 308.8 L422.3 310.0 L418.9 310.3 L415.5 309.1Z" fill="#adff32"/>
<path d="M425.8 310.0 L429.2 311.6 L425.7 311.6 L422.3 310.0Z" fill="#9dff2f"/>
<path d="M432.7 312.0 L436.0 313.8 L432.5 313.4 L429.2 311.6Z" fill="#84ff2c"/>
<path d="M439.5 314.5 L442.8 316.7 L439.3 316.0 L436.0 313.8Z" fill="#61ff29"/>
<path d="M446.4 317.7 L449.6 320.2 L446.0 319.1 L442.8 316.7Z" fill="#31ee26"/>
<path d="M374.2 315.6 L377.8 314.7 L374.5 317.1 L371.0 318.0Z" fill="#6dff3d"/>
<path d="M381.1 312.7 L384.6 312.1 L381.3 314.2 L377.8 314.7Z" fill="#8fff3b"/>
<path d="M388.0 310.4 L391.5 310.2 L388.1 311.9 L384.6 312.1Z" fill="#a8ff39"/>
<path d="M408.7 307.4 L412.1 308.1 L408.7 308.8 L405.2 308.2Z" fill="#c8ff36"/>
<path d="M429.4 310.3 L432.7 312.0 L429.2 311.6 L425.8 310.0Z" fill="#a5ff2e"/>
<path d="M436.2 312.6 L439.5 314.5 L436.0 313.8 L432.7 312.0Z" fill="#88ff2b"/>
<path d="M443.1 315.5 L446.4 317.7 L442.8 316.7 L439.5 314.5Z" fill="#5ffa28"/>
<path d="M367.4 319.2 L371.0 318.0 L367.7 320.7 L364.2 321.9Z" fill="#42ff40"/>
<path d="M394.9 308.8 L398.3 308.8 L395.0 310.2 L391.5 310.2Z" fill="#baff38"/>
<path d="M401.8 307.8 L405.2 308.2 L401.8 309.2 L398.3 308.8Z" fill="#c5ff36"/>
<path d="M415.6 307.7 L419.0 308.8 L415.5 309.1 L412.1 308.1Z" fill="#c4ff33"/>
<path d="M422.5 308.7 L425.8 310.0 L422.3 310.0 L419.0 308.8Z" fill="#b9ff30"/>
<path d="M449.9 319.1 L453.2 321.6 L449.6 320.2 L446.4 317.7Z" fill="#2be825"/>
<path d="M377.5 313.5 L381.1 312.7 L377.8 314.7 L374.2 315.6Z" fill="#91ff3b"/>
<path d="M384.4 310.9 L388.0 310.4 L384.6 312.1 L381.1 312.7Z" fill="#aeff39"/>
<path d="M432.9 311.0 L436.2 312.6 L432.7 312.0 L429.4 310.3Z" fill="#a9ff2c"/>
<path d="M439.8 313.6 L443.1 315.5 L439.5 314.5 L436.2 312.6Z" fill="#88ff2a"/>
<path d="M370.6 316.8 L374.2 315.6 L371.0 318.0 L367.4 319.2Z" fill="#6bff3e"/>
<path d="M391.3 309.0 L394.9 308.8 L391.5 310.2 L388.0 310.4Z" fill="#c3ff37"/>
<path d="M405.2 307.0 L408.7 307.4 L405.2 308.2 L401.8 307.8Z" fill="#d7ff35"/>
<path d="M412.1 307.0 L415.6 307.7 L412.1 308.1 L408.7 307.4Z" fill="#d7ff35"/>
<path d="M426.0 309.0 L429.4 310.3 L425.8 310.0 L422.5 308.7Z" fill="#c1ff2f"/>
<path d="M446.7 316.8 L449.9 319.1 L446.4 317.7 L443.1 315.5Z" fill="#59f427"/>
<path d="M363.8 320.7 L367.4 319.2 L364.2 321.9 L360.6 323.4Z" fill="#40ff44"/>
<path d="M398.3 307.6 L401.8 307.8 L398.3 308.8 L394.9 308.8Z" fill="#d0ff36"/>
<path d="M419.1 307.7 L422.5 308.7 L419.0 308.8 L415.6 307.7Z" fill="#d0ff32"/>
<path d="M453.5 320.8 L456.7 323.3 L453.2 321.6 L449.9 319.1Z" fill="#24e226"/>
<path d="M380.9 311.7 L384.4 310.9 L381.1 312.7 L377.5 313.5Z" fill="#b0ff39"/>
<path d="M436.5 311.9 L439.8 313.6 L436.2 312.6 L432.9 311.0Z" fill="#aaff2b"/>
<path d="M373.9 314.6 L377.5 313.5 L374.2 315.6 L370.6 316.8Z" fill="#90ff3b"/>
<path d="M387.8 309.4 L391.3 309.0 L388.0 310.4 L384.4 310.9Z" fill="#c8ff37"/>
<path d="M429.5 309.6 L432.9 311.0 L429.4 310.3 L426.0 309.0Z" fill="#c5ff2e"/>
<path d="M443.4 314.9 L446.7 316.8 L443.1 315.5 L439.8 313.6Z" fill="#85ff29"/>
<path d="M360.2 322.4 L363.8 320.7 L360.6 323.4 L357.0 325.2Z" fill="#41ff4d"/>
<path d="M367.0 318.2 L370.6 316.8 L367.4 319.2 L363.8 320.7Z" fill="#67ff3e"/>
<path d="M394.7 307.8 L398.3 307.6 L394.9 308.8 L391.3 309.0Z" fill="#d9ff35"/>
<path d="M401.7 306.8 L405.2 307.0 L401.8 307.8 L398.3 307.6Z" fill="#e4ff34"/>
<path d="M408.7 306.5 L412.1 307.0 L408.7 307.4 L405.2 307.0Z" fill="#e7ff34"/>
<path d="M415.6 306.9 L419.1 307.7 L415.6 307.7 L412.1 307.0Z" fill="#e3ff33"/>
<path d="M422.6 307.9 L426.0 309.0 L422.5 308.7 L419.1 307.7Z" fill="#d8ff31"/>
<path d="M450.3 318.5 L453.5 320.8 L449.9 319.1 L446.7 316.8Z" fill="#4fee26"/>
<path d="M457.1 322.7 L460.3 325.3 L456.7 323.3 L453.5 320.8Z" fill="#23dc31"/>
<path d="M377.3 312.8 L380.9 311.7 L377.5 313.5 L373.9 314.6Z" fill="#b0ff39"/>
<path d="M384.2 310.2 L387.8 309.4 L384.4 310.9 L380.9 311.7Z" fill="#cbff37"/>
<path d="M433.1 310.4 L436.5 311.9 L432.9 311.0 L429.5 309.6Z" fill="#c7ff2d"/>
<path d="M440.0 313.1 L443.4 314.9 L439.8 313.6 L436.5 311.9Z" fill="#a7ff2a"/>
<path d="M356.6 324.5 L360.2 322.4 L357.0 325.2 L353.4 327.3Z" fill="#41ff5b"/>
<path d="M363.4 319.9 L367.0 318.2 L363.8 320.7 L360.2 322.4Z" fill="#5fff3f"/>
<path d="M370.3 316.0 L373.9 314.6 L370.6 316.8 L367.0 318.2Z" fill="#8cff3c"/>
<path d="M391.2 308.2 L394.7 307.8 L391.3 309.0 L387.8 309.4Z" fill="#dfff35"/>
<path d="M398.2 307.0 L401.7 306.8 L398.3 307.6 L394.7 307.8Z" fill="#edff34"/>
<path d="M419.1 307.1 L422.6 307.9 L419.1 307.7 L415.6 306.9Z" fill="#ecff32"/>
<path d="M426.1 308.4 L429.5 309.6 L426.0 309.0 L422.6 307.9Z" fill="#ddff2f"/>
<path d="M447.0 316.4 L450.3 318.5 L446.7 316.8 L443.4 314.9Z" fill="#7bfa28"/>
<path d="M453.9 320.4 L457.1 322.7 L453.5 320.8 L450.3 318.5Z" fill="#42e825"/>
<path d="M460.8 325.0 L464.0 327.6 L460.3 325.3 L457.1 322.7Z" fill="#22d53e"/>
<path d="M405.2 306.3 L408.7 306.5 L405.2 307.0 L401.7 306.8Z" fill="#f3ff33"/>
<path d="M412.2 306.4 L415.6 306.9 L412.1 307.0 L408.7 306.5Z" fill="#f3ff33"/>
<path d="M359.8 321.9 L363.4 319.9 L360.2 322.4 L356.6 324.5Z" fill="#54ff3f"/>
<path d="M366.7 317.7 L370.3 316.0 L367.0 318.2 L363.4 319.9Z" fill="#85ff3c"/>
<path d="M373.7 314.1 L377.3 312.8 L373.9 314.6 L370.3 316.0Z" fill="#acff3a"/>
<path d="M380.6 311.2 L384.2 310.2 L380.9 311.7 L377.3 312.8Z" fill="#cbff37"/>
<path d="M387.6 309.0 L391.2 308.2 L387.8 309.4 L384.2 310.2Z" fill="#e2ff35"/>
<path d="M394.6 307.4 L398.2 307.0 L394.7 307.8 L391.2 308.2Z" fill="#f3ff33"/>
<path d="M422.7 307.6 L426.1 308.4 L422.6 307.9 L419.1 307.1Z" fill="#f1ff31"/>
<path d="M429.7 309.3 L433.1 310.4 L429.5 309.6 L426.1 308.4Z" fill="#dfff2e"/>
<path d="M436.7 311.7 L440.0 313.1 L436.5 311.9 L433.1 310.4Z" fill="#c5ff2c"/>
<path d="M443.6 314.7 L447.0 316.4 L443.4 314.9 L440.0 313.1Z" fill="#a1ff29"/>
<path d="M450.6 318.4 L453.9 320.4 L450.3 318.5 L447.0 316.4Z" fill="#6df427"/>
<path d="M457.5 322.7 L460.8 325.0 L457.1 322.7 L453.9 320.4Z" fill="#32e124"/>
<path d="M401.6 306.4 L405.2 306.3 L401.7 306.8 L398.2 307.0Z" fill="#fdff32"/>
<path d="M415.7 306.5 L419.1 307.1 L415.6 306.9 L412.2 306.4Z" fill="#fcff32"/>
<path d="M352.9 326.8 L356.6 324.5 L353.4 327.3 L349.7 329.7Z" fill="#42ff6c"/>
<path d="M408.7 306.1 L412.2 306.4 L408.7 306.5 L405.2 306.3Z" fill="#fffe32"/>
<path d="M464.4 327.7 L467.6 330.3 L464.0 327.6 L460.8 325.0Z" fill="#21cf4e"/>
<path d="M363.1 319.7 L366.7 317.7 L363.4 319.9 L359.8 321.9Z" fill="#7bff3d"/>
<path d="M370.0 315.8 L373.7 314.1 L370.3 316.0 L366.7 317.7Z" fill="#a6ff3a"/>
<path d="M391.1 308.0 L394.6 307.4 L391.2 308.2 L387.6 309.0Z" fill="#f7ff33"/>
<path d="M426.3 308.4 L429.7 309.3 L426.1 308.4 L422.7 307.6Z" fill="#f4ff30"/>
<path d="M447.3 316.6 L450.6 318.4 L447.0 316.4 L443.6 314.7Z" fill="#96ff28"/>
<path d="M454.2 320.6 L457.5 322.7 L453.9 320.4 L450.6 318.4Z" fill="#5ced26"/>
<path d="M377.0 312.5 L380.6 311.2 L377.3 312.8 L373.7 314.1Z" fill="#c8ff38"/>
<path d="M384.0 310.0 L387.6 309.0 L384.2 310.2 L380.6 311.2Z" fill="#e3ff35"/>
<path d="M398.1 306.8 L401.6 306.4 L398.2 307.0 L394.6 307.4Z" fill="#fffa32"/>
<path d="M419.2 307.0 L422.7 307.6 L419.1 307.1 L415.7 306.5Z" fill="#fffc32"/>
<path d="M433.3 310.5 L436.7 311.7 L433.1 310.4 L429.7 309.3Z" fill="#ddff2d"/>
<path d="M440.3 313.2 L443.6 314.7 L440.0 313.1 L436.7 311.7Z" fill="#bfff2b"/>
<path d="M349.2 329.4 L352.9 326.8 L349.7 329.7 L346.1 332.3Z" fill="#43ff80"/>
<path d="M356.1 324.2 L359.8 321.9 L356.6 324.5 L352.9 326.8Z" fill="#45ff40"/>
<path d="M405.1 306.2 L408.7 306.1 L405.2 306.3 L401.6 306.4Z" fill="#fff431"/>
<path d="M412.2 306.2 L415.7 306.5 L412.2 306.4 L408.7 306.1Z" fill="#fff531"/>
<path d="M461.2 325.3 L464.4 327.7 L460.8 325.0 L457.5 322.7Z" fill="#23da28"/>
<path d="M468.1 330.6 L471.2 333.3 L467.6 330.3 L464.4 327.7Z" fill="#20c860"/>
<path d="M366.4 317.7 L370.0 315.8 L366.7 317.7 L363.1 319.7Z" fill="#9cff3b"/>
<path d="M450.9 318.8 L454.2 320.6 L450.6 318.4 L447.3 316.6Z" fill="#85f927"/>
<path d="M373.4 314.2 L377.0 312.5 L373.7 314.1 L370.0 315.8Z" fill="#c2ff38"/>
<path d="M387.5 309.0 L391.1 308.0 L387.6 309.0 L384.0 310.0Z" fill="#f7ff34"/>
<path d="M394.5 307.4 L398.1 306.8 L394.6 307.4 L391.1 308.0Z" fill="#fff732"/>
<path d="M422.8 307.8 L426.3 308.4 L422.7 307.6 L419.2 307.0Z" fill="#fff931"/>
<path d="M429.9 309.5 L433.3 310.5 L429.7 309.3 L426.3 308.4Z" fill="#f2ff2f"/>
<path d="M443.9 315.0 L447.3 316.6 L443.6 314.7 L440.3 313.2Z" fill="#b5ff2a"/>
<path d="M345.6 332.3 L349.2 329.4 L346.1 332.3 L342.4 335.3Z" fill="#44ff97"/>
<path d="M352.5 326.8 L356.1 324.2 L352.9 326.8 L349.2 329.4Z" fill="#41ff4f"/>
<path d="M359.4 322.0 L363.1 319.7 L359.8 321.9 L356.1 324.2Z" fill="#6dff3e"/>
<path d="M380.4 311.2 L384.0 310.0 L380.6 311.2 L377.0 312.5Z" fill="#e0ff36"/>
<path d="M401.6 306.5 L405.1 306.2 L401.6 306.4 L398.1 306.8Z" fill="#ffed31"/>
<path d="M408.7 306.3 L412.2 306.2 L408.7 306.1 L405.1 306.2Z" fill="#ffea30"/>
<path d="M415.7 306.7 L419.2 307.0 L415.7 306.5 L412.2 306.2Z" fill="#ffee31"/>
<path d="M436.9 311.9 L440.3 313.2 L436.7 311.7 L433.3 310.5Z" fill="#d8ff2c"/>
<path d="M457.9 323.2 L461.2 325.3 L457.5 322.7 L454.2 320.6Z" fill="#48e625"/>
<path d="M464.8 328.2 L468.1 330.6 L464.4 327.7 L461.2 325.3Z" fill="#22d33c"/>
<path d="M471.7 333.9 L474.9 336.6 L471.2 333.3 L468.1 330.6Z" fill="#1fc174"/>
<path d="M362.7 320.0 L366.4 317.7 L363.1 319.7 L359.4 322.0Z" fill="#8fff3c"/>
<path d="M369.7 316.1 L373.4 314.2 L370.0 315.8 L366.4 317.7Z" fill="#b9ff39"/>
<path d="M447.6 317.2 L450.9 318.8 L447.3 316.6 L443.9 315.0Z" fill="#a8ff29"/>
<path d="M454.6 321.3 L457.9 323.2 L454.2 320.6 L450.9 318.8Z" fill="#70f226"/>
<path d="M348.8 329.7 L352.5 326.8 L349.2 329.4 L345.6 332.3Z" fill="#42ff67"/>
<path d="M355.7 324.5 L359.4 322.0 L356.1 324.2 L352.5 326.8Z" fill="#5cff3f"/>
<path d="M376.8 312.8 L380.4 311.2 L377.0 312.5 L373.4 314.2Z" fill="#dbff36"/>
<path d="M383.8 310.3 L387.5 309.0 L384.0 310.0 L380.4 311.2Z" fill="#f5ff34"/>
<path d="M390.9 308.3 L394.5 307.4 L391.1 308.0 L387.5 309.0Z" fill="#fff632"/>
<path d="M398.0 307.1 L401.6 306.5 L398.1 306.8 L394.5 307.4Z" fill="#ffe930"/>
<path d="M405.1 306.5 L408.7 306.3 L405.1 306.2 L401.6 306.5Z" fill="#ffe330"/>
<path d="M412.2 306.6 L415.7 306.7 L412.2 306.2 L408.7 306.3Z" fill="#ffe430"/>
<path d="M419.3 307.4 L422.8 307.8 L419.2 307.0 L415.7 306.7Z" fill="#ffeb31"/>
<path d="M426.4 308.9 L429.9 309.5 L426.3 308.4 L422.8 307.8Z" fill="#fffa30"/>
<path d="M433.5 311.0 L436.9 311.9 L433.3 310.5 L429.9 309.5Z" fill="#eeff2e"/>
<path d="M440.5 313.8 L443.9 315.0 L440.3 313.2 L436.9 311.9Z" fill="#d0ff2b"/>
<path d="M461.6 326.1 L464.8 328.2 L461.2 325.3 L457.9 323.2Z" fill="#30df24"/>
<path d="M468.5 331.5 L471.7 333.9 L468.1 330.6 L464.8 328.2Z" fill="#21cc53"/>
<path d="M341.9 335.6 L345.6 332.3 L342.4 335.3 L338.7 338.5Z" fill="#45ffb1"/>
<path d="M475.4 337.5 L478.6 340.2 L474.9 336.6 L471.7 333.9Z" fill="#1eba88"/>
<path d="M352.0 327.4 L355.7 324.5 L352.5 326.8 L348.8 329.7Z" fill="#47ff40"/>
<path d="M359.0 322.5 L362.7 320.0 L359.4 322.0 L355.7 324.5Z" fill="#7fff3d"/>
<path d="M380.2 311.8 L383.8 310.3 L380.4 311.2 L376.8 312.8Z" fill="#f0ff35"/>
<path d="M401.5 307.1 L405.1 306.5 L401.6 306.5 L398.0 307.1Z" fill="#ffde2f"/>
<path d="M408.7 306.9 L412.2 306.6 L408.7 306.3 L405.1 306.5Z" fill="#ffdc2f"/>
<path d="M415.8 307.4 L419.3 307.4 L415.7 306.7 L412.2 306.6Z" fill="#ffe030"/>
<path d="M437.1 312.8 L440.5 313.8 L436.9 311.9 L433.5 311.0Z" fill="#e6ff2d"/>
<path d="M458.3 324.2 L461.6 326.1 L457.9 323.2 L454.6 321.3Z" fill="#57ea25"/>
<path d="M465.3 329.3 L468.5 331.5 L464.8 328.2 L461.6 326.1Z" fill="#23d730"/>
<path d="M345.1 332.9 L348.8 329.7 L345.6 332.3 L341.9 335.6Z" fill="#43ff82"/>
<path d="M366.0 318.3 L369.7 316.1 L366.4 317.7 L362.7 320.0Z" fill="#adff3a"/>
<path d="M373.1 314.7 L376.8 312.8 L373.4 314.2 L369.7 316.1Z" fill="#d2ff37"/>
<path d="M444.2 315.9 L447.6 317.2 L443.9 315.0 L440.5 313.8Z" fill="#c4ff2b"/>
<path d="M451.3 319.7 L454.6 321.3 L450.9 318.8 L447.6 317.2Z" fill="#96fe28"/>
<path d="M472.2 335.0 L475.4 337.5 L471.7 333.9 L468.5 331.5Z" fill="#20c56b"/>
<path d="M338.1 339.1 L341.9 335.6 L338.7 338.5 L335.0 342.0Z" fill="#46ffcb"/>
<path d="M387.3 309.6 L390.9 308.3 L387.5 309.0 L383.8 310.3Z" fill="#fff832"/>
<path d="M394.4 308.0 L398.0 307.1 L394.5 307.4 L390.9 308.3Z" fill="#ffe730"/>
<path d="M422.9 308.5 L426.4 308.9 L422.8 307.8 L419.3 307.4Z" fill="#ffec31"/>
<path d="M430.0 310.3 L433.5 311.0 L429.9 309.5 L426.4 308.9Z" fill="#fffe2f"/>
<path d="M479.1 341.4 L482.3 344.1 L478.6 340.2 L475.4 337.5Z" fill="#1db49a"/>
<path d="M355.3 325.3 L359.0 322.5 L355.7 324.5 L352.0 327.4Z" fill="#6cff3e"/>
<path d="M405.1 307.4 L408.7 306.9 L405.1 306.5 L401.5 307.1Z" fill="#ffd72f"/>
<path d="M412.2 307.6 L415.8 307.4 L412.2 306.6 L408.7 306.9Z" fill="#ffd82f"/>
<path d="M462.0 327.4 L465.3 329.3 L461.6 326.1 L458.3 324.2Z" fill="#3ce324"/>
<path d="M348.3 330.5 L352.0 327.4 L348.8 329.7 L345.1 332.9Z" fill="#41ff55"/>
<path d="M376.5 313.6 L380.2 311.8 L376.8 312.8 L373.1 314.7Z" fill="#e8ff35"/>
<path d="M440.8 314.9 L444.2 315.9 L440.5 313.8 L437.1 312.8Z" fill="#dbff2c"/>
<path d="M469.0 332.8 L472.2 335.0 L468.5 331.5 L465.3 329.3Z" fill="#22d04b"/>
<path d="M341.3 336.4 L345.1 332.9 L341.9 335.6 L338.1 339.1Z" fill="#45ffa0"/>
<path d="M362.3 320.8 L366.0 318.3 L362.7 320.0 L359.0 322.5Z" fill="#9eff3b"/>
<path d="M383.6 311.1 L387.3 309.6 L383.8 310.3 L380.2 311.8Z" fill="#fffc33"/>
<path d="M397.9 308.0 L401.5 307.1 L398.0 307.1 L394.4 308.0Z" fill="#ffdc2f"/>
<path d="M419.4 308.4 L422.9 308.5 L419.3 307.4 L415.8 307.4Z" fill="#ffe030"/>
<path d="M433.7 312.0 L437.1 312.8 L433.5 311.0 L430.0 310.3Z" fill="#f9ff2e"/>
<path d="M454.9 322.5 L458.3 324.2 L454.6 321.3 L451.3 319.7Z" fill="#7df627"/>
<path d="M475.9 338.9 L479.1 341.4 L475.4 337.5 L472.2 335.0Z" fill="#1fbe83"/>
<path d="M369.4 316.9 L373.1 314.7 L369.7 316.1 L366.0 318.3Z" fill="#c7ff38"/>
<path d="M447.9 318.4 L451.3 319.7 L447.6 317.2 L444.2 315.9Z" fill="#b4ff2a"/>
<path d="M334.4 342.9 L338.1 339.1 L335.0 342.0 L331.3 345.9Z" fill="#47ffe6"/>
<path d="M390.8 309.2 L394.4 308.0 L390.9 308.3 L387.3 309.6Z" fill="#ffe931"/>
<path d="M426.5 309.9 L430.0 310.3 L426.4 308.9 L422.9 308.5Z" fill="#ffef30"/>
<path d="M482.8 345.7 L486.0 348.4 L482.3 344.1 L479.1 341.4Z" fill="#1badaa"/>
<path d="M408.7 308.1 L412.2 307.6 L408.7 306.9 L405.1 307.4Z" fill="#ffd32e"/>
<path d="M351.6 328.5 L355.3 325.3 L352.0 327.4 L348.3 330.5Z" fill="#54ff40"/>
<path d="M465.7 330.9 L469.0 332.8 L465.3 329.3 L462.0 327.4Z" fill="#23db29"/>
<path d="M344.6 334.0 L348.3 330.5 L345.1 332.9 L341.3 336.4Z" fill="#43ff73"/>
<path d="M358.6 323.6 L362.3 320.8 L359.0 322.5 L355.3 325.3Z" fill="#8cff3c"/>
<path d="M401.5 308.3 L405.1 307.4 L401.5 307.1 L397.9 308.0Z" fill="#ffd52f"/>
<path d="M415.8 308.6 L419.4 308.4 L415.8 307.4 L412.2 307.6Z" fill="#ffd72f"/>
<path d="M458.7 325.7 L462.0 327.4 L458.3 324.2 L454.9 322.5Z" fill="#61ee26"/>
<path d="M472.7 336.7 L475.9 338.9 L472.2 335.0 L469.0 332.8Z" fill="#21c967"/>
<path d="M372.8 315.8 L376.5 313.6 L373.1 314.7 L369.4 316.9Z" fill="#ddff36"/>
<path d="M380.0 312.9 L383.6 311.1 L380.2 311.8 L376.5 313.6Z" fill="#faff34"/>
<path d="M437.3 314.1 L440.8 314.9 L437.1 312.8 L433.7 312.0Z" fill="#eeff2e"/>
<path d="M444.5 317.3 L447.9 318.4 L444.2 315.9 L440.8 314.9Z" fill="#ccff2b"/>
<path d="M330.7 347.0 L334.4 342.9 L331.3 345.9 L327.5 350.0Z" fill="#47ffff"/>
<path d="M337.6 340.2 L341.3 336.4 L338.1 339.1 L334.4 342.9Z" fill="#46ffbe"/>
<path d="M365.7 319.3 L369.4 316.9 L366.0 318.3 L362.3 320.8Z" fill="#b8ff39"/>
<path d="M387.1 310.7 L390.8 309.2 L387.3 309.6 L383.6 311.1Z" fill="#ffee31"/>
<path d="M394.3 309.1 L397.9 308.0 L394.4 308.0 L390.8 309.2Z" fill="#ffde30"/>
<path d="M423.0 309.7 L426.5 309.9 L422.9 308.5 L419.4 308.4Z" fill="#ffe330"/>
<path d="M430.2 311.6 L433.7 312.0 L430.0 310.3 L426.5 309.9Z" fill="#fff630"/>
<path d="M451.6 321.2 L454.9 322.5 L451.3 319.7 L447.9 318.4Z" fill="#9fff29"/>
<path d="M479.6 343.2 L482.8 345.7 L479.1 341.4 L475.9 338.9Z" fill="#1db799"/>
<path d="M486.6 350.3 L489.7 353.0 L486.0 348.4 L482.8 345.7Z" fill="#1994a4"/>
<path d="M347.8 331.9 L351.6 328.5 L348.3 330.5 L344.6 334.0Z" fill="#41ff49"/>
<path d="M405.1 308.9 L408.7 308.1 L405.1 307.4 L401.5 308.3Z" fill="#ffd02e"/>
<path d="M412.3 309.1 L415.8 308.6 L412.2 307.6 L408.7 308.1Z" fill="#ffd22e"/>
<path d="M469.4 334.7 L472.7 336.7 L469.0 332.8 L465.7 330.9Z" fill="#22d448"/>
<path d="M354.9 326.7 L358.6 323.6 L355.3 325.3 L351.6 328.5Z" fill="#75ff3e"/>
<path d="M462.4 329.2 L465.7 330.9 L462.0 327.4 L458.7 325.7Z" fill="#42e625"/>
<path d="M333.8 344.2 L337.6 340.2 L334.4 342.9 L330.7 347.0Z" fill="#47ffdd"/>
<path d="M340.8 337.7 L344.6 334.0 L341.3 336.4 L337.6 340.2Z" fill="#44ff94"/>
<path d="M362.0 322.1 L365.7 319.3 L362.3 320.8 L358.6 323.6Z" fill="#a7ff3b"/>
<path d="M369.1 318.2 L372.8 315.8 L369.4 316.9 L365.7 319.3Z" fill="#cfff38"/>
<path d="M390.6 310.6 L394.3 309.1 L390.8 309.2 L387.1 310.7Z" fill="#ffe230"/>
<path d="M397.8 309.4 L401.5 308.3 L397.9 308.0 L394.3 309.1Z" fill="#ffd52f"/>
<path d="M419.5 309.9 L423.0 309.7 L419.4 308.4 L415.8 308.6Z" fill="#ffda2f"/>
<path d="M426.7 311.4 L430.2 311.6 L426.5 309.9 L423.0 309.7Z" fill="#ffea31"/>
<path d="M448.2 320.1 L451.6 321.2 L447.9 318.4 L444.5 317.3Z" fill="#b9ff2b"/>
<path d="M455.3 324.3 L458.7 325.7 L454.9 322.5 L451.6 321.2Z" fill="#84fa28"/>
<path d="M476.4 340.9 L479.6 343.2 L475.9 338.9 L472.7 336.7Z" fill="#1fc282"/>
<path d="M483.4 347.7 L486.6 350.3 L482.8 345.7 L479.6 343.2Z" fill="#1cb1ab"/>
<path d="M376.3 315.0 L380.0 312.9 L376.5 313.6 L372.8 315.8Z" fill="#efff35"/>
<path d="M383.4 312.5 L387.1 310.7 L383.6 311.1 L380.0 312.9Z" fill="#fff532"/>
<path d="M433.9 313.7 L437.3 314.1 L433.7 312.0 L430.2 311.6Z" fill="#feff2f"/>
<path d="M441.0 316.5 L444.5 317.3 L440.8 314.9 L437.3 314.1Z" fill="#e0ff2d"/>
<path d="M326.9 351.4 L330.7 347.0 L327.5 350.0 L323.8 354.4Z" fill="#45e4f9"/>
<path d="M490.3 355.2 L493.4 358.0 L489.7 353.0 L486.6 350.3Z" fill="#167a99"/>
<path d="M337.0 341.8 L340.8 337.7 L337.6 340.2 L333.8 344.2Z" fill="#45ffb7"/>
<path d="M344.1 335.6 L347.8 331.9 L344.6 334.0 L340.8 337.7Z" fill="#42ff6b"/>
<path d="M351.1 330.1 L354.9 326.7 L351.6 328.5 L347.8 331.9Z" fill="#5bff3f"/>
<path d="M365.4 321.0 L369.1 318.2 L365.7 319.3 L362.0 322.1Z" fill="#beff39"/>
<path d="M394.2 310.8 L397.8 309.4 L394.3 309.1 L390.6 310.6Z" fill="#ffd92f"/>
<path d="M401.4 310.0 L405.1 308.9 L401.5 308.3 L397.8 309.4Z" fill="#ffd02e"/>
<path d="M408.7 309.8 L412.3 309.1 L408.7 308.1 L405.1 308.9Z" fill="#ffcf2e"/>
<path d="M415.9 310.4 L419.5 309.9 L415.8 308.6 L412.3 309.1Z" fill="#ffd42f"/>
<path d="M423.1 311.6 L426.7 311.4 L423.0 309.7 L419.5 309.9Z" fill="#ffe030"/>
<path d="M451.9 323.2 L455.3 324.3 L451.6 321.2 L448.2 320.1Z" fill="#a2ff2a"/>
<path d="M466.1 333.0 L469.4 334.7 L465.7 330.9 L462.4 329.2Z" fill="#24de29"/>
<path d="M473.2 338.9 L476.4 340.9 L472.7 336.7 L469.4 334.7Z" fill="#21cc68"/>
<path d="M480.2 345.5 L483.4 347.7 L479.6 343.2 L476.4 340.9Z" fill="#1ebb9b"/>
<path d="M358.2 325.2 L362.0 322.1 L358.6 323.6 L354.9 326.7Z" fill="#92ff3c"/>
<path d="M387.0 312.3 L390.6 310.6 L387.1 310.7 L383.4 312.5Z" fill="#ffe931"/>
<path d="M430.4 313.5 L433.9 313.7 L430.2 311.6 L426.7 311.4Z" fill="#fff330"/>
<path d="M459.0 327.8 L462.4 329.2 L458.7 325.7 L455.3 324.3Z" fill="#64f227"/>
<path d="M323.2 356.1 L326.9 351.4 L323.8 354.4 L320.0 359.1Z" fill="#42c9f3"/>
<path d="M330.1 348.6 L333.8 344.2 L330.7 347.0 L326.9 351.4Z" fill="#47fff9"/>
<path d="M372.6 317.4 L376.3 315.0 L372.8 315.8 L369.1 318.2Z" fill="#e2ff36"/>
<path d="M444.7 319.3 L448.2 320.1 L444.5 317.3 L441.0 316.5Z" fill="#ceff2c"/>
<path d="M487.1 352.6 L490.3 355.2 L486.6 350.3 L483.4 347.7Z" fill="#1a97a7"/>
<path d="M494.0 360.5 L497.1 363.3 L493.4 358.0 L490.3 355.2Z" fill="#14628e"/>
<path d="M379.7 314.5 L383.4 312.5 L380.0 312.9 L376.3 315.0Z" fill="#ffff33"/>
<path d="M437.6 316.0 L441.0 316.5 L437.3 314.1 L433.9 313.7Z" fill="#f1ff2e"/>
<path d="M340.3 339.6 L344.1 335.6 L340.8 337.7 L337.0 341.8Z" fill="#44ff8f"/>
<path d="M397.8 311.4 L401.4 310.0 L397.8 309.4 L394.2 310.8Z" fill="#ffd42f"/>
<path d="M419.6 312.0 L423.1 311.6 L419.5 309.9 L415.9 310.4Z" fill="#ffda2f"/>
<path d="M476.9 343.5 L480.2 345.5 L476.4 340.9 L473.2 338.9Z" fill="#20c586"/>
<path d="M361.6 324.0 L365.4 321.0 L362.0 322.1 L358.2 325.2Z" fill="#aaff3a"/>
<path d="M390.5 312.5 L394.2 310.8 L390.6 310.6 L387.0 312.3Z" fill="#ffe030"/>
<path d="M426.8 313.6 L430.4 313.5 L426.7 311.4 L423.1 311.6Z" fill="#ffe931"/>
<path d="M455.6 326.7 L459.0 327.8 L455.3 324.3 L451.9 323.2Z" fill="#85fd29"/>
<path d="M326.3 353.3 L330.1 348.6 L326.9 351.4 L323.2 356.1Z" fill="#45e8fb"/>
<path d="M333.3 346.2 L337.0 341.8 L333.8 344.2 L330.1 348.6Z" fill="#47ffd8"/>
<path d="M347.4 333.8 L351.1 330.1 L347.8 331.9 L344.1 335.6Z" fill="#41ff44"/>
<path d="M354.5 328.6 L358.2 325.2 L354.9 326.7 L351.1 330.1Z" fill="#79ff3d"/>
<path d="M368.8 320.1 L372.6 317.4 L369.1 318.2 L365.4 321.0Z" fill="#d2ff37"/>
<path d="M405.0 310.9 L408.7 309.8 L405.1 308.9 L401.4 310.0Z" fill="#ffcf2e"/>
<path d="M412.3 311.1 L415.9 310.4 L412.3 309.1 L408.7 309.8Z" fill="#ffd12e"/>
<path d="M448.5 322.4 L451.9 323.2 L448.2 320.1 L444.7 319.3Z" fill="#b9ff2b"/>
<path d="M462.8 331.6 L466.1 333.0 L462.4 329.2 L459.0 327.8Z" fill="#41e926"/>
<path d="M469.9 337.2 L473.2 338.9 L469.4 334.7 L466.1 333.0Z" fill="#23d74b"/>
<path d="M483.9 350.4 L487.1 352.6 L483.4 347.7 L480.2 345.5Z" fill="#1db4b0"/>
<path d="M490.9 357.9 L494.0 360.5 L490.3 355.2 L487.1 352.6Z" fill="#177b9b"/>
<path d="M383.3 314.4 L387.0 312.3 L383.4 312.5 L379.7 314.5Z" fill="#fff332"/>
<path d="M434.0 315.8 L437.6 316.0 L433.9 313.7 L430.4 313.5Z" fill="#feff30"/>
<path d="M319.4 361.1 L323.2 356.1 L320.0 359.1 L316.3 364.2Z" fill="#3fafec"/>
<path d="M376.0 316.9 L379.7 314.5 L376.3 315.0 L372.6 317.4Z" fill="#f2ff34"/>
<path d="M441.3 318.8 L444.7 319.3 L441.0 316.5 L437.6 316.0Z" fill="#e0ff2e"/>
<path d="M497.8 366.0 L500.9 368.9 L497.1 363.3 L494.0 360.5Z" fill="#114a84"/>
<path d="M394.1 313.1 L397.8 311.4 L394.2 310.8 L390.5 312.5Z" fill="#ffda2f"/>
<path d="M423.2 313.9 L426.8 313.6 L423.1 311.6 L419.6 312.0Z" fill="#ffe230"/>
<path d="M329.5 350.8 L333.3 346.2 L330.1 348.6 L326.3 353.3Z" fill="#47fff7"/>
<path d="M336.5 344.0 L340.3 339.6 L337.0 341.8 L333.3 346.2Z" fill="#45ffb5"/>
<path d="M343.6 337.8 L347.4 333.8 L344.1 335.6 L340.3 339.6Z" fill="#42ff69"/>
<path d="M357.9 327.4 L361.6 324.0 L358.2 325.2 L354.5 328.6Z" fill="#93ff3c"/>
<path d="M401.4 312.2 L405.0 310.9 L401.4 310.0 L397.8 311.4Z" fill="#ffd22e"/>
<path d="M416.0 312.7 L419.6 312.0 L415.9 310.4 L412.3 311.1Z" fill="#ffd62f"/>
<path d="M459.4 330.4 L462.8 331.6 L459.0 327.8 L455.6 326.7Z" fill="#61f528"/>
<path d="M473.6 341.7 L476.9 343.5 L473.2 338.9 L469.9 337.2Z" fill="#22cf6e"/>
<path d="M480.7 348.3 L483.9 350.4 L480.2 345.5 L476.9 343.5Z" fill="#1fbea2"/>
<path d="M487.7 355.6 L490.9 357.9 L487.1 352.6 L483.9 350.4Z" fill="#1a96a8"/>
<path d="M365.1 323.1 L368.8 320.1 L365.4 321.0 L361.6 324.0Z" fill="#beff39"/>
<path d="M386.8 314.6 L390.5 312.5 L387.0 312.3 L383.3 314.4Z" fill="#ffe931"/>
<path d="M430.5 315.9 L434.0 315.8 L430.4 313.5 L426.8 313.6Z" fill="#fff631"/>
<path d="M452.2 325.8 L455.6 326.7 L451.9 323.2 L448.5 322.4Z" fill="#9eff2b"/>
<path d="M322.5 358.3 L326.3 353.3 L323.2 356.1 L319.4 361.1Z" fill="#42cbf4"/>
<path d="M350.7 332.2 L354.5 328.6 L351.1 330.1 L347.4 333.8Z" fill="#5dff3f"/>
<path d="M372.3 319.6 L376.0 316.9 L372.6 317.4 L368.8 320.1Z" fill="#e2ff36"/>
<path d="M379.5 316.7 L383.3 314.4 L379.7 314.5 L376.0 316.9Z" fill="#ffff33"/>
<path d="M408.7 312.1 L412.3 311.1 L408.7 309.8 L405.0 310.9Z" fill="#ffd02e"/>
<path d="M437.8 318.5 L441.3 318.8 L437.6 316.0 L434.0 315.8Z" fill="#eeff2f"/>
<path d="M445.0 321.8 L448.5 322.4 L444.7 319.3 L441.3 318.8Z" fill="#cbff2d"/>
<path d="M466.5 335.8 L469.9 337.2 L466.1 333.0 L462.8 331.6Z" fill="#25e12f"/>
<path d="M494.6 363.5 L497.8 366.0 L494.0 360.5 L490.9 357.9Z" fill="#146190"/>
<path d="M332.7 348.6 L336.5 344.0 L333.3 346.2 L329.5 350.8Z" fill="#47ffd9"/>
<path d="M484.5 353.5 L487.7 355.6 L483.9 350.4 L480.7 348.3Z" fill="#1eb5b6"/>
<path d="M390.4 315.0 L394.1 313.1 L390.5 312.5 L386.8 314.6Z" fill="#ffe330"/>
<path d="M397.7 313.9 L401.4 312.2 L397.8 311.4 L394.1 313.1Z" fill="#ffd82f"/>
<path d="M419.6 314.6 L423.2 313.9 L419.6 312.0 L416.0 312.7Z" fill="#ffde30"/>
<path d="M426.9 316.2 L430.5 315.9 L426.8 313.6 L423.2 313.9Z" fill="#ffef31"/>
<path d="M325.7 355.8 L329.5 350.8 L326.3 353.3 L322.5 358.3Z" fill="#46e8fb"/>
<path d="M339.8 342.1 L343.6 337.8 L340.3 339.6 L336.5 344.0Z" fill="#44ff90"/>
<path d="M346.9 336.2 L350.7 332.2 L347.4 333.8 L343.6 337.8Z" fill="#41ff46"/>
<path d="M354.1 331.0 L357.9 327.4 L354.5 328.6 L350.7 332.2Z" fill="#77ff3d"/>
<path d="M361.3 326.5 L365.1 323.1 L361.6 324.0 L357.9 327.4Z" fill="#a8ff3a"/>
<path d="M375.8 319.4 L379.5 316.7 L376.0 316.9 L372.3 319.6Z" fill="#efff34"/>
<path d="M383.1 316.9 L386.8 314.6 L383.3 314.4 L379.5 316.7Z" fill="#fff632"/>
<path d="M405.0 313.5 L408.7 312.1 L405.0 310.9 L401.4 312.2Z" fill="#ffd32e"/>
<path d="M412.3 313.7 L416.0 312.7 L412.3 311.1 L408.7 312.1Z" fill="#ffd52f"/>
<path d="M434.2 318.6 L437.8 318.5 L434.0 315.8 L430.5 315.9Z" fill="#f9ff31"/>
<path d="M441.5 321.5 L445.0 321.8 L441.3 318.8 L437.8 318.5Z" fill="#daff2f"/>
<path d="M456.0 329.6 L459.4 330.4 L455.6 326.7 L452.2 325.8Z" fill="#7fff2a"/>
<path d="M463.2 334.6 L466.5 335.8 L462.8 331.6 L459.4 330.4Z" fill="#3aec27"/>
<path d="M470.3 340.2 L473.6 341.7 L469.9 337.2 L466.5 335.8Z" fill="#24d955"/>
<path d="M477.4 346.6 L480.7 348.3 L476.9 343.5 L473.6 341.7Z" fill="#21c890"/>
<path d="M491.5 361.2 L494.6 363.5 L490.9 357.9 L487.7 355.6Z" fill="#17799c"/>
<path d="M368.5 322.6 L372.3 319.6 L368.8 320.1 L365.1 323.1Z" fill="#cfff37"/>
<path d="M448.8 325.2 L452.2 325.8 L448.5 322.4 L445.0 321.8Z" fill="#b2ff2c"/>
<path d="M328.9 353.6 L332.7 348.6 L329.5 350.8 L325.7 355.8Z" fill="#47fffa"/>
<path d="M336.0 346.7 L339.8 342.1 L336.5 344.0 L332.7 348.6Z" fill="#45ffb9"/>
<path d="M350.3 335.0 L354.1 331.0 L350.7 332.2 L346.9 336.2Z" fill="#57ff3f"/>
<path d="M379.3 319.5 L383.1 316.9 L379.5 316.7 L375.8 319.4Z" fill="#f9ff33"/>
<path d="M386.6 317.3 L390.4 315.0 L386.8 314.6 L383.1 316.9Z" fill="#ffef31"/>
<path d="M408.7 315.0 L412.3 313.7 L408.7 312.1 L405.0 313.5Z" fill="#ffd72f"/>
<path d="M430.7 318.9 L434.2 318.6 L430.5 315.9 L426.9 316.2Z" fill="#fffe33"/>
<path d="M438.0 321.6 L441.5 321.5 L437.8 318.5 L434.2 318.6Z" fill="#e6ff30"/>
<path d="M467.0 339.0 L470.3 340.2 L466.5 335.8 L463.2 334.6Z" fill="#26e43c"/>
<path d="M481.2 351.8 L484.5 353.5 L480.7 348.3 L477.4 346.6Z" fill="#20c0ac"/>
<path d="M488.3 359.1 L491.5 361.2 L487.7 355.6 L484.5 353.5Z" fill="#1a92a9"/>
<path d="M372.0 322.4 L375.8 319.4 L372.3 319.6 L368.5 322.6Z" fill="#ddff36"/>
<path d="M394.0 315.9 L397.7 313.9 L394.1 313.1 L390.4 315.0Z" fill="#ffe130"/>
<path d="M401.3 315.1 L405.0 313.5 L401.4 312.2 L397.7 313.9Z" fill="#ffd92f"/>
<path d="M416.0 315.6 L419.6 314.6 L416.0 312.7 L412.3 313.7Z" fill="#ffdd2f"/>
<path d="M423.3 316.9 L426.9 316.2 L423.2 313.9 L419.6 314.6Z" fill="#ffea31"/>
<path d="M445.3 324.9 L448.8 325.2 L445.0 321.8 L441.5 321.5Z" fill="#c2ff2e"/>
<path d="M343.1 340.5 L346.9 336.2 L343.6 337.8 L339.8 342.1Z" fill="#42ff6e"/>
<path d="M357.5 330.1 L361.3 326.5 L357.9 327.4 L354.1 331.0Z" fill="#8eff3c"/>
<path d="M364.7 325.9 L368.5 322.6 L365.1 323.1 L361.3 326.5Z" fill="#b9ff39"/>
<path d="M452.5 329.0 L456.0 329.6 L452.2 325.8 L448.8 325.2Z" fill="#94ff2c"/>
<path d="M459.8 333.7 L463.2 334.6 L459.4 330.4 L456.0 329.6Z" fill="#57f729"/>
<path d="M474.1 345.1 L477.4 346.6 L473.6 341.7 L470.3 340.2Z" fill="#23d27b"/>
<path d="M382.9 320.0 L386.6 317.3 L383.1 316.9 L379.3 319.5Z" fill="#fffe33"/>
<path d="M434.4 321.9 L438.0 321.6 L434.2 318.6 L430.7 318.9Z" fill="#eeff32"/>
<path d="M375.5 322.5 L379.3 319.5 L375.8 319.4 L372.0 322.4Z" fill="#e7ff35"/>
<path d="M405.0 316.6 L408.7 315.0 L405.0 313.5 L401.3 315.1Z" fill="#ffdd2f"/>
<path d="M412.3 316.9 L416.0 315.6 L412.3 313.7 L408.7 315.0Z" fill="#ffdf30"/>
<path d="M441.7 324.9 L445.3 324.9 L441.5 321.5 L438.0 321.6Z" fill="#cfff30"/>
<path d="M332.2 351.7 L336.0 346.7 L332.7 348.6 L328.9 353.6Z" fill="#47ffdf"/>
<path d="M339.3 345.1 L343.1 340.5 L339.8 342.1 L336.0 346.7Z" fill="#44ff98"/>
<path d="M346.5 339.3 L350.3 335.0 L346.9 336.2 L343.1 340.5Z" fill="#41ff4e"/>
<path d="M353.7 334.0 L357.5 330.1 L354.1 331.0 L350.3 335.0Z" fill="#6fff3e"/>
<path d="M368.2 325.6 L372.0 322.4 L368.5 322.6 L364.7 325.9Z" fill="#c7ff38"/>
<path d="M390.2 318.1 L394.0 315.9 L390.4 315.0 L386.6 317.3Z" fill="#ffec31"/>
<path d="M427.1 319.5 L430.7 318.9 L426.9 316.2 L423.3 316.9Z" fill="#fff932"/>
<path d="M449.0 328.6 L452.5 329.0 L448.8 325.2 L445.3 324.9Z" fill="#a6ff2e"/>
<path d="M463.6 338.1 L467.0 339.0 L463.2 334.6 L459.8 333.7Z" fill="#2cee28"/>
<path d="M470.8 343.9 L474.1 345.1 L470.3 340.2 L467.0 339.0Z" fill="#25dc65"/>
<path d="M477.9 350.3 L481.2 351.8 L477.4 346.6 L474.1 345.1Z" fill="#22ca9e"/>
<path d="M485.0 357.3 L488.3 359.1 L484.5 353.5 L481.2 351.8Z" fill="#1eaeb7"/>
<path d="M397.6 317.0 L401.3 315.1 L397.7 313.9 L394.0 315.9Z" fill="#ffe130"/>
<path d="M419.7 317.9 L423.3 316.9 L419.6 314.6 L416.0 315.6Z" fill="#ffe931"/>
<path d="M360.9 329.5 L364.7 325.9 L361.3 326.5 L357.5 330.1Z" fill="#a0ff3b"/>
<path d="M456.3 333.0 L459.8 333.7 L456.0 329.6 L452.5 329.0Z" fill="#71ff2b"/>
<path d="M379.1 322.9 L382.9 320.0 L379.3 319.5 L375.5 322.5Z" fill="#eeff34"/>
<path d="M438.2 325.2 L441.7 324.9 L438.0 321.6 L434.4 321.9Z" fill="#d8ff32"/>
<path d="M342.6 343.9 L346.5 339.3 L343.1 340.5 L339.3 345.1Z" fill="#42ff79"/>
<path d="M371.7 325.7 L375.5 322.5 L372.0 322.4 L368.2 325.6Z" fill="#d2ff37"/>
<path d="M386.5 320.7 L390.2 318.1 L386.6 317.3 L382.9 320.0Z" fill="#fffb32"/>
<path d="M408.7 318.5 L412.3 316.9 L408.7 315.0 L405.0 316.6Z" fill="#ffe430"/>
<path d="M430.8 322.5 L434.4 321.9 L430.7 318.9 L427.1 319.5Z" fill="#f3ff34"/>
<path d="M445.5 328.6 L449.0 328.6 L445.3 324.9 L441.7 324.9Z" fill="#b3ff2f"/>
<path d="M474.6 349.0 L477.9 350.3 L474.1 345.1 L470.8 343.9Z" fill="#24d48d"/>
<path d="M401.3 318.5 L405.0 316.6 L401.3 315.1 L397.6 317.0Z" fill="#ffe530"/>
<path d="M416.1 319.1 L419.7 317.9 L416.0 315.6 L412.3 316.9Z" fill="#ffea31"/>
<path d="M335.5 350.1 L339.3 345.1 L336.0 346.7 L332.2 351.7Z" fill="#45ffc2"/>
<path d="M349.9 338.3 L353.7 334.0 L350.3 335.0 L346.5 339.3Z" fill="#4cff3f"/>
<path d="M357.1 333.4 L360.9 329.5 L357.5 330.1 L353.7 334.0Z" fill="#83ff3c"/>
<path d="M364.4 329.2 L368.2 325.6 L364.7 325.9 L360.9 329.5Z" fill="#afff39"/>
<path d="M393.9 319.3 L397.6 317.0 L394.0 315.9 L390.2 318.1Z" fill="#ffec31"/>
<path d="M423.4 320.4 L427.1 319.5 L423.3 316.9 L419.7 317.9Z" fill="#fff732"/>
<path d="M452.8 332.7 L456.3 333.0 L452.5 329.0 L449.0 328.6Z" fill="#84ff2d"/>
<path d="M460.1 337.5 L463.6 338.1 L459.8 333.7 L456.3 333.0Z" fill="#46f92a"/>
<path d="M467.4 342.9 L470.8 343.9 L467.0 339.0 L463.6 338.1Z" fill="#27e64f"/>
<path d="M481.7 355.8 L485.0 357.3 L481.2 351.8 L477.9 350.3Z" fill="#21c3ba"/>
<path d="M375.3 326.1 L379.1 322.9 L375.5 322.5 L371.7 325.7Z" fill="#daff36"/>
<path d="M442.0 328.9 L445.5 328.6 L441.7 324.9 L438.2 325.2Z" fill="#bdff31"/>
<path d="M382.7 323.6 L386.5 320.7 L382.9 320.0 L379.1 322.9Z" fill="#f2ff33"/>
<path d="M434.6 325.8 L438.2 325.2 L434.4 321.9 L430.8 322.5Z" fill="#deff33"/>
<path d="M338.8 348.8 L342.6 343.9 L339.3 345.1 L335.5 350.1Z" fill="#44ffa6"/>
<path d="M346.0 342.9 L349.9 338.3 L346.5 339.3 L342.6 343.9Z" fill="#41ff5d"/>
<path d="M360.6 333.1 L364.4 329.2 L360.9 329.5 L357.1 333.4Z" fill="#92ff3b"/>
<path d="M367.9 329.3 L371.7 325.7 L368.2 325.6 L364.4 329.2Z" fill="#baff38"/>
<path d="M390.1 321.8 L393.9 319.3 L390.2 318.1 L386.5 320.7Z" fill="#fffa32"/>
<path d="M397.5 320.7 L401.3 318.5 L397.6 317.0 L393.9 319.3Z" fill="#fff031"/>
<path d="M404.9 320.4 L408.7 318.5 L405.0 316.6 L401.3 318.5Z" fill="#ffec30"/>
<path d="M412.4 320.7 L416.1 319.1 L412.3 316.9 L408.7 318.5Z" fill="#ffee31"/>
<path d="M419.8 321.7 L423.4 320.4 L419.7 317.9 L416.1 319.1Z" fill="#fff832"/>
<path d="M427.2 323.4 L430.8 322.5 L427.1 319.5 L423.4 320.4Z" fill="#f5ff34"/>
<path d="M449.3 332.7 L452.8 332.7 L449.0 328.6 L445.5 328.6Z" fill="#93ff2f"/>
<path d="M456.7 337.1 L460.1 337.5 L456.3 333.0 L452.8 332.7Z" fill="#5cff2c"/>
<path d="M471.2 348.1 L474.6 349.0 L470.8 343.9 L467.4 342.9Z" fill="#26de7b"/>
<path d="M478.4 354.5 L481.7 355.8 L477.9 350.3 L474.6 349.0Z" fill="#23ccaf"/>
<path d="M353.3 337.7 L357.1 333.4 L353.7 334.0 L349.9 338.3Z" fill="#61ff3e"/>
<path d="M463.9 342.3 L467.4 342.9 L463.6 338.1 L460.1 337.5Z" fill="#29f03b"/>
<path d="M364.1 333.1 L367.9 329.3 L364.4 329.2 L360.6 333.1Z" fill="#9eff3a"/>
<path d="M371.5 329.6 L375.3 326.1 L371.7 325.7 L367.9 329.3Z" fill="#c2ff37"/>
<path d="M378.9 326.8 L382.7 323.6 L379.1 322.9 L375.3 326.1Z" fill="#deff35"/>
<path d="M386.3 324.7 L390.1 321.8 L386.5 320.7 L382.7 323.6Z" fill="#f3ff33"/>
<path d="M393.8 323.3 L397.5 320.7 L393.9 319.3 L390.1 321.8Z" fill="#fffd32"/>
<path d="M401.2 322.5 L404.9 320.4 L401.3 318.5 L397.5 320.7Z" fill="#fff631"/>
<path d="M416.1 323.2 L419.8 321.7 L416.1 319.1 L412.4 320.7Z" fill="#fffc32"/>
<path d="M423.6 324.6 L427.2 323.4 L423.4 320.4 L419.8 321.7Z" fill="#f5ff34"/>
<path d="M431.0 326.7 L434.6 325.8 L430.8 322.5 L427.2 323.4Z" fill="#e1ff35"/>
<path d="M438.4 329.4 L442.0 328.9 L438.2 325.2 L434.6 325.8Z" fill="#c4ff33"/>
<path d="M445.8 332.9 L449.3 332.7 L445.5 328.6 L442.0 328.9Z" fill="#9eff30"/>
<path d="M453.2 337.0 L456.7 337.1 L452.8 332.7 L449.3 332.7Z" fill="#6dff2e"/>
<path d="M342.2 347.8 L346.0 342.9 L342.6 343.9 L338.8 348.8Z" fill="#43ff8b"/>
<path d="M349.4 342.2 L353.3 337.7 L349.9 338.3 L346.0 342.9Z" fill="#40ff45"/>
<path d="M356.8 337.3 L360.6 333.1 L357.1 333.4 L353.3 337.7Z" fill="#72ff3d"/>
<path d="M408.7 322.5 L412.4 320.7 L408.7 318.5 L404.9 320.4Z" fill="#fff631"/>
<path d="M460.5 341.9 L463.9 342.3 L460.1 337.5 L456.7 337.1Z" fill="#2dfa2b"/>
<path d="M467.8 347.4 L471.2 348.1 L467.4 342.9 L463.9 342.3Z" fill="#28e76a"/>
<path d="M475.0 353.5 L478.4 354.5 L474.6 349.0 L471.2 348.1Z" fill="#25d6a3"/>
<path d="M367.6 333.5 L371.5 329.6 L367.9 329.3 L364.1 333.1Z" fill="#a7ff39"/>
<path d="M390.0 326.1 L393.8 323.3 L390.1 321.8 L386.3 324.7Z" fill="#f0ff33"/>
<path d="M397.4 325.1 L401.2 322.5 L397.5 320.7 L393.8 323.3Z" fill="#fbff32"/>
<path d="M419.9 326.1 L423.6 324.6 L419.8 321.7 L416.1 323.2Z" fill="#f1ff34"/>
<path d="M427.3 327.8 L431.0 326.7 L427.2 323.4 L423.6 324.6Z" fill="#e0ff35"/>
<path d="M449.6 337.3 L453.2 337.0 L449.3 332.7 L445.8 332.9Z" fill="#7aff30"/>
<path d="M352.9 341.9 L356.8 337.3 L353.3 337.7 L349.4 342.2Z" fill="#4cff3f"/>
<path d="M360.3 337.3 L364.1 333.1 L360.6 333.1 L356.8 337.3Z" fill="#7eff3c"/>
<path d="M375.1 330.3 L378.9 326.8 L375.3 326.1 L371.5 329.6Z" fill="#c7ff37"/>
<path d="M382.5 327.9 L386.3 324.7 L382.7 323.6 L378.9 326.8Z" fill="#dfff35"/>
<path d="M434.8 330.3 L438.4 329.4 L434.6 325.8 L431.0 326.7Z" fill="#c8ff35"/>
<path d="M442.2 333.4 L445.8 332.9 L442.0 328.9 L438.4 329.4Z" fill="#a6ff32"/>
<path d="M457.0 341.8 L460.5 341.9 L456.7 337.1 L453.2 337.0Z" fill="#40ff2d"/>
<path d="M464.3 347.0 L467.8 347.4 L463.9 342.3 L460.5 341.9Z" fill="#2af15a"/>
<path d="M345.6 347.1 L349.4 342.2 L346.0 342.9 L342.2 347.8Z" fill="#42ff73"/>
<path d="M404.9 324.7 L408.7 322.5 L404.9 320.4 L401.2 322.5Z" fill="#feff32"/>
<path d="M412.4 325.0 L416.1 323.2 L412.4 320.7 L408.7 322.5Z" fill="#fbff33"/>
<path d="M471.6 352.9 L475.0 353.5 L471.2 348.1 L467.8 347.4Z" fill="#27df96"/>
<path d="M356.4 341.8 L360.3 337.3 L356.8 337.3 L352.9 341.9Z" fill="#5aff3e"/>
<path d="M363.8 337.7 L367.6 333.5 L364.1 333.1 L360.3 337.3Z" fill="#88ff3b"/>
<path d="M371.2 334.2 L375.1 330.3 L371.5 329.6 L367.6 333.5Z" fill="#acff39"/>
<path d="M386.2 329.3 L390.0 326.1 L386.3 324.7 L382.5 327.9Z" fill="#ddff35"/>
<path d="M393.7 327.9 L397.4 325.1 L393.8 323.3 L390.0 326.1Z" fill="#eaff34"/>
<path d="M423.7 329.3 L427.3 327.8 L423.6 324.6 L419.9 326.1Z" fill="#ddff35"/>
<path d="M431.1 331.5 L434.8 330.3 L431.0 326.7 L427.3 327.8Z" fill="#c8ff37"/>
<path d="M446.0 337.8 L449.6 337.3 L445.8 332.9 L442.2 333.4Z" fill="#83ff32"/>
<path d="M453.5 342.0 L457.0 341.8 L453.2 337.0 L449.6 337.3Z" fill="#4eff2f"/>
<path d="M460.8 346.9 L464.3 347.0 L460.5 341.9 L457.0 341.8Z" fill="#2cfb4c"/>
<path d="M349.0 346.7 L352.9 341.9 L349.4 342.2 L345.6 347.1Z" fill="#41ff5f"/>
<path d="M378.7 331.4 L382.5 327.9 L378.9 326.8 L375.1 330.3Z" fill="#c8ff36"/>
<path d="M401.2 327.2 L404.9 324.7 L401.2 322.5 L397.4 325.1Z" fill="#f1ff33"/>
<path d="M408.7 327.2 L412.4 325.0 L408.7 322.5 L404.9 324.7Z" fill="#f1ff33"/>
<path d="M416.2 327.9 L419.9 326.1 L416.1 323.2 L412.4 325.0Z" fill="#ebff34"/>
<path d="M438.6 334.3 L442.2 333.4 L438.4 329.4 L434.8 330.3Z" fill="#abff34"/>
<path d="M468.2 352.4 L471.6 352.9 L467.8 347.4 L464.3 347.0Z" fill="#29e98a"/>
<path d="M359.9 342.2 L363.8 337.7 L360.3 337.3 L356.4 341.8Z" fill="#64ff3d"/>
<path d="M457.3 347.1 L460.8 346.9 L457.0 341.8 L453.5 342.0Z" fill="#2eff40"/>
<path d="M352.5 346.7 L356.4 341.8 L352.9 341.9 L349.0 346.7Z" fill="#40ff4f"/>
<path d="M367.4 338.3 L371.2 334.2 L367.6 333.5 L363.8 337.7Z" fill="#8dff3b"/>
<path d="M374.8 335.2 L378.7 331.4 L375.1 330.3 L371.2 334.2Z" fill="#aeff38"/>
<path d="M382.3 332.8 L386.2 329.3 L382.5 327.9 L378.7 331.4Z" fill="#c6ff36"/>
<path d="M389.8 331.0 L393.7 327.9 L390.0 326.1 L386.2 329.3Z" fill="#d7ff35"/>
<path d="M397.4 330.0 L401.2 327.2 L397.4 325.1 L393.7 327.9Z" fill="#e1ff34"/>
<path d="M404.9 329.7 L408.7 327.2 L404.9 324.7 L401.2 327.2Z" fill="#e5ff34"/>
<path d="M412.4 330.0 L416.2 327.9 L412.4 325.0 L408.7 327.2Z" fill="#e1ff34"/>
<path d="M419.9 331.1 L423.7 329.3 L419.9 326.1 L416.2 327.9Z" fill="#d7ff36"/>
<path d="M427.5 332.9 L431.1 331.5 L427.3 327.8 L423.7 329.3Z" fill="#c6ff37"/>
<path d="M435.0 335.4 L438.6 334.3 L434.8 330.3 L431.1 331.5Z" fill="#acff36"/>
<path d="M442.4 338.6 L446.0 337.8 L442.2 333.4 L438.6 334.3Z" fill="#88ff34"/>
<path d="M449.9 342.5 L453.5 342.0 L449.6 337.3 L446.0 337.8Z" fill="#59ff31"/>
<path d="M464.7 352.3 L468.2 352.4 L464.3 347.0 L460.8 346.9Z" fill="#2bf27f"/>
<path d="M356.0 347.0 L359.9 342.2 L356.4 341.8 L352.5 346.7Z" fill="#3fff42"/>
<path d="M363.5 342.8 L367.4 338.3 L363.8 337.7 L359.9 342.2Z" fill="#6aff3c"/>
<path d="M378.5 336.5 L382.3 332.8 L378.7 331.4 L374.8 335.2Z" fill="#acff38"/>
<path d="M386.0 334.5 L389.8 331.0 L386.2 329.3 L382.3 332.8Z" fill="#c1ff37"/>
<path d="M393.5 333.1 L397.4 330.0 L393.7 327.9 L389.8 331.0Z" fill="#cfff36"/>
<path d="M401.1 332.4 L404.9 329.7 L401.2 327.2 L397.4 330.0Z" fill="#d5ff35"/>
<path d="M408.7 332.5 L412.4 330.0 L408.7 327.2 L404.9 329.7Z" fill="#d5ff35"/>
<path d="M416.2 333.2 L419.9 331.1 L416.2 327.9 L412.4 330.0Z" fill="#ceff36"/>
<path d="M423.8 334.7 L427.5 332.9 L423.7 329.3 L419.9 331.1Z" fill="#c0ff37"/>
<path d="M431.3 336.9 L435.0 335.4 L431.1 331.5 L427.5 332.9Z" fill="#aaff38"/>
<path d="M438.8 339.7 L442.4 338.6 L438.6 334.3 L435.0 335.4Z" fill="#8aff36"/>
<path d="M453.8 347.6 L457.3 347.1 L453.5 342.0 L449.9 342.5Z" fill="#30ff38"/>
<path d="M461.2 352.5 L464.7 352.3 L460.8 346.9 L457.3 347.1Z" fill="#2dfb76"/>
<path d="M371.0 339.3 L374.8 335.2 L371.2 334.2 L367.4 338.3Z" fill="#90ff3a"/>
<path d="M446.3 343.3 L449.9 342.5 L446.0 337.8 L442.4 338.6Z" fill="#5fff33"/>
<path d="M382.2 338.2 L386.0 334.5 L382.3 332.8 L378.5 336.5Z" fill="#a7ff38"/>
<path d="M404.9 335.2 L408.7 332.5 L404.9 329.7 L401.1 332.4Z" fill="#c6ff36"/>
<path d="M412.4 335.7 L416.2 333.2 L412.4 330.0 L408.7 332.5Z" fill="#c2ff37"/>
<path d="M435.1 341.2 L438.8 339.7 L435.0 335.4 L431.3 336.9Z" fill="#89ff38"/>
<path d="M359.6 347.6 L363.5 342.8 L359.9 342.2 L356.0 347.0Z" fill="#42ff3e"/>
<path d="M367.1 343.8 L371.0 339.3 L367.4 338.3 L363.5 342.8Z" fill="#6dff3c"/>
<path d="M374.6 340.7 L378.5 336.5 L374.8 335.2 L371.0 339.3Z" fill="#8eff3a"/>
<path d="M397.3 335.5 L401.1 332.4 L397.4 330.0 L393.5 333.1Z" fill="#c3ff36"/>
<path d="M420.0 336.8 L423.8 334.7 L419.9 331.1 L416.2 333.2Z" fill="#b7ff38"/>
<path d="M442.7 344.4 L446.3 343.3 L442.4 338.6 L438.8 339.7Z" fill="#62ff35"/>
<path d="M450.2 348.3 L453.8 347.6 L449.9 342.5 L446.3 343.3Z" fill="#32ff35"/>
<path d="M457.6 353.0 L461.2 352.5 L457.3 347.1 L453.8 347.6Z" fill="#2fff6e"/>
<path d="M389.7 336.5 L393.5 333.1 L389.8 331.0 L386.0 334.5Z" fill="#b9ff37"/>
<path d="M427.6 338.6 L431.3 336.9 L427.5 332.9 L423.8 334.7Z" fill="#a5ff39"/>
<path d="M370.7 345.1 L374.6 340.7 L371.0 339.3 L367.1 343.8Z" fill="#6cff3c"/>
<path d="M401.1 338.3 L404.9 335.2 L401.1 332.4 L397.3 335.5Z" fill="#b3ff37"/>
<path d="M408.7 338.4 L412.4 335.7 L408.7 332.5 L404.9 335.2Z" fill="#b3ff38"/>
<path d="M416.3 339.2 L420.0 336.8 L416.2 333.2 L412.4 335.7Z" fill="#abff38"/>
<path d="M446.5 349.4 L450.2 348.3 L446.3 343.3 L442.7 344.4Z" fill="#34ff34"/>
<path d="M363.2 348.6 L367.1 343.8 L363.5 342.8 L359.6 347.6Z" fill="#46ff3e"/>
<path d="M378.3 342.3 L382.2 338.2 L378.5 336.5 L374.6 340.7Z" fill="#8aff3a"/>
<path d="M385.9 340.3 L389.7 336.5 L386.0 334.5 L382.2 338.2Z" fill="#9fff39"/>
<path d="M393.4 338.9 L397.3 335.5 L393.5 333.1 L389.7 336.5Z" fill="#adff38"/>
<path d="M423.9 340.7 L427.6 338.6 L423.8 334.7 L420.0 336.8Z" fill="#9cff3a"/>
<path d="M431.4 342.9 L435.1 341.2 L431.3 336.9 L427.6 338.6Z" fill="#85ff3a"/>
<path d="M439.0 345.8 L442.7 344.4 L438.8 339.7 L435.1 341.2Z" fill="#62ff37"/>
<path d="M454.1 353.7 L457.6 353.0 L453.8 347.6 L450.2 348.3Z" fill="#31ff69"/>
<path d="M366.8 349.9 L370.7 345.1 L367.1 343.8 L363.2 348.6Z" fill="#45ff3e"/>
<path d="M374.4 346.8 L378.3 342.3 L374.6 340.7 L370.7 345.1Z" fill="#68ff3c"/>
<path d="M382.0 344.4 L385.9 340.3 L382.2 338.2 L378.3 342.3Z" fill="#82ff3a"/>
<path d="M389.6 342.7 L393.4 338.9 L389.7 336.5 L385.9 340.3Z" fill="#93ff39"/>
<path d="M397.2 341.7 L401.1 338.3 L397.3 335.5 L393.4 338.9Z" fill="#9dff39"/>
<path d="M404.8 341.5 L408.7 338.4 L404.9 335.2 L401.1 338.3Z" fill="#a0ff39"/>
<path d="M412.5 341.9 L416.3 339.2 L412.4 335.7 L408.7 338.4Z" fill="#9cff39"/>
<path d="M420.1 343.1 L423.9 340.7 L420.0 336.8 L416.3 339.2Z" fill="#90ff3a"/>
<path d="M427.7 345.0 L431.4 342.9 L427.6 338.6 L423.9 340.7Z" fill="#7dff3b"/>
<path d="M435.3 347.5 L439.0 345.8 L435.1 341.2 L431.4 342.9Z" fill="#5eff39"/>
<path d="M442.9 350.8 L446.5 349.4 L442.7 344.4 L439.0 345.8Z" fill="#36ff38"/>
<path d="M450.4 354.8 L454.1 353.7 L450.2 348.3 L446.5 349.4Z" fill="#33ff68"/>
<path d="M370.5 351.5 L374.4 346.8 L370.7 345.1 L366.8 349.9Z" fill="#41ff3e"/>
<path d="M378.1 348.8 L382.0 344.4 L378.3 342.3 L374.4 346.8Z" fill="#60ff3c"/>
<path d="M385.7 346.7 L389.6 342.7 L385.9 340.3 L382.0 344.4Z" fill="#76ff3b"/>
<path d="M393.3 345.4 L397.2 341.7 L393.4 338.9 L389.6 342.7Z" fill="#84ff3a"/>
<path d="M401.0 344.8 L404.8 341.5 L401.1 338.3 L397.2 341.7Z" fill="#8aff3a"/>
<path d="M408.7 344.9 L412.5 341.9 L408.7 338.4 L404.8 341.5Z" fill="#89ff3a"/>
<path d="M416.3 345.8 L420.1 343.1 L416.3 339.2 L412.5 341.9Z" fill="#81ff3b"/>
<path d="M424.0 347.3 L427.7 345.0 L423.9 340.7 L420.1 343.1Z" fill="#71ff3c"/>
<path d="M431.6 349.6 L435.3 347.5 L431.4 342.9 L427.7 345.0Z" fill="#57ff3b"/>
<path d="M439.2 352.5 L442.9 350.8 L439.0 345.8 L435.3 347.5Z" fill="#38ff3f"/>
<path d="M446.8 356.2 L450.4 354.8 L446.5 349.4 L442.9 350.8Z" fill="#35ff6b"/>
<path d="M397.1 348.5 L401.0 344.8 L397.2 341.7 L393.3 345.4Z" fill="#70ff3b"/>
<path d="M420.2 350.0 L424.0 347.3 L420.1 343.1 L416.3 345.8Z" fill="#61ff3c"/>
<path d="M374.2 353.5 L378.1 348.8 L374.4 346.8 L370.5 351.5Z" fill="#3eff43"/>
<path d="M381.8 351.1 L385.7 346.7 L382.0 344.4 L378.1 348.8Z" fill="#54ff3c"/>
<path d="M389.5 349.5 L393.3 345.4 L389.6 342.7 L385.7 346.7Z" fill="#66ff3c"/>
<path d="M404.8 348.3 L408.7 344.9 L404.8 341.5 L401.0 344.8Z" fill="#73ff3b"/>
<path d="M412.5 348.8 L416.3 345.8 L412.5 341.9 L408.7 344.9Z" fill="#6eff3b"/>
<path d="M427.8 351.9 L431.6 349.6 L427.7 345.0 L424.0 347.3Z" fill="#4cff3d"/>
<path d="M435.5 354.6 L439.2 352.5 L435.3 347.5 L431.6 349.6Z" fill="#3aff4a"/>
<path d="M443.1 357.9 L446.8 356.2 L442.9 350.8 L439.2 352.5Z" fill="#37ff71"/>
<path d="M385.6 353.8 L389.5 349.5 L385.7 346.7 L381.8 351.1Z" fill="#44ff3d"/>
<path d="M401.0 352.0 L404.8 348.3 L401.0 344.8 L397.1 348.5Z" fill="#59ff3c"/>
<path d="M416.4 353.0 L420.2 350.0 L416.3 345.8 L412.5 348.8Z" fill="#4eff3d"/>
<path d="M431.7 356.9 L435.5 354.6 L431.6 349.6 L427.8 351.9Z" fill="#3cff59"/>
<path d="M377.9 355.8 L381.8 351.1 L378.1 348.8 L374.2 353.5Z" fill="#3eff4f"/>
<path d="M393.3 352.6 L397.1 348.5 L393.3 345.4 L389.5 349.5Z" fill="#52ff3c"/>
<path d="M408.7 352.1 L412.5 348.8 L408.7 344.9 L404.8 348.3Z" fill="#57ff3c"/>
<path d="M424.1 354.6 L427.8 351.9 L424.0 347.3 L420.2 350.0Z" fill="#3eff3f"/>
<path d="M439.4 359.9 L443.1 357.9 L439.2 352.5 L435.5 354.6Z" fill="#39ff7b"/>
<path d="M381.6 358.5 L385.6 353.8 L381.8 351.1 L377.9 355.8Z" fill="#3fff60"/>
<path d="M389.3 356.9 L393.3 352.6 L389.5 349.5 L385.6 353.8Z" fill="#3eff4c"/>
<path d="M397.1 356.0 L401.0 352.0 L397.1 348.5 L393.3 352.6Z" fill="#3dff41"/>
<path d="M404.8 355.8 L408.7 352.1 L404.8 348.3 L401.0 352.0Z" fill="#3dff3e"/>
<path d="M412.5 356.3 L416.4 353.0 L412.5 348.8 L408.7 352.1Z" fill="#3eff45"/>
<path d="M420.2 357.6 L424.1 354.6 L420.2 350.0 L416.4 353.0Z" fill="#3fff54"/>
<path d="M428.0 359.5 L431.7 356.9 L427.8 351.9 L424.1 354.6Z" fill="#3eff6b"/>
<path d="M435.6 362.2 L439.4 359.9 L435.5 354.6 L431.7 356.9Z" fill="#3bff88"/>
<path d="M385.4 361.6 L389.3 356.9 L385.6 353.8 L381.6 358.5Z" fill="#3fff75"/>
<path d="M393.2 360.3 L397.1 356.0 L393.3 352.6 L389.3 356.9Z" fill="#3fff66"/>
<path d="M408.7 360.0 L412.5 356.3 L408.7 352.1 L404.8 355.8Z" fill="#3fff61"/>
<path d="M424.1 362.5 L428.0 359.5 L424.1 354.6 L420.2 357.6Z" fill="#40ff80"/>
<path d="M431.9 364.9 L435.6 362.2 L431.7 356.9 L428.0 359.5Z" fill="#3dff99"/>
<path d="M400.9 359.8 L404.8 355.8 L401.0 352.0 L397.1 356.0Z" fill="#3fff5f"/>
<path d="M416.4 360.9 L420.2 357.6 L416.4 353.0 L412.5 356.3Z" fill="#40ff6c"/>
<path d="M389.2 365.0 L393.2 360.3 L389.3 356.9 L385.4 361.6Z" fill="#40ff8e"/>
<path d="M397.0 364.1 L400.9 359.8 L397.1 356.0 L393.2 360.3Z" fill="#40ff83"/>
<path d="M404.8 364.0 L408.7 360.0 L404.8 355.8 L400.9 359.8Z" fill="#40ff81"/>
<path d="M412.5 364.5 L416.4 360.9 L412.5 356.3 L408.7 360.0Z" fill="#40ff88"/>
<path d="M420.3 365.8 L424.1 362.5 L420.2 357.6 L416.4 360.9Z" fill="#41ff97"/>
<path d="M428.1 367.8 L431.9 364.9 L428.0 359.5 L424.1 362.5Z" fill="#3fffac"/>
<path d="M393.1 368.8 L397.0 364.1 L393.2 360.3 L389.2 365.0Z" fill="#41ffa9"/>
<path d="M400.9 368.3 L404.8 364.0 L400.9 359.8 L397.0 364.1Z" fill="#41ffa3"/>
<path d="M408.7 368.5 L412.5 364.5 L408.7 360.0 L404.8 364.0Z" fill="#41ffa6"/>
<path d="M416.5 369.4 L420.3 365.8 L416.4 360.9 L412.5 364.5Z" fill="#42ffb0"/>
<path d="M424.2 371.1 L428.1 367.8 L424.1 362.5 L420.3 365.8Z" fill="#42ffc1"/>
<path d="M396.9 372.9 L400.9 368.3 L397.0 364.1 L393.1 368.8Z" fill="#42ffc6"/>
<path d="M404.7 372.8 L408.7 368.5 L404.8 364.0 L400.9 368.3Z" fill="#42ffc5"/>
<path d="M412.6 373.4 L416.5 369.4 L412.5 364.5 L408.7 368.5Z" fill="#43ffca"/>
<path d="M420.4 374.7 L424.2 371.1 L420.3 365.8 L416.5 369.4Z" fill="#44ffd7"/>
<path d="M400.8 377.4 L404.7 372.8 L400.9 368.3 L396.9 372.9Z" fill="#44ffe3"/>
<path d="M408.7 377.7 L412.6 373.4 L408.7 368.5 L404.7 372.8Z" fill="#44ffe5"/>
<path d="M416.5 378.7 L420.4 374.7 L416.5 369.4 L412.6 373.4Z" fill="#44ffed"/>
<path d="M404.7 382.3 L408.7 377.7 L404.7 372.8 L400.8 377.4Z" fill="#45fffe"/>
<path d="M412.6 382.9 L416.5 378.7 L412.6 373.4 L408.7 377.7Z" fill="#45fcff"/>
<path d="M408.7 387.5 L412.6 382.9 L408.7 377.7 L404.7 382.3Z" fill="#46e8ff"/>
</g>
<path d="M314.1 295.1 L316.9 384.4 L319.2 409.6 L408.6 449.9 L497.9 409.6 L500.4 384.4 L503.3 295.1" fill="none" stroke="#2a2a2a" stroke-width="0.8"/>
<circle cx="316.94" cy="384.37" r="0.9" fill="#111"/>
<circle cx="316.54" cy="371.95" r="0.9" fill="#111"/>
<circle cx="316.13" cy="359.43" r="0.9" fill="#111"/>
<circle cx="315.73" cy="346.79" r="0.9" fill="#111"/>
<circle cx="315.32" cy="334.04" r="0.9" fill="#111"/>
<circle cx="314.9" cy="321.18" r="0.9" fill="#111"/>
<circle cx="314.49" cy="308.21" r="0.9" fill="#111"/>
<circle cx="314.07" cy="295.12" r="0.9" fill="#111"/>
<circle cx="408.55" cy="449.86" r="0.8" fill="#111"/>
<circle cx="426.42" cy="441.81" r="0.8" fill="#111"/>
<circle cx="444.29" cy="433.76" r="0.8" fill="#111"/>
<circle cx="462.16" cy="425.7" r="0.8" fill="#111"/>
<circle cx="480.03" cy="417.65" r="0.8" fill="#111"/>
<circle cx="497.9" cy="409.6" r="0.8" fill="#111"/>
<circle cx="408.55" cy="449.86" r="0.8" fill="#111"/>
<circle cx="386.21" cy="439.8" r="0.8" fill="#111"/>
<circle cx="363.88" cy="429.73" r="0.8" fill="#111"/>
<circle cx="341.54" cy="419.67" r="0.8" fill="#111"/>
<circle cx="319.2" cy="409.6" r="0.8" fill="#111"/>
<text x="313.64" y="388.27" font-size="11.5" text-anchor="end" fill="#0a0a0a" stroke="#0a0a0a" stroke-width="0.3">2.6</text>
<text x="312.83" y="363.33" font-size="11.5" text-anchor="end" fill="#0a0a0a" stroke="#0a0a0a" stroke-width="0.3">3</text>
<text x="312.02" y="337.94" font-size="11.5" text-anchor="end" fill="#0a0a0a" stroke="#0a0a0a" stroke-width="0.3">3.4</text>
<text x="311.19" y="312.11" font-size="11.5" text-anchor="end" fill="#0a0a0a" stroke="#0a0a0a" stroke-width="0.3">3.8</text>
<text x="293.4" y="342" font-size="11.5" text-anchor="middle" fill="#0a0a0a" stroke="#0a0a0a" stroke-width="0.3" transform="rotate(-90 293.4 342)" textLength="89" lengthAdjust="spacingAndGlyphs">Extraction rate (%)</text>
<text x="417.52" y="459.98" font-size="11.5" text-anchor="middle" fill="#0a0a0a" stroke="#0a0a0a" stroke-width="0.3" transform="rotate(-27 417.52 459.98)">10</text>
<text x="434.72" y="452.34" font-size="11.5" text-anchor="middle" fill="#0a0a0a" stroke="#0a0a0a" stroke-width="0.3" transform="rotate(-27 434.72 452.34)">12</text>
<text x="451.92" y="444.7" font-size="11.5" text-anchor="middle" fill="#0a0a0a" stroke="#0a0a0a" stroke-width="0.3" transform="rotate(-27 451.92 444.7)">14</text>
<text x="469.12" y="437.06" font-size="11.5" text-anchor="middle" fill="#0a0a0a" stroke="#0a0a0a" stroke-width="0.3" transform="rotate(-27 469.12 437.06)">16</text>
<text x="486.32" y="429.42" font-size="11.5" text-anchor="middle" fill="#0a0a0a" stroke="#0a0a0a" stroke-width="0.3" transform="rotate(-27 486.32 429.42)">18</text>
<text x="503.52" y="421.78" font-size="11.5" text-anchor="middle" fill="#0a0a0a" stroke="#0a0a0a" stroke-width="0.3" transform="rotate(-27 503.52 421.78)">20</text>
<text x="399.82" y="461.45" font-size="11.5" text-anchor="middle" fill="#0a0a0a" stroke="#0a0a0a" stroke-width="0.3" transform="rotate(28 399.82 461.45)">160</text>
<text x="377.79" y="450.9" font-size="11.5" text-anchor="middle" fill="#0a0a0a" stroke="#0a0a0a" stroke-width="0.3" transform="rotate(28 377.79 450.9)">180</text>
<text x="355.77" y="440.35" font-size="11.5" text-anchor="middle" fill="#0a0a0a" stroke="#0a0a0a" stroke-width="0.3" transform="rotate(28 355.77 440.35)">200</text>
<text x="333.74" y="429.8" font-size="11.5" text-anchor="middle" fill="#0a0a0a" stroke="#0a0a0a" stroke-width="0.3" transform="rotate(28 333.74 429.8)">220</text>
<text x="311.72" y="419.25" font-size="11.5" text-anchor="middle" fill="#0a0a0a" stroke="#0a0a0a" stroke-width="0.3" transform="rotate(28 311.72 419.25)">240</text>
<text x="466.75" y="449.82" font-size="11.5" text-anchor="middle" fill="#0a0a0a" stroke="#0a0a0a" stroke-width="0.3" transform="rotate(-25.5 466.75 449.82)" textLength="112.5" lengthAdjust="spacingAndGlyphs">A: Ultrasonic time (min)</text>
<text x="345.42" y="454.2" font-size="11.5" text-anchor="middle" fill="#0a0a0a" stroke="#0a0a0a" stroke-width="0.3" transform="rotate(26.3 345.42 454.2)" textLength="112" lengthAdjust="spacingAndGlyphs">C: Ultrasonic power (W)</text>
<path d="M408.66 296.1L408.66 309.82" stroke="#222" stroke-width="0.8"/>
<circle cx="408.66" cy="296.1" r="1.9" fill="#c00000" stroke="#6e0000" stroke-width="0.6"/>
<circle cx="408.66" cy="304.42" r="1.9" fill="#c00000" stroke="#6e0000" stroke-width="0.6"/>
<circle cx="500.82" cy="370.7" r="1.9" fill="#fdeaea" stroke="#b86a6a" stroke-width="0.8"/>
<circle cx="316.24" cy="362.57" r="1.9" fill="#c00000" stroke="#6e0000" stroke-width="0.6"/>
<circle cx="408.66" cy="388.92" r="1.9" fill="#c00000" stroke="#6e0000" stroke-width="0.6"/>
<path d="M335.5 647.6 L422.9 618.0 L510.2 647.6 M335.0 635.3 L422.9 606.7 L510.7 635.3 M334.4 622.8 L422.9 595.4 L511.3 622.8 M333.9 610.3 L422.9 583.9 L511.8 610.3 M333.4 597.5 L422.9 572.3 L512.3 597.5 M332.9 584.7 L422.9 560.6 L512.9 584.7 M332.3 571.6 L422.9 548.7 L513.4 571.6 M331.8 558.4 L422.9 536.7 L514.0 558.4 M335.5 647.6 L331.8 558.4 M353.0 641.6 L350.0 554.1 M370.4 635.7 L368.2 549.7 M387.9 629.8 L386.4 545.4 M405.4 623.9 L404.6 541.1 M422.9 618.0 L422.9 536.7 M422.9 618.0 L422.9 536.7 M444.7 625.4 L445.6 542.2 M466.5 632.8 L468.4 547.6 M488.4 640.2 L491.2 553.0 M510.2 647.6 L514.0 558.4" fill="none" stroke="#262626" stroke-width="0.85" stroke-opacity="0.95"/>
<path d="M422.8 715.8 L508.1 674.9 L422.8 643.1 L337.5 674.9Z" fill="#666666"/>
<g clip-path="url(#f3)" fill="none" stroke-width="1.5">
<path d="M471.2 673.6 L470.2 674.7 L469.0 675.9 L467.6 677.1 L466.1 678.2 L464.3 679.3 L462.4 680.4 L460.3 681.5 L458.1 682.5 L455.7 683.5 L453.2 684.4 L450.6 685.3 L447.9 686.1 L445.1 686.8 L442.3 687.5 L439.3 688.1 L436.3 688.7 L433.3 689.2 L430.3 689.6 L427.3 689.9 L424.3 690.1 L421.3 690.3 L418.3 690.4 L415.4 690.4 L412.6 690.3 L409.9 690.1 L407.2 689.9 L404.7 689.6 L402.3 689.2 L400.0 688.7 L397.9 688.1 L395.9 687.5 L394.1 686.8 L392.5 686.1 L391.0 685.3 L389.7 684.4 L388.7 683.5 L387.8 682.5 L387.1 681.5 L386.7 680.4 L386.4 679.3 L386.4 678.2 L386.6 677.1 L386.9 675.9 L387.5 674.7 L388.3 673.6 L389.3 672.4 L390.5 671.2 L391.9 670.1 L393.5 668.9 L395.3 667.8 L397.2 666.7 L399.3 665.7 L401.5 664.6 L403.8 663.7 L406.3 662.7 L408.9 661.9 L411.6 661.1 L414.4 660.3 L417.3 659.6 L420.2 659.0 L423.2 658.4 L426.2 658.0 L429.3 657.6 L432.3 657.2 L435.3 657.0 L438.3 656.8 L441.2 656.7 L444.1 656.7 L447.0 656.8 L449.7 657.0 L452.3 657.2 L454.9 657.6 L457.3 658.0 L459.6 658.4 L461.7 659.0 L463.7 659.6 L465.5 660.3 L467.1 661.1 L468.6 661.9 L469.8 662.7 L470.9 663.7 L471.8 664.6 L472.4 665.7 L472.9 666.7 L473.1 667.8 L473.2 668.9 L473.0 670.1 L472.6 671.2 L472.0 672.4 L471.2 673.6Z" stroke="#d2dc28"/>
<path d="M489.3 673.6 L487.9 675.3 L486.2 676.9 L484.2 678.6 L481.9 680.2 L479.4 681.8 L476.6 683.4 L473.7 684.9 L470.5 686.4 L467.1 687.8 L463.5 689.1 L459.7 690.4 L455.8 691.5 L451.8 692.6 L447.7 693.6 L443.5 694.5 L439.2 695.3 L434.9 696.0 L430.5 696.6 L426.2 697.0 L421.9 697.4 L417.6 697.6 L413.3 697.7 L409.2 697.7 L405.1 697.6 L401.2 697.4 L397.4 697.0 L393.7 696.6 L390.3 696.0 L387.0 695.3 L383.9 694.5 L381.1 693.6 L378.5 692.6 L376.1 691.5 L374.1 690.4 L372.2 689.1 L370.7 687.8 L369.4 686.4 L368.5 684.9 L367.8 683.4 L367.5 681.8 L367.4 680.2 L367.7 678.6 L368.2 676.9 L369.1 675.3 L370.2 673.6 L371.7 671.9 L373.4 670.2 L375.4 668.5 L377.7 666.9 L380.2 665.3 L382.9 663.7 L385.9 662.2 L389.1 660.8 L392.5 659.4 L396.1 658.0 L399.8 656.8 L403.7 655.6 L407.7 654.5 L411.9 653.5 L416.1 652.6 L420.4 651.8 L424.7 651.1 L429.0 650.6 L433.4 650.1 L437.7 649.7 L442.0 649.5 L446.2 649.4 L450.4 649.4 L454.5 649.5 L458.4 649.7 L462.2 650.1 L465.8 650.6 L469.3 651.1 L472.6 651.8 L475.6 652.6 L478.5 653.5 L481.1 654.5 L483.4 655.6 L485.5 656.8 L487.3 658.0 L488.9 659.4 L490.1 660.8 L491.1 662.2 L491.7 663.7 L492.1 665.3 L492.1 666.9 L491.9 668.5 L491.3 670.2 L490.5 671.9 L489.3 673.6Z" stroke="#46dc28"/>
<path d="M503.1 673.6 L501.3 675.6 L499.2 677.7 L496.7 679.8 L494.0 681.8 L490.9 683.8 L487.5 685.7 L483.8 687.5 L479.9 689.3 L475.7 691.1 L471.3 692.7 L466.7 694.3 L461.9 695.7 L456.9 697.0 L451.8 698.3 L446.7 699.4 L441.4 700.3 L436.1 701.2 L430.7 701.9 L425.4 702.5 L420.0 702.9 L414.7 703.2 L409.5 703.3 L404.4 703.3 L399.4 703.2 L394.6 702.9 L389.9 702.5 L385.4 701.9 L381.1 701.2 L377.1 700.3 L373.3 699.4 L369.8 698.3 L366.6 697.0 L363.8 695.7 L361.2 694.3 L358.9 692.7 L357.0 691.1 L355.5 689.3 L354.3 687.5 L353.5 685.7 L353.1 683.8 L353.0 681.8 L353.3 679.8 L354.0 677.7 L355.1 675.6 L356.5 673.6 L358.2 671.5 L360.4 669.4 L362.8 667.4 L365.6 665.4 L368.7 663.4 L372.1 661.5 L375.8 659.6 L379.7 657.8 L383.9 656.1 L388.3 654.4 L392.9 652.9 L397.7 651.4 L402.6 650.1 L407.7 648.9 L412.9 647.8 L418.2 646.8 L423.5 646.0 L428.9 645.2 L434.2 644.7 L439.5 644.2 L444.8 644.0 L450.1 643.8 L455.2 643.8 L460.2 644.0 L465.0 644.2 L469.7 644.7 L474.2 645.2 L478.4 646.0 L482.5 646.8 L486.2 647.8 L489.7 648.9 L492.9 650.1 L495.8 651.4 L498.4 652.9 L500.6 654.4 L502.5 656.1 L504.1 657.8 L505.2 659.6 L506.0 661.5 L506.5 663.4 L506.6 665.4 L506.2 667.4 L505.6 669.4 L504.5 671.5 L503.1 673.6Z" stroke="#1ec85a"/>
<path d="M514.7 673.6 L512.6 676.0 L510.2 678.4 L507.3 680.7 L504.1 683.1 L500.5 685.4 L496.6 687.6 L492.3 689.8 L487.7 691.8 L482.9 693.8 L477.8 695.7 L472.5 697.5 L466.9 699.2 L461.2 700.7 L455.3 702.1 L449.3 703.4 L443.2 704.6 L437.1 705.5 L430.9 706.4 L424.7 707.0 L418.5 707.5 L412.4 707.9 L406.3 708.0 L400.4 708.0 L394.6 707.9 L389.0 707.5 L383.6 707.0 L378.4 706.4 L373.5 705.5 L368.8 704.6 L364.4 703.4 L360.4 702.1 L356.7 700.7 L353.3 699.2 L350.4 697.5 L347.8 695.7 L345.6 693.8 L343.8 691.8 L342.4 689.8 L341.5 687.6 L341.0 685.4 L340.9 683.1 L341.3 680.7 L342.1 678.4 L343.3 676.0 L344.9 673.6 L347.0 671.2 L349.4 668.8 L352.3 666.4 L355.5 664.1 L359.1 661.8 L363.0 659.5 L367.3 657.4 L371.8 655.3 L376.7 653.3 L381.8 651.4 L387.1 649.6 L392.6 647.9 L398.4 646.4 L404.2 645.0 L410.2 643.7 L416.3 642.6 L422.5 641.6 L428.7 640.8 L434.9 640.1 L441.1 639.6 L447.2 639.3 L453.2 639.1 L459.2 639.1 L465.0 639.3 L470.6 639.6 L476.0 640.1 L481.2 640.8 L486.1 641.6 L490.8 642.6 L495.1 643.7 L499.2 645.0 L502.9 646.4 L506.2 647.9 L509.2 649.6 L511.8 651.4 L514.0 653.3 L515.8 655.3 L517.1 657.4 L518.1 659.5 L518.6 661.8 L518.7 664.1 L518.3 666.4 L517.5 668.8 L516.3 671.2 L514.7 673.6Z" stroke="#1eb4be"/>
<path d="M524.8 673.6 L522.5 676.3 L519.8 678.9 L516.6 681.6 L513.0 684.2 L509.0 686.8 L504.6 689.3 L499.8 691.7 L494.7 694.0 L489.3 696.3 L483.6 698.4 L477.6 700.4 L471.4 702.3 L465.0 704.0 L458.4 705.6 L451.7 707.0 L444.8 708.3 L437.9 709.4 L431.0 710.3 L424.0 711.0 L417.1 711.6 L410.3 712.0 L403.5 712.1 L396.9 712.1 L390.4 712.0 L384.1 711.6 L378.1 711.0 L372.3 710.3 L366.7 709.4 L361.5 708.3 L356.6 707.0 L352.1 705.6 L347.9 704.0 L344.2 702.3 L340.8 700.4 L337.9 698.4 L335.5 696.3 L333.5 694.0 L332.0 691.7 L330.9 689.3 L330.3 686.8 L330.3 684.2 L330.7 681.6 L331.5 678.9 L332.9 676.3 L334.7 673.6 L337.0 670.9 L339.8 668.2 L343.0 665.5 L346.6 662.9 L350.6 660.4 L355.0 657.9 L359.8 655.4 L364.9 653.1 L370.3 650.9 L376.0 648.8 L382.0 646.8 L388.2 644.9 L394.6 643.1 L401.2 641.6 L407.9 640.1 L414.7 638.9 L421.6 637.8 L428.6 636.9 L435.5 636.1 L442.4 635.6 L449.3 635.2 L456.1 635.0 L462.7 635.0 L469.2 635.2 L475.4 635.6 L481.5 636.1 L487.3 636.9 L492.8 637.8 L498.1 638.9 L502.9 640.1 L507.5 641.6 L511.6 643.1 L515.4 644.9 L518.7 646.8 L521.6 648.8 L524.1 650.9 L526.1 653.1 L527.6 655.4 L528.6 657.9 L529.2 660.4 L529.3 662.9 L528.9 665.5 L528.0 668.2 L526.7 670.9 L524.8 673.6Z" stroke="#2878e6"/>
</g>
<g stroke="#000" stroke-opacity="0.58" stroke-width="0.55" stroke-linejoin="round">
<path d="M422.9 580.5 L426.2 581.5 L422.9 584.5 L419.5 583.5Z" fill="#1fffc4"/>
<path d="M419.5 579.6 L422.9 580.5 L419.5 583.5 L416.1 582.6Z" fill="#20ffa8"/>
<path d="M426.3 577.8 L429.6 578.8 L426.2 581.5 L422.9 580.5Z" fill="#1fff8c"/>
<path d="M416.0 578.9 L419.5 579.6 L416.1 582.6 L412.7 581.9Z" fill="#21ff8e"/>
<path d="M429.7 575.4 L433.0 576.4 L429.6 578.8 L426.3 577.8Z" fill="#20ff54"/>
<path d="M422.9 576.9 L426.3 577.8 L422.9 580.5 L419.5 579.6Z" fill="#20ff6e"/>
<path d="M412.6 578.4 L416.0 578.9 L412.7 581.9 L409.2 581.4Z" fill="#22ff76"/>
<path d="M419.4 576.2 L422.9 576.9 L419.5 579.6 L416.0 578.9Z" fill="#22ff53"/>
<path d="M426.3 574.5 L429.7 575.4 L426.3 577.8 L422.9 576.9Z" fill="#21ff36"/>
<path d="M433.2 573.3 L436.5 574.3 L433.0 576.4 L429.7 575.4Z" fill="#20ff21"/>
<path d="M422.9 573.8 L426.3 574.5 L422.9 576.9 L419.4 576.2Z" fill="#28ff22"/>
<path d="M409.1 578.1 L412.6 578.4 L409.2 581.4 L405.8 581.1Z" fill="#23ff61"/>
<path d="M416.0 575.7 L419.4 576.2 L416.0 578.9 L412.6 578.4Z" fill="#23ff3b"/>
<path d="M429.8 572.4 L433.2 573.3 L429.7 575.4 L426.3 574.5Z" fill="#3eff21"/>
<path d="M436.7 571.5 L440.0 572.6 L436.5 574.3 L433.2 573.3Z" fill="#4cff21"/>
<path d="M405.6 578.0 L409.1 578.1 L405.8 581.1 L402.2 581.0Z" fill="#24ff4f"/>
<path d="M419.4 573.4 L422.9 573.8 L419.4 576.2 L416.0 575.7Z" fill="#41ff23"/>
<path d="M426.3 571.8 L429.8 572.4 L426.3 574.5 L422.9 573.8Z" fill="#58ff23"/>
<path d="M440.2 570.1 L443.6 571.1 L440.0 572.6 L436.7 571.5Z" fill="#71ff21"/>
<path d="M412.5 575.4 L416.0 575.7 L412.6 578.4 L409.1 578.1Z" fill="#24ff26"/>
<path d="M433.3 570.7 L436.7 571.5 L433.2 573.3 L429.8 572.4Z" fill="#68ff22"/>
<path d="M402.0 578.1 L405.6 578.0 L402.2 581.0 L398.7 581.1Z" fill="#24ff3f"/>
<path d="M408.9 575.4 L412.5 575.4 L409.1 578.1 L405.6 578.0Z" fill="#33ff24"/>
<path d="M415.9 573.1 L419.4 573.4 L416.0 575.7 L412.5 575.4Z" fill="#55ff24"/>
<path d="M422.9 571.3 L426.3 571.8 L422.9 573.8 L419.4 573.4Z" fill="#6fff24"/>
<path d="M429.8 570.1 L433.3 570.7 L429.8 572.4 L426.3 571.8Z" fill="#81ff23"/>
<path d="M436.8 569.3 L440.2 570.1 L436.7 571.5 L433.3 570.7Z" fill="#8cff22"/>
<path d="M443.8 569.0 L447.2 570.0 L443.6 571.1 L440.2 570.1Z" fill="#90ff21"/>
<path d="M412.4 573.0 L415.9 573.1 L412.5 575.4 L408.9 575.4Z" fill="#66ff24"/>
<path d="M433.4 568.7 L436.8 569.3 L433.3 570.7 L429.8 570.1Z" fill="#a2ff24"/>
<path d="M398.4 578.4 L402.0 578.1 L398.7 581.1 L395.1 581.4Z" fill="#24ff33"/>
<path d="M405.4 575.5 L408.9 575.4 L405.6 578.0 L402.0 578.1Z" fill="#42ff24"/>
<path d="M419.4 571.1 L422.9 571.3 L419.4 573.4 L415.9 573.1Z" fill="#81ff24"/>
<path d="M426.4 569.6 L429.8 570.1 L426.3 571.8 L422.9 571.3Z" fill="#95ff24"/>
<path d="M440.4 568.2 L443.8 569.0 L440.2 570.1 L436.8 569.3Z" fill="#a8ff23"/>
<path d="M447.4 568.3 L450.8 569.2 L447.2 570.0 L443.8 569.0Z" fill="#a8ff22"/>
<path d="M394.8 579.0 L398.4 578.4 L395.1 581.4 L391.5 581.9Z" fill="#24ff2a"/>
<path d="M408.8 573.2 L412.4 573.0 L408.9 575.4 L405.4 575.5Z" fill="#73ff24"/>
<path d="M415.8 571.0 L419.4 571.1 L415.9 573.1 L412.4 573.0Z" fill="#90ff24"/>
<path d="M429.9 568.2 L433.4 568.7 L429.8 570.1 L426.4 569.6Z" fill="#b5ff24"/>
<path d="M437.0 567.6 L440.4 568.2 L436.8 569.3 L433.4 568.7Z" fill="#beff24"/>
<path d="M451.1 567.9 L454.4 568.8 L450.8 569.2 L447.4 568.3Z" fill="#bcff22"/>
<path d="M401.8 575.8 L405.4 575.5 L402.0 578.1 L398.4 578.4Z" fill="#4dff24"/>
<path d="M422.9 569.4 L426.4 569.6 L422.9 571.3 L419.4 571.1Z" fill="#a6ff24"/>
<path d="M444.0 567.5 L447.4 568.3 L443.8 569.0 L440.4 568.2Z" fill="#c0ff23"/>
<path d="M391.2 579.7 L394.8 579.0 L391.5 581.9 L387.8 582.6Z" fill="#24ff24"/>
<path d="M398.2 576.4 L401.8 575.8 L398.4 578.4 L394.8 579.0Z" fill="#55ff24"/>
<path d="M405.2 573.5 L408.8 573.2 L405.4 575.5 L401.8 575.8Z" fill="#7dff24"/>
<path d="M412.2 571.2 L415.8 571.0 L412.4 573.0 L408.8 573.2Z" fill="#9cff24"/>
<path d="M419.3 569.4 L422.9 569.4 L419.4 571.1 L415.8 571.0Z" fill="#b4ff24"/>
<path d="M426.4 568.0 L429.9 568.2 L426.4 569.6 L422.9 569.4Z" fill="#c5ff24"/>
<path d="M433.5 567.2 L437.0 567.6 L433.4 568.7 L429.9 568.2Z" fill="#cfff24"/>
<path d="M440.6 566.9 L444.0 567.5 L440.4 568.2 L437.0 567.6Z" fill="#d4ff24"/>
<path d="M447.7 567.1 L451.1 567.9 L447.4 568.3 L444.0 567.5Z" fill="#d2ff23"/>
<path d="M454.7 567.8 L458.1 568.7 L454.4 568.8 L451.1 567.9Z" fill="#caff22"/>
<path d="M401.6 574.1 L405.2 573.5 L401.8 575.8 L398.2 576.4Z" fill="#84ff24"/>
<path d="M422.9 568.0 L426.4 568.0 L422.9 569.4 L419.3 569.4Z" fill="#d2ff24"/>
<path d="M444.2 566.6 L447.7 567.1 L444.0 567.5 L440.6 566.9Z" fill="#e5ff24"/>
<path d="M387.5 580.6 L391.2 579.7 L387.8 582.6 L384.2 583.5Z" fill="#27ff24"/>
<path d="M394.5 577.1 L398.2 576.4 L394.8 579.0 L391.2 579.7Z" fill="#5bff24"/>
<path d="M408.6 571.6 L412.2 571.2 L408.8 573.2 L405.2 573.5Z" fill="#a6ff24"/>
<path d="M415.7 569.5 L419.3 569.4 L415.8 571.0 L412.2 571.2Z" fill="#bfff24"/>
<path d="M430.0 567.0 L433.5 567.2 L429.9 568.2 L426.4 568.0Z" fill="#deff24"/>
<path d="M437.1 566.5 L440.6 566.9 L437.0 567.6 L433.5 567.2Z" fill="#e5ff24"/>
<path d="M451.3 567.1 L454.7 567.8 L451.1 567.9 L447.7 567.1Z" fill="#e0ff23"/>
<path d="M458.4 568.1 L461.8 569.0 L458.1 568.7 L454.7 567.8Z" fill="#d5ff21"/>
<path d="M383.8 581.8 L387.5 580.6 L384.2 583.5 L380.5 584.6Z" fill="#27ff24"/>
<path d="M397.9 574.9 L401.6 574.1 L398.2 576.4 L394.5 577.1Z" fill="#89ff24"/>
<path d="M405.0 572.1 L408.6 571.6 L405.2 573.5 L401.6 574.1Z" fill="#acff24"/>
<path d="M419.3 568.2 L422.9 568.0 L419.3 569.4 L415.7 569.5Z" fill="#dcff24"/>
<path d="M426.4 567.0 L430.0 567.0 L426.4 568.0 L422.9 568.0Z" fill="#ebff24"/>
<path d="M440.8 566.2 L444.2 566.6 L440.6 566.9 L437.1 566.5Z" fill="#f6ff24"/>
<path d="M447.9 566.6 L451.3 567.1 L447.7 567.1 L444.2 566.6Z" fill="#f3ff24"/>
<path d="M462.2 568.8 L465.5 569.7 L461.8 569.0 L458.4 568.1Z" fill="#daff21"/>
<path d="M390.8 578.1 L394.5 577.1 L391.2 579.7 L387.5 580.6Z" fill="#5dff24"/>
<path d="M412.1 569.9 L415.7 569.5 L412.2 571.2 L408.6 571.6Z" fill="#c8ff24"/>
<path d="M433.6 566.4 L437.1 566.5 L433.5 567.2 L430.0 567.0Z" fill="#f3ff24"/>
<path d="M455.1 567.4 L458.4 568.1 L454.7 567.8 L451.3 567.1Z" fill="#eaff23"/>
<path d="M380.0 583.2 L383.8 581.8 L380.5 584.6 L376.8 586.0Z" fill="#24ff24"/>
<path d="M387.1 579.3 L390.8 578.1 L387.5 580.6 L383.8 581.8Z" fill="#5dff24"/>
<path d="M394.2 575.9 L397.9 574.9 L394.5 577.1 L390.8 578.1Z" fill="#8bff24"/>
<path d="M401.3 572.9 L405.0 572.1 L401.6 574.1 L397.9 574.9Z" fill="#b0ff24"/>
<path d="M408.5 570.5 L412.1 569.9 L408.6 571.6 L405.0 572.1Z" fill="#ceff24"/>
<path d="M415.7 568.7 L419.3 568.2 L415.7 569.5 L412.1 569.9Z" fill="#e4ff24"/>
<path d="M422.9 567.3 L426.4 567.0 L422.9 568.0 L419.3 568.2Z" fill="#f5ff24"/>
<path d="M430.0 566.4 L433.6 566.4 L430.0 567.0 L426.4 567.0Z" fill="#ffff24"/>
<path d="M437.2 566.1 L440.8 566.2 L437.1 566.5 L433.6 566.4Z" fill="#fffa24"/>
<path d="M444.4 566.2 L447.9 566.6 L444.2 566.6 L440.8 566.2Z" fill="#fffb24"/>
<path d="M451.6 566.9 L455.1 567.4 L451.3 567.1 L447.9 566.6Z" fill="#fcff24"/>
<path d="M458.8 568.1 L462.2 568.8 L458.4 568.1 L455.1 567.4Z" fill="#efff22"/>
<path d="M465.9 569.8 L469.3 570.7 L465.5 569.7 L462.2 568.8Z" fill="#dcff21"/>
<path d="M376.3 584.8 L380.0 583.2 L376.8 586.0 L373.0 587.6Z" fill="#24ff2a"/>
<path d="M383.4 580.7 L387.1 579.3 L383.8 581.8 L380.0 583.2Z" fill="#59ff24"/>
<path d="M390.5 577.1 L394.2 575.9 L390.8 578.1 L387.1 579.3Z" fill="#8aff24"/>
<path d="M412.0 569.3 L415.7 568.7 L412.1 569.9 L408.5 570.5Z" fill="#eaff24"/>
<path d="M433.7 566.1 L437.2 566.1 L433.6 566.4 L430.0 566.4Z" fill="#ffef24"/>
<path d="M455.4 567.7 L458.8 568.1 L455.1 567.4 L451.6 566.9Z" fill="#fffd24"/>
<path d="M462.6 569.2 L465.9 569.8 L462.2 568.8 L458.8 568.1Z" fill="#f1ff22"/>
<path d="M469.7 571.3 L473.1 572.1 L469.3 570.7 L465.9 569.8Z" fill="#daff20"/>
<path d="M397.6 574.0 L401.3 572.9 L397.9 574.9 L394.2 575.9Z" fill="#b2ff24"/>
<path d="M404.8 571.4 L408.5 570.5 L405.0 572.1 L401.3 572.9Z" fill="#d1ff24"/>
<path d="M419.2 567.7 L422.9 567.3 L419.3 568.2 L415.7 568.7Z" fill="#fcff24"/>
<path d="M426.5 566.7 L430.0 566.4 L426.4 567.0 L422.9 567.3Z" fill="#fff624"/>
<path d="M440.9 566.1 L444.4 566.2 L440.8 566.2 L437.2 566.1Z" fill="#ffee24"/>
<path d="M448.2 566.6 L451.6 566.9 L447.9 566.6 L444.4 566.2Z" fill="#fff324"/>
<path d="M386.7 578.5 L390.5 577.1 L387.1 579.3 L383.4 580.7Z" fill="#87ff24"/>
<path d="M459.1 568.8 L462.6 569.2 L458.8 568.1 L455.4 567.7Z" fill="#fffc23"/>
<path d="M372.5 586.6 L376.3 584.8 L373.0 587.6 L369.2 589.4Z" fill="#24ff34"/>
<path d="M393.9 575.2 L397.6 574.0 L394.2 575.9 L390.5 577.1Z" fill="#b0ff24"/>
<path d="M408.4 570.1 L412.0 569.3 L408.5 570.5 L404.8 571.4Z" fill="#edff24"/>
<path d="M415.6 568.4 L419.2 567.7 L415.7 568.7 L412.0 569.3Z" fill="#fffd24"/>
<path d="M430.1 566.4 L433.7 566.1 L430.0 566.4 L426.5 566.7Z" fill="#ffe624"/>
<path d="M437.4 566.2 L440.9 566.1 L437.2 566.1 L433.7 566.1Z" fill="#ffe324"/>
<path d="M451.9 567.4 L455.4 567.7 L451.6 566.9 L448.2 566.6Z" fill="#ffee24"/>
<path d="M473.5 573.0 L476.9 573.8 L473.1 572.1 L469.7 571.3Z" fill="#d3ff1f"/>
<path d="M379.6 582.3 L383.4 580.7 L380.0 583.2 L376.3 584.8Z" fill="#53ff24"/>
<path d="M401.1 572.4 L404.8 571.4 L401.3 572.9 L397.6 574.0Z" fill="#d2ff24"/>
<path d="M422.9 567.1 L426.5 566.7 L422.9 567.3 L419.2 567.7Z" fill="#ffee24"/>
<path d="M444.6 566.6 L448.2 566.6 L444.4 566.2 L440.9 566.1Z" fill="#ffe524"/>
<path d="M466.4 570.6 L469.7 571.3 L465.9 569.8 L462.6 569.2Z" fill="#eeff21"/>
<path d="M368.7 588.7 L372.5 586.6 L369.2 589.4 L365.4 591.4Z" fill="#24ff40"/>
<path d="M375.8 584.2 L379.6 582.3 L376.3 584.8 L372.5 586.6Z" fill="#49ff24"/>
<path d="M383.0 580.2 L386.7 578.5 L383.4 580.7 L379.6 582.3Z" fill="#80ff24"/>
<path d="M390.2 576.7 L393.9 575.2 L390.5 577.1 L386.7 578.5Z" fill="#adff24"/>
<path d="M397.4 573.7 L401.1 572.4 L397.6 574.0 L393.9 575.2Z" fill="#d1ff24"/>
<path d="M404.6 571.2 L408.4 570.1 L404.8 571.4 L401.1 572.4Z" fill="#edff24"/>
<path d="M411.9 569.3 L415.6 568.4 L412.0 569.3 L408.4 570.1Z" fill="#fffa24"/>
<path d="M419.2 567.8 L422.9 567.1 L419.2 567.7 L415.6 568.4Z" fill="#ffea24"/>
<path d="M426.5 566.9 L430.1 566.4 L426.5 566.7 L422.9 567.1Z" fill="#ffdf24"/>
<path d="M433.8 566.5 L437.4 566.2 L433.7 566.1 L430.1 566.4Z" fill="#ffda24"/>
<path d="M441.1 566.7 L444.6 566.6 L440.9 566.1 L437.4 566.2Z" fill="#ffdb24"/>
<path d="M448.4 567.3 L451.9 567.4 L448.2 566.6 L444.6 566.6Z" fill="#ffe124"/>
<path d="M455.7 568.5 L459.1 568.8 L455.4 567.7 L451.9 567.4Z" fill="#ffed24"/>
<path d="M462.9 570.2 L466.4 570.6 L462.6 569.2 L459.1 568.8Z" fill="#ffff23"/>
<path d="M470.2 572.5 L473.5 573.0 L469.7 571.3 L466.4 570.6Z" fill="#e7ff21"/>
<path d="M477.4 575.2 L480.7 576.0 L476.9 573.8 L473.5 573.0Z" fill="#c8ff1e"/>
<path d="M364.8 591.0 L368.7 588.7 L365.4 591.4 L361.6 593.7Z" fill="#24ff50"/>
<path d="M372.0 586.3 L375.8 584.2 L372.5 586.6 L368.7 588.7Z" fill="#3dff24"/>
<path d="M379.2 582.1 L383.0 580.2 L379.6 582.3 L375.8 584.2Z" fill="#77ff24"/>
<path d="M386.4 578.4 L390.2 576.7 L386.7 578.5 L383.0 580.2Z" fill="#a6ff24"/>
<path d="M393.6 575.2 L397.4 573.7 L393.9 575.2 L390.2 576.7Z" fill="#cdff24"/>
<path d="M400.9 572.5 L404.6 571.2 L401.1 572.4 L397.4 573.7Z" fill="#ecff24"/>
<path d="M422.9 567.7 L426.5 566.9 L422.9 567.1 L419.2 567.8Z" fill="#ffdb24"/>
<path d="M444.9 567.5 L448.4 567.3 L444.6 566.6 L441.1 566.7Z" fill="#ffd724"/>
<path d="M452.2 568.5 L455.7 568.5 L451.9 567.4 L448.4 567.3Z" fill="#ffe124"/>
<path d="M459.5 570.1 L462.9 570.2 L459.1 568.8 L455.7 568.5Z" fill="#fff024"/>
<path d="M466.8 572.1 L470.2 572.5 L466.4 570.6 L462.9 570.2Z" fill="#f8ff22"/>
<path d="M474.0 574.7 L477.4 575.2 L473.5 573.0 L470.2 572.5Z" fill="#dcff20"/>
<path d="M481.2 577.8 L484.6 578.5 L480.7 576.0 L477.4 575.2Z" fill="#b8ff1e"/>
<path d="M408.2 570.4 L411.9 569.3 L408.4 570.1 L404.6 571.2Z" fill="#fffa24"/>
<path d="M415.5 568.8 L419.2 567.8 L415.6 568.4 L411.9 569.3Z" fill="#ffe724"/>
<path d="M430.2 567.1 L433.8 566.5 L430.1 566.4 L426.5 566.9Z" fill="#ffd424"/>
<path d="M437.5 567.0 L441.1 566.7 L437.4 566.2 L433.8 566.5Z" fill="#ffd224"/>
<path d="M375.3 584.2 L379.2 582.1 L375.8 584.2 L372.0 586.3Z" fill="#6bff24"/>
<path d="M397.1 574.1 L400.9 572.5 L397.4 573.7 L393.6 575.2Z" fill="#e8ff24"/>
<path d="M448.6 568.7 L452.2 568.5 L448.4 567.3 L444.9 567.5Z" fill="#ffd724"/>
<path d="M470.6 574.4 L474.0 574.7 L470.2 572.5 L466.8 572.1Z" fill="#edff21"/>
<path d="M361.0 593.5 L364.8 591.0 L361.6 593.7 L357.7 596.1Z" fill="#24ff63"/>
<path d="M382.6 580.3 L386.4 578.4 L383.0 580.2 L379.2 582.1Z" fill="#9dff24"/>
<path d="M404.5 571.7 L408.2 570.4 L404.6 571.2 L400.9 572.5Z" fill="#fffc24"/>
<path d="M419.2 568.6 L422.9 567.7 L419.2 567.8 L415.5 568.8Z" fill="#ffd924"/>
<path d="M426.5 567.8 L430.2 567.1 L426.5 566.9 L422.9 567.7Z" fill="#ffd024"/>
<path d="M441.3 567.9 L444.9 567.5 L441.1 566.7 L437.5 567.0Z" fill="#ffcf24"/>
<path d="M463.3 572.0 L466.8 572.1 L462.9 570.2 L459.5 570.1Z" fill="#fff823"/>
<path d="M485.1 580.7 L488.4 581.4 L484.6 578.5 L481.2 577.8Z" fill="#a3ff1d"/>
<path d="M368.1 588.6 L372.0 586.3 L368.7 588.7 L364.8 591.0Z" fill="#2dff24"/>
<path d="M389.8 576.9 L393.6 575.2 L390.2 576.7 L386.4 578.4Z" fill="#c6ff24"/>
<path d="M456.0 570.1 L459.5 570.1 L455.7 568.5 L452.2 568.5Z" fill="#ffe424"/>
<path d="M477.9 577.3 L481.2 577.8 L477.4 575.2 L474.0 574.7Z" fill="#ccff1f"/>
<path d="M411.8 569.9 L415.5 568.8 L411.9 569.3 L408.2 570.4Z" fill="#ffe724"/>
<path d="M433.9 567.6 L437.5 567.0 L433.8 566.5 L430.2 567.1Z" fill="#ffcc24"/>
<path d="M371.5 586.5 L375.3 584.2 L372.0 586.3 L368.1 588.6Z" fill="#5cff24"/>
<path d="M378.7 582.5 L382.6 580.3 L379.2 582.1 L375.3 584.2Z" fill="#92ff24"/>
<path d="M393.3 575.8 L397.1 574.1 L393.6 575.2 L389.8 576.9Z" fill="#e1ff24"/>
<path d="M400.7 573.3 L404.5 571.7 L400.9 572.5 L397.1 574.1Z" fill="#feff24"/>
<path d="M445.1 569.2 L448.6 568.7 L444.9 567.5 L441.3 567.9Z" fill="#ffcf24"/>
<path d="M452.4 570.3 L456.0 570.1 L452.2 568.5 L448.6 568.7Z" fill="#ffdb24"/>
<path d="M467.2 574.2 L470.6 574.4 L466.8 572.1 L463.3 572.0Z" fill="#fbff22"/>
<path d="M474.5 577.0 L477.9 577.3 L474.0 574.7 L470.6 574.4Z" fill="#ddff20"/>
<path d="M357.1 596.2 L361.0 593.5 L357.7 596.1 L353.9 598.9Z" fill="#24ff79"/>
<path d="M364.2 591.1 L368.1 588.6 L364.8 591.0 L361.0 593.5Z" fill="#24ff2d"/>
<path d="M386.0 578.9 L389.8 576.9 L386.4 578.4 L382.6 580.3Z" fill="#bdff24"/>
<path d="M408.1 571.3 L411.8 569.9 L408.2 570.4 L404.5 571.7Z" fill="#ffea24"/>
<path d="M415.5 569.8 L419.2 568.6 L415.5 568.8 L411.8 569.9Z" fill="#ffd924"/>
<path d="M422.9 568.8 L426.5 567.8 L422.9 567.7 L419.2 568.6Z" fill="#ffce24"/>
<path d="M430.3 568.4 L433.9 567.6 L430.2 567.1 L426.5 567.8Z" fill="#ffc924"/>
<path d="M437.7 568.5 L441.3 567.9 L437.5 567.0 L433.9 567.6Z" fill="#ffc924"/>
<path d="M459.8 572.0 L463.3 572.0 L459.5 570.1 L456.0 570.1Z" fill="#ffec24"/>
<path d="M481.8 580.3 L485.1 580.7 L481.2 577.8 L477.9 577.3Z" fill="#b7ff1e"/>
<path d="M489.0 584.0 L492.3 584.6 L488.4 581.4 L485.1 580.7Z" fill="#88ff1b"/>
<path d="M353.2 599.2 L357.1 596.2 L353.9 598.9 L350.0 601.8Z" fill="#24ff91"/>
<path d="M367.6 589.1 L371.5 586.5 L368.1 588.6 L364.2 591.1Z" fill="#49ff24"/>
<path d="M389.5 577.8 L393.3 575.8 L389.8 576.9 L386.0 578.9Z" fill="#d8ff24"/>
<path d="M411.7 571.2 L415.5 569.8 L411.8 569.9 L408.1 571.3Z" fill="#ffdc24"/>
<path d="M434.0 569.4 L437.7 568.5 L433.9 567.6 L430.3 568.4Z" fill="#ffc624"/>
<path d="M456.3 572.3 L459.8 572.0 L456.0 570.1 L452.4 570.3Z" fill="#ffe224"/>
<path d="M478.4 580.0 L481.8 580.3 L477.9 577.3 L474.5 577.0Z" fill="#c8ff1f"/>
<path d="M492.9 587.7 L496.2 588.3 L492.3 584.6 L489.0 584.0Z" fill="#67ff1a"/>
<path d="M374.9 584.8 L378.7 582.5 L375.3 584.2 L371.5 586.5Z" fill="#83ff24"/>
<path d="M382.2 581.1 L386.0 578.9 L382.6 580.3 L378.7 582.5Z" fill="#b2ff24"/>
<path d="M396.9 575.1 L400.7 573.3 L397.1 574.1 L393.3 575.8Z" fill="#f7ff24"/>
<path d="M404.3 572.9 L408.1 571.3 L404.5 571.7 L400.7 573.3Z" fill="#ffee24"/>
<path d="M441.4 569.8 L445.1 569.2 L441.3 567.9 L437.7 568.5Z" fill="#ffca24"/>
<path d="M448.9 570.8 L452.4 570.3 L448.6 568.7 L445.1 569.2Z" fill="#ffd324"/>
<path d="M463.7 574.4 L467.2 574.2 L463.3 572.0 L459.8 572.0Z" fill="#fff723"/>
<path d="M471.0 576.9 L474.5 577.0 L470.6 574.4 L467.2 574.2Z" fill="#ebff21"/>
<path d="M360.3 593.9 L364.2 591.1 L361.0 593.5 L357.1 596.2Z" fill="#24ff44"/>
<path d="M419.1 570.1 L422.9 568.8 L419.2 568.6 L415.5 569.8Z" fill="#ffcf24"/>
<path d="M426.6 569.4 L430.3 568.4 L426.5 567.8 L422.9 568.8Z" fill="#ffc724"/>
<path d="M485.7 583.6 L489.0 584.0 L485.1 580.7 L481.8 580.3Z" fill="#9dff1d"/>
<path d="M385.7 580.1 L389.5 577.8 L386.0 578.9 L382.2 581.1Z" fill="#ccff24"/>
<path d="M407.9 572.8 L411.7 571.2 L408.1 571.3 L404.3 572.9Z" fill="#ffe124"/>
<path d="M437.8 570.7 L441.4 569.8 L437.7 568.5 L434.0 569.4Z" fill="#ffc624"/>
<path d="M460.1 574.7 L463.7 574.4 L459.8 572.0 L456.3 572.3Z" fill="#ffee24"/>
<path d="M349.2 602.4 L353.2 599.2 L350.0 601.8 L346.0 605.0Z" fill="#24ffac"/>
<path d="M356.4 596.9 L360.3 593.9 L357.1 596.2 L353.2 599.2Z" fill="#24ff5d"/>
<path d="M363.7 592.0 L367.6 589.1 L364.2 591.1 L360.3 593.9Z" fill="#33ff24"/>
<path d="M371.0 587.5 L374.9 584.8 L371.5 586.5 L367.6 589.1Z" fill="#71ff24"/>
<path d="M393.1 577.1 L396.9 575.1 L393.3 575.8 L389.5 577.8Z" fill="#eeff24"/>
<path d="M415.4 571.5 L419.1 570.1 L415.5 569.8 L411.7 571.2Z" fill="#ffd224"/>
<path d="M430.3 570.4 L434.0 569.4 L430.3 568.4 L426.6 569.4Z" fill="#ffc524"/>
<path d="M452.7 572.8 L456.3 572.3 L452.4 570.3 L448.9 570.8Z" fill="#ffdb24"/>
<path d="M474.9 580.0 L478.4 580.0 L474.5 577.0 L471.0 576.9Z" fill="#d7ff20"/>
<path d="M482.3 583.4 L485.7 583.6 L481.8 580.3 L478.4 580.0Z" fill="#afff1e"/>
<path d="M489.6 587.4 L492.9 587.7 L489.0 584.0 L485.7 583.6Z" fill="#7dff1b"/>
<path d="M496.8 591.9 L500.1 592.4 L496.2 588.3 L492.9 587.7Z" fill="#3fff19"/>
<path d="M378.3 583.5 L382.2 581.1 L378.7 582.5 L374.9 584.8Z" fill="#a3ff24"/>
<path d="M400.5 574.7 L404.3 572.9 L400.7 573.3 L396.9 575.1Z" fill="#fff524"/>
<path d="M445.3 571.5 L448.9 570.8 L445.1 569.2 L441.4 569.8Z" fill="#ffce24"/>
<path d="M467.6 577.1 L471.0 576.9 L467.2 574.2 L463.7 574.4Z" fill="#f7ff22"/>
<path d="M422.9 570.7 L426.6 569.4 L422.9 568.8 L419.1 570.1Z" fill="#ffc824"/>
<path d="M359.7 595.0 L363.7 592.0 L360.3 593.9 L356.4 596.9Z" fill="#24ff2e"/>
<path d="M486.2 587.3 L489.6 587.4 L485.7 583.6 L482.3 583.4Z" fill="#8fff1c"/>
<path d="M381.8 582.5 L385.7 580.1 L382.2 581.1 L378.3 583.5Z" fill="#beff24"/>
<path d="M389.2 579.4 L393.1 577.1 L389.5 577.8 L385.7 580.1Z" fill="#e2ff24"/>
<path d="M404.1 574.7 L407.9 572.8 L404.3 572.9 L400.5 574.7Z" fill="#ffe824"/>
<path d="M411.6 573.2 L415.4 571.5 L411.7 571.2 L407.9 572.8Z" fill="#ffd724"/>
<path d="M434.1 571.8 L437.8 570.7 L434.0 569.4 L430.3 570.4Z" fill="#ffc624"/>
<path d="M441.6 572.4 L445.3 571.5 L441.4 569.8 L437.8 570.7Z" fill="#ffcb24"/>
<path d="M456.6 575.2 L460.1 574.7 L456.3 572.3 L452.7 572.8Z" fill="#ffe724"/>
<path d="M464.0 577.4 L467.6 577.1 L463.7 574.4 L460.1 574.7Z" fill="#fffe23"/>
<path d="M345.3 605.9 L349.2 602.4 L346.0 605.0 L342.1 608.4Z" fill="#24ffc7"/>
<path d="M352.5 600.2 L356.4 596.9 L353.2 599.2 L349.2 602.4Z" fill="#24ff7a"/>
<path d="M367.0 590.3 L371.0 587.5 L367.6 589.1 L363.7 592.0Z" fill="#5cff24"/>
<path d="M374.4 586.2 L378.3 583.5 L374.9 584.8 L371.0 587.5Z" fill="#92ff24"/>
<path d="M396.6 576.8 L400.5 574.7 L396.9 575.1 L393.1 577.1Z" fill="#ffff24"/>
<path d="M419.1 572.2 L422.9 570.7 L419.1 570.1 L415.4 571.5Z" fill="#ffcb24"/>
<path d="M426.6 571.7 L430.3 570.4 L426.6 569.4 L422.9 570.7Z" fill="#ffc624"/>
<path d="M449.1 573.5 L452.7 572.8 L448.9 570.8 L445.3 571.5Z" fill="#ffd724"/>
<path d="M471.5 580.2 L474.9 580.0 L471.0 576.9 L467.6 577.1Z" fill="#e2ff21"/>
<path d="M478.9 583.5 L482.3 583.4 L478.4 580.0 L474.9 580.0Z" fill="#bdff1f"/>
<path d="M493.5 591.6 L496.8 591.9 L492.9 587.7 L489.6 587.4Z" fill="#56ff1a"/>
<path d="M500.8 596.4 L504.1 596.8 L500.1 592.4 L496.8 591.9Z" fill="#18fb21"/>
<path d="M341.3 609.6 L345.3 605.9 L342.1 608.4 L338.1 612.0Z" fill="#24ffe2"/>
<path d="M355.8 598.3 L359.7 595.0 L356.4 596.9 L352.5 600.2Z" fill="#24ff4b"/>
<path d="M363.1 593.4 L367.0 590.3 L363.7 592.0 L359.7 595.0Z" fill="#43ff24"/>
<path d="M377.9 585.2 L381.8 582.5 L378.3 583.5 L374.4 586.2Z" fill="#adff24"/>
<path d="M400.3 576.8 L404.1 574.7 L400.5 574.7 L396.6 576.8Z" fill="#fff224"/>
<path d="M422.9 573.2 L426.6 571.7 L422.9 570.7 L419.1 572.2Z" fill="#ffc924"/>
<path d="M445.5 574.5 L449.1 573.5 L445.3 571.5 L441.6 572.4Z" fill="#ffd424"/>
<path d="M467.9 580.6 L471.5 580.2 L467.6 577.1 L464.0 577.4Z" fill="#ebff22"/>
<path d="M482.8 587.3 L486.2 587.3 L482.3 583.4 L478.9 583.5Z" fill="#9eff1d"/>
<path d="M490.1 591.5 L493.5 591.6 L489.6 587.4 L486.2 587.3Z" fill="#69ff1b"/>
<path d="M504.7 601.3 L508.0 601.7 L504.1 596.8 L500.8 596.4Z" fill="#17f353"/>
<path d="M385.3 581.9 L389.2 579.4 L385.7 580.1 L381.8 582.5Z" fill="#d4ff24"/>
<path d="M392.8 579.1 L396.6 576.8 L393.1 577.1 L389.2 579.4Z" fill="#f3ff24"/>
<path d="M407.8 575.1 L411.6 573.2 L407.9 572.8 L404.1 574.7Z" fill="#ffde24"/>
<path d="M415.3 573.9 L419.1 572.2 L415.4 571.5 L411.6 573.2Z" fill="#ffd124"/>
<path d="M430.4 573.1 L434.1 571.8 L430.3 570.4 L426.6 571.7Z" fill="#ffc724"/>
<path d="M437.9 573.5 L441.6 572.4 L437.8 570.7 L434.1 571.8Z" fill="#ffcb24"/>
<path d="M453.0 576.0 L456.6 575.2 L452.7 572.8 L449.1 573.5Z" fill="#ffe324"/>
<path d="M460.5 578.0 L464.0 577.4 L460.1 574.7 L456.6 575.2Z" fill="#fff824"/>
<path d="M348.5 603.7 L352.5 600.2 L349.2 602.4 L345.3 605.9Z" fill="#24ff98"/>
<path d="M370.5 589.1 L374.4 586.2 L371.0 587.5 L367.0 590.3Z" fill="#7eff24"/>
<path d="M475.4 583.7 L478.9 583.5 L474.9 580.0 L471.5 580.2Z" fill="#c9ff20"/>
<path d="M497.5 596.1 L500.8 596.4 L496.8 591.9 L493.5 591.6Z" fill="#27ff19"/>
<path d="M337.3 613.5 L341.3 609.6 L338.1 612.0 L334.2 615.9Z" fill="#24fffc"/>
<path d="M508.7 606.6 L511.9 606.9 L508.0 601.7 L504.7 601.3Z" fill="#16ea86"/>
<path d="M396.4 579.2 L400.3 576.8 L396.6 576.8 L392.8 579.1Z" fill="#fffe24"/>
<path d="M419.1 575.0 L422.9 573.2 L419.1 572.2 L415.3 573.9Z" fill="#ffcf24"/>
<path d="M426.6 574.7 L430.4 573.1 L426.6 571.7 L422.9 573.2Z" fill="#ffcb24"/>
<path d="M449.3 577.0 L453.0 576.0 L449.1 573.5 L445.5 574.5Z" fill="#ffe124"/>
<path d="M344.5 607.4 L348.5 603.7 L345.3 605.9 L341.3 609.6Z" fill="#24ffb8"/>
<path d="M351.8 601.9 L355.8 598.3 L352.5 600.2 L348.5 603.7Z" fill="#24ff6b"/>
<path d="M359.1 596.8 L363.1 593.4 L359.7 595.0 L355.8 598.3Z" fill="#26ff24"/>
<path d="M366.5 592.2 L370.5 589.1 L367.0 590.3 L363.1 593.4Z" fill="#65ff24"/>
<path d="M373.9 588.2 L377.9 585.2 L374.4 586.2 L370.5 589.1Z" fill="#99ff24"/>
<path d="M381.4 584.6 L385.3 581.9 L381.8 582.5 L377.9 585.2Z" fill="#c3ff24"/>
<path d="M403.9 577.3 L407.8 575.1 L404.1 574.7 L400.3 576.8Z" fill="#ffe824"/>
<path d="M441.8 575.7 L445.5 574.5 L441.6 572.4 L437.9 573.5Z" fill="#ffd424"/>
<path d="M464.4 581.3 L467.9 580.6 L464.0 577.4 L460.5 578.0Z" fill="#f2ff23"/>
<path d="M471.9 584.2 L475.4 583.7 L471.5 580.2 L467.9 580.6Z" fill="#d2ff21"/>
<path d="M479.3 587.6 L482.8 587.3 L478.9 583.5 L475.4 583.7Z" fill="#aaff1e"/>
<path d="M486.7 591.6 L490.1 591.5 L486.2 587.3 L482.8 587.3Z" fill="#79ff1c"/>
<path d="M494.1 596.1 L497.5 596.1 L493.5 591.6 L490.1 591.5Z" fill="#3bff1a"/>
<path d="M501.4 601.1 L504.7 601.3 L500.8 596.4 L497.5 596.1Z" fill="#18f93f"/>
<path d="M388.9 581.7 L392.8 579.1 L389.2 579.4 L385.3 581.9Z" fill="#e5ff24"/>
<path d="M411.5 575.9 L415.3 573.9 L411.6 573.2 L407.8 575.1Z" fill="#ffd924"/>
<path d="M434.2 574.9 L437.9 573.5 L434.1 571.8 L430.4 573.1Z" fill="#ffcd24"/>
<path d="M456.9 578.9 L460.5 578.0 L456.6 575.2 L453.0 576.0Z" fill="#fff424"/>
<path d="M340.5 611.4 L344.5 607.4 L341.3 609.6 L337.3 613.5Z" fill="#24ffd8"/>
<path d="M347.8 605.6 L351.8 601.9 L348.5 603.7 L344.5 607.4Z" fill="#24ff8e"/>
<path d="M370.0 591.4 L373.9 588.2 L370.5 589.1 L366.5 592.2Z" fill="#82ff24"/>
<path d="M422.9 576.5 L426.6 574.7 L422.9 573.2 L419.1 575.0Z" fill="#ffd124"/>
<path d="M475.8 588.1 L479.3 587.6 L475.4 583.7 L471.9 584.2Z" fill="#b4ff1f"/>
<path d="M498.1 601.1 L501.4 601.1 L497.5 596.1 L494.1 596.1Z" fill="#19ff2d"/>
<path d="M505.4 606.4 L508.7 606.6 L504.7 601.3 L501.4 601.1Z" fill="#17f175"/>
<path d="M392.5 581.8 L396.4 579.2 L392.8 579.1 L388.9 581.7Z" fill="#f2ff24"/>
<path d="M400.1 579.7 L403.9 577.3 L400.3 576.8 L396.4 579.2Z" fill="#fff524"/>
<path d="M415.3 577.0 L419.1 575.0 L415.3 573.9 L411.5 575.9Z" fill="#ffd724"/>
<path d="M430.5 576.5 L434.2 574.9 L430.4 573.1 L426.6 574.7Z" fill="#ffd124"/>
<path d="M445.7 578.3 L449.3 577.0 L445.5 574.5 L441.8 575.7Z" fill="#ffe124"/>
<path d="M453.2 579.9 L456.9 578.9 L453.0 576.0 L449.3 577.0Z" fill="#fff224"/>
<path d="M355.1 600.4 L359.1 596.8 L355.8 598.3 L351.8 601.9Z" fill="#24ff42"/>
<path d="M362.5 595.6 L366.5 592.2 L363.1 593.4 L359.1 596.8Z" fill="#4aff24"/>
<path d="M377.5 587.6 L381.4 584.6 L377.9 585.2 L373.9 588.2Z" fill="#afff24"/>
<path d="M385.0 584.4 L388.9 581.7 L385.3 581.9 L381.4 584.6Z" fill="#d4ff24"/>
<path d="M407.7 578.1 L411.5 575.9 L407.8 575.1 L403.9 577.3Z" fill="#ffe324"/>
<path d="M438.1 577.1 L441.8 575.7 L437.9 573.5 L434.2 574.9Z" fill="#ffd624"/>
<path d="M460.8 582.1 L464.4 581.3 L460.5 578.0 L456.9 578.9Z" fill="#f6ff24"/>
<path d="M468.3 584.9 L471.9 584.2 L467.9 580.6 L464.4 581.3Z" fill="#d8ff21"/>
<path d="M483.3 591.9 L486.7 591.6 L482.8 587.3 L479.3 587.6Z" fill="#85ff1d"/>
<path d="M490.7 596.3 L494.1 596.1 L490.1 591.5 L486.7 591.6Z" fill="#4bff1b"/>
<path d="M343.8 609.7 L347.8 605.6 L344.5 607.4 L340.5 611.4Z" fill="#24ffb1"/>
<path d="M502.0 606.5 L505.4 606.4 L501.4 601.1 L498.1 601.1Z" fill="#18f766"/>
<path d="M351.1 604.2 L355.1 600.4 L351.8 601.9 L347.8 605.6Z" fill="#24ff66"/>
<path d="M366.0 594.8 L370.0 591.4 L366.5 592.2 L362.5 595.6Z" fill="#66ff24"/>
<path d="M373.5 590.9 L377.5 587.6 L373.9 588.2 L370.0 591.4Z" fill="#98ff24"/>
<path d="M388.6 584.6 L392.5 581.8 L388.9 581.7 L385.0 584.4Z" fill="#e1ff24"/>
<path d="M411.4 579.3 L415.3 577.0 L411.5 575.9 L407.7 578.1Z" fill="#ffe224"/>
<path d="M419.0 578.6 L422.9 576.5 L419.1 575.0 L415.3 577.0Z" fill="#ffda24"/>
<path d="M426.7 578.4 L430.5 576.5 L426.6 574.7 L422.9 576.5Z" fill="#ffd724"/>
<path d="M434.3 578.8 L438.1 577.1 L434.2 574.9 L430.5 576.5Z" fill="#ffdb24"/>
<path d="M457.2 583.2 L460.8 582.1 L456.9 578.9 L453.2 579.9Z" fill="#f7ff24"/>
<path d="M472.3 588.9 L475.8 588.1 L471.9 584.2 L468.3 584.9Z" fill="#baff20"/>
<path d="M479.8 592.5 L483.3 591.9 L479.3 587.6 L475.8 588.1Z" fill="#8fff1e"/>
<path d="M494.7 601.3 L498.1 601.1 L494.1 596.1 L490.7 596.3Z" fill="#1aff1e"/>
<path d="M396.2 582.3 L400.1 579.7 L396.4 579.2 L392.5 581.8Z" fill="#fbff24"/>
<path d="M403.8 580.5 L407.7 578.1 L403.9 577.3 L400.1 579.7Z" fill="#fff024"/>
<path d="M441.9 579.7 L445.7 578.3 L441.8 575.7 L438.1 577.1Z" fill="#ffe424"/>
<path d="M449.6 581.2 L453.2 579.9 L449.3 577.0 L445.7 578.3Z" fill="#fff224"/>
<path d="M358.5 599.2 L362.5 595.6 L359.1 596.8 L355.1 600.4Z" fill="#2aff24"/>
<path d="M381.0 587.5 L385.0 584.4 L381.4 584.6 L377.5 587.6Z" fill="#c0ff24"/>
<path d="M464.7 585.8 L468.3 584.9 L464.4 581.3 L460.8 582.1Z" fill="#dcff22"/>
<path d="M487.2 596.7 L490.7 596.3 L486.7 591.6 L483.3 591.9Z" fill="#58ff1c"/>
<path d="M347.1 608.3 L351.1 604.2 L347.8 605.6 L343.8 609.7Z" fill="#24ff8c"/>
<path d="M498.7 606.8 L502.0 606.5 L498.1 601.1 L494.7 601.3Z" fill="#18fd59"/>
<path d="M407.5 581.8 L411.4 579.3 L407.7 578.1 L403.8 580.5Z" fill="#ffef24"/>
<path d="M415.2 580.9 L419.0 578.6 L415.3 577.0 L411.4 579.3Z" fill="#ffe524"/>
<path d="M430.5 580.7 L434.3 578.8 L430.5 576.5 L426.7 578.4Z" fill="#ffe224"/>
<path d="M438.2 581.4 L441.9 579.7 L438.1 577.1 L434.3 578.8Z" fill="#ffe924"/>
<path d="M354.5 603.1 L358.5 599.2 L355.1 600.4 L351.1 604.2Z" fill="#24ff42"/>
<path d="M362.0 598.5 L366.0 594.8 L362.5 595.6 L358.5 599.2Z" fill="#47ff24"/>
<path d="M369.5 594.4 L373.5 590.9 L370.0 591.4 L366.0 594.8Z" fill="#7eff24"/>
<path d="M377.0 590.8 L381.0 587.5 L377.5 587.6 L373.5 590.9Z" fill="#a9ff24"/>
<path d="M384.6 587.7 L388.6 584.6 L385.0 584.4 L381.0 587.5Z" fill="#cdff24"/>
<path d="M392.2 585.2 L396.2 582.3 L392.5 581.8 L388.6 584.6Z" fill="#e9ff24"/>
<path d="M422.9 580.5 L426.7 578.4 L422.9 576.5 L419.0 578.6Z" fill="#ffe024"/>
<path d="M453.5 584.6 L457.2 583.2 L453.2 579.9 L449.6 581.2Z" fill="#f6ff24"/>
<path d="M461.1 587.0 L464.7 585.8 L460.8 582.1 L457.2 583.2Z" fill="#deff23"/>
<path d="M468.7 589.9 L472.3 588.9 L468.3 584.9 L464.7 585.8Z" fill="#beff21"/>
<path d="M476.2 593.3 L479.8 592.5 L475.8 588.1 L472.3 588.9Z" fill="#95ff1f"/>
<path d="M483.8 597.3 L487.2 596.7 L483.3 591.9 L479.8 592.5Z" fill="#62ff1c"/>
<path d="M491.2 601.8 L494.7 601.3 L490.7 596.3 L487.2 596.7Z" fill="#23ff1a"/>
<path d="M399.9 583.2 L403.8 580.5 L400.1 579.7 L396.2 582.3Z" fill="#ffff24"/>
<path d="M445.9 582.7 L449.6 581.2 L445.7 578.3 L441.9 579.7Z" fill="#fff524"/>
<path d="M350.5 607.3 L354.5 603.1 L351.1 604.2 L347.1 608.3Z" fill="#24ff69"/>
<path d="M358.0 602.4 L362.0 598.5 L358.5 599.2 L354.5 603.1Z" fill="#24ff24"/>
<path d="M380.6 591.0 L384.6 587.7 L381.0 587.5 L377.0 590.8Z" fill="#b6ff24"/>
<path d="M411.3 583.4 L415.2 580.9 L411.4 579.3 L407.5 581.8Z" fill="#fff224"/>
<path d="M434.4 583.4 L438.2 581.4 L434.3 578.8 L430.5 580.7Z" fill="#fff024"/>
<path d="M465.1 591.1 L468.7 589.9 L464.7 585.8 L461.1 587.0Z" fill="#bfff22"/>
<path d="M487.8 602.5 L491.2 601.8 L487.2 596.7 L483.8 597.3Z" fill="#2dff1b"/>
<path d="M495.2 607.3 L498.7 606.8 L494.7 601.3 L491.2 601.8Z" fill="#19ff4d"/>
<path d="M403.6 584.5 L407.5 581.8 L403.8 580.5 L399.9 583.2Z" fill="#fffe24"/>
<path d="M419.0 582.8 L422.9 580.5 L419.0 578.6 L415.2 580.9Z" fill="#ffec24"/>
<path d="M426.7 582.9 L430.5 580.7 L426.7 578.4 L422.9 580.5Z" fill="#ffeb24"/>
<path d="M442.1 584.5 L445.9 582.7 L441.9 579.7 L438.2 581.4Z" fill="#fffa24"/>
<path d="M365.5 598.1 L369.5 594.4 L366.0 594.8 L362.0 598.5Z" fill="#5fff24"/>
<path d="M373.0 594.3 L377.0 590.8 L373.5 590.9 L369.5 594.4Z" fill="#8fff24"/>
<path d="M388.3 588.3 L392.2 585.2 L388.6 584.6 L384.6 587.7Z" fill="#d5ff24"/>
<path d="M395.9 586.1 L399.9 583.2 L396.2 582.3 L392.2 585.2Z" fill="#eeff24"/>
<path d="M449.8 586.2 L453.5 584.6 L449.6 581.2 L445.9 582.7Z" fill="#f3ff24"/>
<path d="M457.4 588.4 L461.1 587.0 L457.2 583.2 L453.5 584.6Z" fill="#ddff24"/>
<path d="M472.7 594.4 L476.2 593.3 L472.3 588.9 L468.7 589.9Z" fill="#99ff1f"/>
<path d="M480.2 598.2 L483.8 597.3 L479.8 592.5 L476.2 593.3Z" fill="#69ff1d"/>
<path d="M353.9 606.6 L358.0 602.4 L354.5 603.1 L350.5 607.3Z" fill="#24ff4c"/>
<path d="M491.8 608.1 L495.2 607.3 L491.2 601.8 L487.8 602.5Z" fill="#1aff45"/>
<path d="M361.4 602.1 L365.5 598.1 L362.0 598.5 L358.0 602.4Z" fill="#3cff24"/>
<path d="M376.6 594.6 L380.6 591.0 L377.0 590.8 L373.0 594.3Z" fill="#9cff24"/>
<path d="M384.3 591.7 L388.3 588.3 L384.6 587.7 L380.6 591.0Z" fill="#beff24"/>
<path d="M399.7 587.5 L403.6 584.5 L399.9 583.2 L395.9 586.1Z" fill="#eeff24"/>
<path d="M407.4 586.2 L411.3 583.4 L407.5 581.8 L403.6 584.5Z" fill="#fcff24"/>
<path d="M415.1 585.4 L419.0 582.8 L415.2 580.9 L411.3 583.4Z" fill="#fff924"/>
<path d="M422.9 585.2 L426.7 582.9 L422.9 580.5 L419.0 582.8Z" fill="#fff624"/>
<path d="M430.6 585.6 L434.4 583.4 L430.5 580.7 L426.7 582.9Z" fill="#fff924"/>
<path d="M438.3 586.5 L442.1 584.5 L438.2 581.4 L434.4 583.4Z" fill="#fcff24"/>
<path d="M446.0 588.0 L449.8 586.2 L445.9 582.7 L442.1 584.5Z" fill="#edff24"/>
<path d="M461.4 592.5 L465.1 591.1 L461.1 587.0 L457.4 588.4Z" fill="#bdff22"/>
<path d="M469.1 595.6 L472.7 594.4 L468.7 589.9 L465.1 591.1Z" fill="#9aff20"/>
<path d="M484.2 603.4 L487.8 602.5 L483.8 597.3 L480.2 598.2Z" fill="#34ff1c"/>
<path d="M369.0 598.1 L373.0 594.3 L369.5 594.4 L365.5 598.1Z" fill="#71ff24"/>
<path d="M392.0 589.3 L395.9 586.1 L392.2 585.2 L388.3 588.3Z" fill="#d9ff24"/>
<path d="M453.7 590.0 L457.4 588.4 L453.5 584.6 L449.8 586.2Z" fill="#d9ff24"/>
<path d="M476.7 599.2 L480.2 598.2 L476.2 593.3 L472.7 594.4Z" fill="#6dff1e"/>
<path d="M357.4 606.3 L361.4 602.1 L358.0 602.4 L353.9 606.6Z" fill="#24ff33"/>
<path d="M403.4 589.2 L407.4 586.2 L403.6 584.5 L399.7 587.5Z" fill="#eaff24"/>
<path d="M419.0 587.9 L422.9 585.2 L419.0 582.8 L415.1 585.4Z" fill="#faff24"/>
<path d="M426.7 588.1 L430.6 585.6 L426.7 582.9 L422.9 585.2Z" fill="#f9ff24"/>
<path d="M442.3 590.0 L446.0 588.0 L442.1 584.5 L438.3 586.5Z" fill="#e5ff24"/>
<path d="M488.2 609.1 L491.8 608.1 L487.8 602.5 L484.2 603.4Z" fill="#1bff3f"/>
<path d="M365.0 602.1 L369.0 598.1 L365.5 598.1 L361.4 602.1Z" fill="#4eff24"/>
<path d="M372.6 598.5 L376.6 594.6 L373.0 594.3 L369.0 598.1Z" fill="#7eff24"/>
<path d="M380.3 595.3 L384.3 591.7 L380.6 591.0 L376.6 594.6Z" fill="#a4ff24"/>
<path d="M388.0 592.7 L392.0 589.3 L388.3 588.3 L384.3 591.7Z" fill="#c2ff24"/>
<path d="M395.7 590.7 L399.7 587.5 L395.9 586.1 L392.0 589.3Z" fill="#d9ff24"/>
<path d="M411.2 588.3 L415.1 585.4 L411.3 583.4 L407.4 586.2Z" fill="#f5ff24"/>
<path d="M434.5 588.8 L438.3 586.5 L434.4 583.4 L430.6 585.6Z" fill="#f2ff24"/>
<path d="M450.0 591.9 L453.7 590.0 L449.8 586.2 L446.0 588.0Z" fill="#d3ff24"/>
<path d="M457.7 594.2 L461.4 592.5 L457.4 588.4 L453.7 590.0Z" fill="#b9ff23"/>
<path d="M465.4 597.1 L469.1 595.6 L465.1 591.1 L461.4 592.5Z" fill="#98ff21"/>
<path d="M473.1 600.6 L476.7 599.2 L472.7 594.4 L469.1 595.6Z" fill="#6dff1f"/>
<path d="M480.7 604.6 L484.2 603.4 L480.2 598.2 L476.7 599.2Z" fill="#37ff1d"/>
<path d="M360.9 606.4 L365.0 602.1 L361.4 602.1 L357.4 606.3Z" fill="#27ff24"/>
<path d="M368.5 602.5 L372.6 598.5 L369.0 598.1 L365.0 602.1Z" fill="#5cff24"/>
<path d="M391.7 594.2 L395.7 590.7 L392.0 589.3 L388.0 592.7Z" fill="#c2ff24"/>
<path d="M422.9 590.7 L426.7 588.1 L422.9 585.2 L419.0 587.9Z" fill="#eaff24"/>
<path d="M454.0 596.2 L457.7 594.2 L453.7 590.0 L450.0 591.9Z" fill="#b3ff24"/>
<path d="M477.1 605.9 L480.7 604.6 L476.7 599.2 L473.1 600.6Z" fill="#38ff1d"/>
<path d="M484.7 610.3 L488.2 609.1 L484.2 603.4 L480.7 604.6Z" fill="#1bff3d"/>
<path d="M376.2 599.2 L380.3 595.3 L376.6 594.6 L372.6 598.5Z" fill="#86ff24"/>
<path d="M384.0 596.4 L388.0 592.7 L384.3 591.7 L380.3 595.3Z" fill="#a8ff24"/>
<path d="M399.5 592.5 L403.4 589.2 L399.7 587.5 L395.7 590.7Z" fill="#d5ff24"/>
<path d="M407.3 591.4 L411.2 588.3 L407.4 586.2 L403.4 589.2Z" fill="#e2ff24"/>
<path d="M415.1 590.8 L419.0 587.9 L415.1 585.4 L411.2 588.3Z" fill="#e9ff24"/>
<path d="M430.7 591.3 L434.5 588.8 L430.6 585.6 L426.7 588.1Z" fill="#e5ff24"/>
<path d="M438.4 592.3 L442.3 590.0 L438.3 586.5 L434.5 588.8Z" fill="#dbff24"/>
<path d="M446.2 594.0 L450.0 591.9 L446.0 588.0 L442.3 590.0Z" fill="#caff24"/>
<path d="M461.7 598.9 L465.4 597.1 L461.4 592.5 L457.7 594.2Z" fill="#94ff21"/>
<path d="M469.4 602.1 L473.1 600.6 L469.1 595.6 L465.4 597.1Z" fill="#6bff1f"/>
<path d="M364.5 606.9 L368.5 602.5 L365.0 602.1 L360.9 606.4Z" fill="#35ff24"/>
<path d="M481.1 611.7 L484.7 610.3 L480.7 604.6 L477.1 605.9Z" fill="#1cff3e"/>
<path d="M372.2 603.4 L376.2 599.2 L372.6 598.5 L368.5 602.5Z" fill="#64ff24"/>
<path d="M387.7 597.9 L391.7 594.2 L388.0 592.7 L384.0 596.4Z" fill="#a7ff24"/>
<path d="M395.5 596.0 L399.5 592.5 L395.7 590.7 L391.7 594.2Z" fill="#bdff24"/>
<path d="M403.3 594.7 L407.3 591.4 L403.4 589.2 L399.5 592.5Z" fill="#ccff24"/>
<path d="M411.1 593.9 L415.1 590.8 L411.2 588.3 L407.3 591.4Z" fill="#d6ff24"/>
<path d="M418.9 593.7 L422.9 590.7 L419.0 587.9 L415.1 590.8Z" fill="#d9ff24"/>
<path d="M426.8 594.0 L430.7 591.3 L426.7 588.1 L422.9 590.7Z" fill="#d6ff24"/>
<path d="M434.6 594.9 L438.4 592.3 L434.5 588.8 L430.7 591.3Z" fill="#ceff24"/>
<path d="M442.4 596.3 L446.2 594.0 L442.3 590.0 L438.4 592.3Z" fill="#bfff24"/>
<path d="M450.2 598.3 L454.0 596.2 L450.0 591.9 L446.2 594.0Z" fill="#aaff24"/>
<path d="M458.0 600.9 L461.7 598.9 L457.7 594.2 L454.0 596.2Z" fill="#8cff22"/>
<path d="M473.4 607.6 L477.1 605.9 L473.1 600.6 L469.4 602.1Z" fill="#35ff1e"/>
<path d="M379.9 600.4 L384.0 596.4 L380.3 595.3 L376.2 599.2Z" fill="#8aff24"/>
<path d="M465.7 603.9 L469.4 602.1 L465.4 597.1 L461.7 598.9Z" fill="#66ff20"/>
<path d="M368.1 607.7 L372.2 603.4 L368.5 602.5 L364.5 606.9Z" fill="#3dff24"/>
<path d="M391.4 599.8 L395.5 596.0 L391.7 594.2 L387.7 597.9Z" fill="#a2ff24"/>
<path d="M399.3 598.3 L403.3 594.7 L399.5 592.5 L395.5 596.0Z" fill="#b4ff24"/>
<path d="M415.0 596.9 L418.9 593.7 L415.1 590.8 L411.1 593.9Z" fill="#c5ff24"/>
<path d="M430.7 597.7 L434.6 594.9 L430.7 591.3 L426.8 594.0Z" fill="#beff24"/>
<path d="M446.4 600.7 L450.2 598.3 L446.2 594.0 L442.4 596.3Z" fill="#9eff24"/>
<path d="M454.2 603.1 L458.0 600.9 L454.0 596.2 L450.2 598.3Z" fill="#82ff23"/>
<path d="M477.5 613.4 L481.1 611.7 L477.1 605.9 L473.4 607.6Z" fill="#1cff43"/>
<path d="M375.8 604.6 L379.9 600.4 L376.2 599.2 L372.2 603.4Z" fill="#67ff24"/>
<path d="M383.6 601.9 L387.7 597.9 L384.0 596.4 L379.9 600.4Z" fill="#88ff24"/>
<path d="M407.1 597.3 L411.1 593.9 L407.3 591.4 L403.3 594.7Z" fill="#c0ff24"/>
<path d="M422.9 597.0 L426.8 594.0 L422.9 590.7 L418.9 593.7Z" fill="#c5ff24"/>
<path d="M438.6 599.0 L442.4 596.3 L438.4 592.3 L434.6 594.9Z" fill="#b1ff24"/>
<path d="M462.0 606.0 L465.7 603.9 L461.7 598.9 L458.0 600.9Z" fill="#5eff21"/>
<path d="M469.8 609.4 L473.4 607.6 L469.4 602.1 L465.7 603.9Z" fill="#2fff1f"/>
<path d="M371.8 609.0 L375.8 604.6 L372.2 603.4 L368.1 607.7Z" fill="#40ff24"/>
<path d="M379.6 606.2 L383.6 601.9 L379.9 600.4 L375.8 604.6Z" fill="#65ff24"/>
<path d="M403.1 601.0 L407.1 597.3 L403.3 594.7 L399.3 598.3Z" fill="#a6ff24"/>
<path d="M442.6 603.4 L446.4 600.7 L442.4 596.3 L438.6 599.0Z" fill="#8fff24"/>
<path d="M466.0 611.5 L469.8 609.4 L465.7 603.9 L462.0 606.0Z" fill="#27ff1f"/>
<path d="M473.8 615.3 L477.5 613.4 L473.4 607.6 L469.8 609.4Z" fill="#1dff4a"/>
<path d="M387.4 603.9 L391.4 599.8 L387.7 597.9 L383.6 601.9Z" fill="#82ff24"/>
<path d="M395.3 602.2 L399.3 598.3 L395.5 596.0 L391.4 599.8Z" fill="#98ff24"/>
<path d="M411.0 600.3 L415.0 596.9 L411.1 593.9 L407.1 597.3Z" fill="#aeff24"/>
<path d="M418.9 600.3 L422.9 597.0 L418.9 593.7 L415.0 596.9Z" fill="#b0ff24"/>
<path d="M426.8 600.8 L430.7 597.7 L426.8 594.0 L422.9 597.0Z" fill="#abff24"/>
<path d="M434.7 601.8 L438.6 599.0 L434.6 594.9 L430.7 597.7Z" fill="#a0ff24"/>
<path d="M450.4 605.6 L454.2 603.1 L450.2 598.3 L446.4 600.7Z" fill="#75ff23"/>
<path d="M458.2 608.3 L462.0 606.0 L458.0 600.9 L454.2 603.1Z" fill="#53ff21"/>
<path d="M375.5 610.7 L379.6 606.2 L375.8 604.6 L371.8 609.0Z" fill="#3eff24"/>
<path d="M470.1 617.5 L473.8 615.3 L469.8 609.4 L466.0 611.5Z" fill="#1eff55"/>
<path d="M383.3 608.2 L387.4 603.9 L383.6 601.9 L379.6 606.2Z" fill="#5fff24"/>
<path d="M391.2 606.3 L395.3 602.2 L391.4 599.8 L387.4 603.9Z" fill="#78ff24"/>
<path d="M399.1 604.9 L403.1 601.0 L399.3 598.3 L395.3 602.2Z" fill="#89ff24"/>
<path d="M407.0 604.1 L411.0 600.3 L407.1 597.3 L403.1 601.0Z" fill="#94ff24"/>
<path d="M414.9 603.8 L418.9 600.3 L415.0 596.9 L411.0 600.3Z" fill="#98ff24"/>
<path d="M422.9 604.1 L426.8 600.8 L422.9 597.0 L418.9 600.3Z" fill="#95ff24"/>
<path d="M430.8 604.9 L434.7 601.8 L430.7 597.7 L426.8 600.8Z" fill="#8cff24"/>
<path d="M438.7 606.3 L442.6 603.4 L438.6 599.0 L434.7 601.8Z" fill="#7dff24"/>
<path d="M446.6 608.3 L450.4 605.6 L446.4 600.7 L442.6 603.4Z" fill="#65ff24"/>
<path d="M454.4 610.8 L458.2 608.3 L454.2 603.1 L450.4 605.6Z" fill="#45ff22"/>
<path d="M462.3 613.9 L466.0 611.5 L462.0 606.0 L458.2 608.3Z" fill="#20ff25"/>
<path d="M379.2 612.8 L383.3 608.2 L379.6 606.2 L375.5 610.7Z" fill="#36ff24"/>
<path d="M387.1 610.6 L391.2 606.3 L387.4 603.9 L383.3 608.2Z" fill="#53ff24"/>
<path d="M395.0 609.0 L399.1 604.9 L395.3 602.2 L391.2 606.3Z" fill="#68ff24"/>
<path d="M403.0 608.0 L407.0 604.1 L403.1 601.0 L399.1 604.9Z" fill="#76ff24"/>
<path d="M410.9 607.6 L414.9 603.8 L411.0 600.3 L407.0 604.1Z" fill="#7cff24"/>
<path d="M418.9 607.7 L422.9 604.1 L418.9 600.3 L414.9 603.8Z" fill="#7cff24"/>
<path d="M426.8 608.3 L430.8 604.9 L426.8 600.8 L422.9 604.1Z" fill="#75ff24"/>
<path d="M434.8 609.5 L438.7 606.3 L434.7 601.8 L430.8 604.9Z" fill="#67ff24"/>
<path d="M442.7 611.3 L446.6 608.3 L442.6 603.4 L438.7 606.3Z" fill="#52ff24"/>
<path d="M450.6 613.6 L454.4 610.8 L450.4 605.6 L446.6 608.3Z" fill="#33ff22"/>
<path d="M458.5 616.5 L462.3 613.9 L458.2 608.3 L454.4 610.8Z" fill="#20ff35"/>
<path d="M466.4 619.9 L470.1 617.5 L466.0 611.5 L462.3 613.9Z" fill="#1eff63"/>
<path d="M383.0 615.3 L387.1 610.6 L383.3 608.2 L379.2 612.8Z" fill="#2aff24"/>
<path d="M462.6 622.6 L466.4 619.9 L462.3 613.9 L458.5 616.5Z" fill="#1fff74"/>
<path d="M391.0 613.5 L395.0 609.0 L391.2 606.3 L387.1 610.6Z" fill="#42ff24"/>
<path d="M398.9 612.2 L403.0 608.0 L399.1 604.9 L395.0 609.0Z" fill="#53ff24"/>
<path d="M406.9 611.6 L410.9 607.6 L407.0 604.1 L403.0 608.0Z" fill="#5cff24"/>
<path d="M414.9 611.5 L418.9 607.7 L414.9 603.8 L410.9 607.6Z" fill="#5fff24"/>
<path d="M422.9 611.9 L426.8 608.3 L422.9 604.1 L418.9 607.7Z" fill="#5aff24"/>
<path d="M430.8 613.0 L434.8 609.5 L430.8 604.9 L426.8 608.3Z" fill="#4eff24"/>
<path d="M438.8 614.5 L442.7 611.3 L438.7 606.3 L434.8 609.5Z" fill="#3bff24"/>
<path d="M446.7 616.7 L450.6 613.6 L446.6 608.3 L442.7 611.3Z" fill="#23ff27"/>
<path d="M454.7 619.4 L458.5 616.5 L454.4 610.8 L450.6 613.6Z" fill="#21ff49"/>
<path d="M386.8 618.2 L391.0 613.5 L387.1 610.6 L383.0 615.3Z" fill="#24ff30"/>
<path d="M458.7 625.5 L462.6 622.6 L458.5 616.5 L454.7 619.4Z" fill="#1fff87"/>
<path d="M394.8 616.7 L398.9 612.2 L395.0 609.0 L391.0 613.5Z" fill="#2cff24"/>
<path d="M402.8 615.9 L406.9 611.6 L403.0 608.0 L398.9 612.2Z" fill="#38ff24"/>
<path d="M410.8 615.6 L414.9 611.5 L410.9 607.6 L406.9 611.6Z" fill="#3dff24"/>
<path d="M418.9 615.8 L422.9 611.9 L418.9 607.7 L414.9 611.5Z" fill="#3bff24"/>
<path d="M426.9 616.7 L430.8 613.0 L426.8 608.3 L422.9 611.9Z" fill="#31ff24"/>
<path d="M434.9 618.0 L438.8 614.5 L434.8 609.5 L430.8 613.0Z" fill="#24ff28"/>
<path d="M442.8 620.0 L446.7 616.7 L442.7 611.3 L438.8 614.5Z" fill="#23ff40"/>
<path d="M450.8 622.5 L454.7 619.4 L450.6 613.6 L446.7 616.7Z" fill="#21ff60"/>
<path d="M390.7 621.5 L394.8 616.7 L391.0 613.5 L386.8 618.2Z" fill="#24ff48"/>
<path d="M398.7 620.4 L402.8 615.9 L398.9 612.2 L394.8 616.7Z" fill="#24ff38"/>
<path d="M406.8 619.9 L410.8 615.6 L406.9 611.6 L402.8 615.9Z" fill="#24ff30"/>
<path d="M414.8 620.0 L418.9 615.8 L414.9 611.5 L410.8 615.6Z" fill="#24ff30"/>
<path d="M422.9 620.6 L426.9 616.7 L422.9 611.9 L418.9 615.8Z" fill="#24ff37"/>
<path d="M430.9 621.8 L434.9 618.0 L430.8 613.0 L426.9 616.7Z" fill="#24ff46"/>
<path d="M438.9 623.5 L442.8 620.0 L438.8 614.5 L434.9 618.0Z" fill="#23ff5c"/>
<path d="M446.9 625.8 L450.8 622.5 L446.7 616.7 L442.8 620.0Z" fill="#21ff79"/>
<path d="M454.9 628.7 L458.7 625.5 L454.7 619.4 L450.8 622.5Z" fill="#20ff9d"/>
<path d="M394.6 625.2 L398.7 620.4 L394.8 616.7 L390.7 621.5Z" fill="#24ff65"/>
<path d="M451.0 632.1 L454.9 628.7 L450.8 622.5 L446.9 625.8Z" fill="#20ffb5"/>
<path d="M402.7 624.5 L406.8 619.9 L402.8 615.9 L398.7 620.4Z" fill="#24ff5a"/>
<path d="M410.8 624.4 L414.8 620.0 L410.8 615.6 L406.8 619.9Z" fill="#24ff57"/>
<path d="M418.8 624.8 L422.9 620.6 L418.9 615.8 L414.8 620.0Z" fill="#24ff5c"/>
<path d="M426.9 625.8 L430.9 621.8 L426.9 616.7 L422.9 620.6Z" fill="#24ff68"/>
<path d="M434.9 627.4 L438.9 623.5 L434.9 618.0 L430.9 621.8Z" fill="#24ff7b"/>
<path d="M443.0 629.5 L446.9 625.8 L442.8 620.0 L438.9 623.5Z" fill="#22ff95"/>
<path d="M398.6 629.4 L402.7 624.5 L398.7 620.4 L394.6 625.2Z" fill="#24ff87"/>
<path d="M447.1 635.8 L451.0 632.1 L446.9 625.8 L443.0 629.5Z" fill="#20ffce"/>
<path d="M406.7 629.1 L410.8 624.4 L406.8 619.9 L402.7 624.5Z" fill="#24ff81"/>
<path d="M414.8 629.3 L418.8 624.8 L414.8 620.0 L410.8 624.4Z" fill="#24ff83"/>
<path d="M422.9 630.1 L426.9 625.8 L422.9 620.6 L418.8 624.8Z" fill="#24ff8c"/>
<path d="M430.9 631.4 L434.9 627.4 L430.9 621.8 L426.9 625.8Z" fill="#24ff9c"/>
<path d="M439.0 633.4 L443.0 629.5 L438.9 623.5 L434.9 627.4Z" fill="#22ffb2"/>
<path d="M402.5 634.0 L406.7 629.1 L402.7 624.5 L398.6 629.4Z" fill="#24ffac"/>
<path d="M410.7 634.0 L414.8 629.3 L410.8 624.4 L406.7 629.1Z" fill="#24ffab"/>
<path d="M418.8 634.6 L422.9 630.1 L418.8 624.8 L414.8 629.3Z" fill="#24ffb1"/>
<path d="M426.9 635.8 L430.9 631.4 L426.9 625.8 L422.9 630.1Z" fill="#24ffbe"/>
<path d="M435.0 637.5 L439.0 633.4 L434.9 627.4 L430.9 631.4Z" fill="#22ffd0"/>
<path d="M443.1 639.8 L447.1 635.8 L443.0 629.5 L439.0 633.4Z" fill="#21ffe6"/>
<path d="M406.6 639.0 L410.7 634.0 L406.7 629.1 L402.5 634.0Z" fill="#24ffd2"/>
<path d="M439.1 644.0 L443.1 639.8 L439.0 633.4 L435.0 637.5Z" fill="#21fffe"/>
<path d="M414.7 639.4 L418.8 634.6 L414.8 629.3 L410.7 634.0Z" fill="#24ffd5"/>
<path d="M422.9 640.4 L426.9 635.8 L422.9 630.1 L418.8 634.6Z" fill="#24ffde"/>
<path d="M431.0 641.9 L435.0 637.5 L430.9 631.4 L426.9 635.8Z" fill="#23ffec"/>
<path d="M410.6 644.5 L414.7 639.4 L410.7 634.0 L406.6 639.0Z" fill="#24fff7"/>
<path d="M435.1 648.5 L439.1 644.0 L435.0 637.5 L431.0 641.9Z" fill="#21e6fc"/>
<path d="M418.8 645.3 L422.9 640.4 L418.8 634.6 L414.7 639.4Z" fill="#24fffd"/>
<path d="M426.9 646.6 L431.0 641.9 L426.9 635.8 L422.9 640.4Z" fill="#23f7ff"/>
<path d="M414.7 650.4 L418.8 645.3 L414.7 639.4 L410.6 644.5Z" fill="#24e6ff"/>
<path d="M422.9 651.5 L426.9 646.6 L422.9 640.4 L418.8 645.3Z" fill="#23ddfd"/>
<path d="M431.0 653.2 L435.1 648.5 L431.0 641.9 L426.9 646.6Z" fill="#20cdf7"/>
<path d="M418.7 656.7 L422.9 651.5 L418.8 645.3 L414.7 650.4Z" fill="#22c2f8"/>
<path d="M427.0 658.2 L431.0 653.2 L426.9 646.6 L422.9 651.5Z" fill="#1fb5f2"/>
<path d="M422.9 663.5 L427.0 658.2 L422.9 651.5 L418.7 656.7Z" fill="#1e9ced"/>
</g>
<path d="M331.8 558.4 L335.5 647.6 L337.5 674.9 L422.8 715.8 L508.1 674.9 L510.2 647.6 L514.0 558.4" fill="none" stroke="#2a2a2a" stroke-width="0.8"/>
<circle cx="335.48" cy="647.55" r="0.9" fill="#111"/>
<circle cx="334.97" cy="635.27" r="0.9" fill="#111"/>
<circle cx="334.45" cy="622.84" r="0.9" fill="#111"/>
<circle cx="333.92" cy="610.26" r="0.9" fill="#111"/>
<circle cx="333.39" cy="597.54" r="0.9" fill="#111"/>
<circle cx="332.86" cy="584.66" r="0.9" fill="#111"/>
<circle cx="332.31" cy="571.62" r="0.9" fill="#111"/>
<circle cx="331.76" cy="558.43" r="0.9" fill="#111"/>
<circle cx="422.78" cy="715.76" r="0.8" fill="#111"/>
<circle cx="439.84" cy="707.6" r="0.8" fill="#111"/>
<circle cx="456.89" cy="699.43" r="0.8" fill="#111"/>
<circle cx="473.95" cy="691.27" r="0.8" fill="#111"/>
<circle cx="491" cy="683.11" r="0.8" fill="#111"/>
<circle cx="508.06" cy="674.95" r="0.8" fill="#111"/>
<circle cx="422.78" cy="715.76" r="0.8" fill="#111"/>
<circle cx="401.46" cy="705.56" r="0.8" fill="#111"/>
<circle cx="380.15" cy="695.35" r="0.8" fill="#111"/>
<circle cx="358.83" cy="685.15" r="0.8" fill="#111"/>
<circle cx="337.51" cy="674.95" r="0.8" fill="#111"/>
<text x="332.18" y="651.45" font-size="11.5" text-anchor="end" fill="#0a0a0a" stroke="#0a0a0a" stroke-width="0.3">2.6</text>
<text x="331.15" y="626.74" font-size="11.5" text-anchor="end" fill="#0a0a0a" stroke="#0a0a0a" stroke-width="0.3">3</text>
<text x="330.09" y="601.44" font-size="11.5" text-anchor="end" fill="#0a0a0a" stroke="#0a0a0a" stroke-width="0.3">3.4</text>
<text x="329.01" y="575.52" font-size="11.5" text-anchor="end" fill="#0a0a0a" stroke="#0a0a0a" stroke-width="0.3">3.8</text>
<text x="309.9" y="608" font-size="11.5" text-anchor="middle" fill="#0a0a0a" stroke="#0a0a0a" stroke-width="0.3" transform="rotate(-90 309.9 608)" textLength="88.5" lengthAdjust="spacingAndGlyphs">Extraction rate (%)</text>
<text x="428.22" y="726.98" font-size="11.5" text-anchor="middle" fill="#0a0a0a" stroke="#0a0a0a" stroke-width="0.3" transform="rotate(-27 428.22 726.98)">20</text>
<text x="445.68" y="718.94" font-size="11.5" text-anchor="middle" fill="#0a0a0a" stroke="#0a0a0a" stroke-width="0.3" transform="rotate(-27 445.68 718.94)">22</text>
<text x="463.14" y="710.9" font-size="11.5" text-anchor="middle" fill="#0a0a0a" stroke="#0a0a0a" stroke-width="0.3" transform="rotate(-27 463.14 710.9)">24</text>
<text x="480.6" y="702.86" font-size="11.5" text-anchor="middle" fill="#0a0a0a" stroke="#0a0a0a" stroke-width="0.3" transform="rotate(-27 480.6 702.86)">26</text>
<text x="498.06" y="694.82" font-size="11.5" text-anchor="middle" fill="#0a0a0a" stroke="#0a0a0a" stroke-width="0.3" transform="rotate(-27 498.06 694.82)">28</text>
<text x="515.52" y="686.78" font-size="11.5" text-anchor="middle" fill="#0a0a0a" stroke="#0a0a0a" stroke-width="0.3" transform="rotate(-27 515.52 686.78)">30</text>
<text x="409.72" y="728.25" font-size="11.5" text-anchor="middle" fill="#0a0a0a" stroke="#0a0a0a" stroke-width="0.3" transform="rotate(28 409.72 728.25)">160</text>
<text x="388.22" y="716.8" font-size="11.5" text-anchor="middle" fill="#0a0a0a" stroke="#0a0a0a" stroke-width="0.3" transform="rotate(28 388.22 716.8)">180</text>
<text x="366.72" y="705.35" font-size="11.5" text-anchor="middle" fill="#0a0a0a" stroke="#0a0a0a" stroke-width="0.3" transform="rotate(28 366.72 705.35)">200</text>
<text x="345.22" y="693.9" font-size="11.5" text-anchor="middle" fill="#0a0a0a" stroke="#0a0a0a" stroke-width="0.3" transform="rotate(28 345.22 693.9)">220</text>
<text x="323.72" y="682.45" font-size="11.5" text-anchor="middle" fill="#0a0a0a" stroke="#0a0a0a" stroke-width="0.3" transform="rotate(28 323.72 682.45)">240</text>
<text x="487.24" y="720.52" font-size="11.5" text-anchor="middle" fill="#0a0a0a" stroke="#0a0a0a" stroke-width="0.3" transform="rotate(-25.4 487.24 720.52)" textLength="127.6" lengthAdjust="spacingAndGlyphs">B: Solid-liquid ratio (mL/g)</text>
<text x="360.75" y="717.27" font-size="11.5" text-anchor="middle" fill="#0a0a0a" stroke="#0a0a0a" stroke-width="0.3" transform="rotate(27.7 360.75 717.27)" textLength="112.7" lengthAdjust="spacingAndGlyphs">C: Ultrasonic power (W)</text>
<path d="M422.86 559.42L422.86 573.24" stroke="#222" stroke-width="0.8"/>
<circle cx="422.86" cy="559.42" r="1.9" fill="#c00000" stroke="#6e0000" stroke-width="0.6"/>
<circle cx="422.86" cy="567.81" r="1.9" fill="#c00000" stroke="#6e0000" stroke-width="0.6"/>
<circle cx="511.97" cy="605.83" r="1.9" fill="#c00000" stroke="#6e0000" stroke-width="0.6"/>
<circle cx="334.28" cy="618.77" r="1.9" fill="#fdeaea" stroke="#b86a6a" stroke-width="0.8"/>
<circle cx="422.86" cy="666.24" r="1.9" fill="#fdeaea" stroke="#b86a6a" stroke-width="0.8"/>
</g>
</svg></body></html>
